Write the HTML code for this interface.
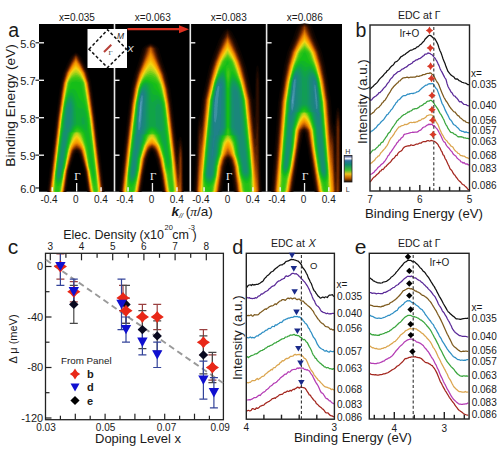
<!DOCTYPE html><html><head><meta charset="utf-8"><style>html,body{margin:0;padding:0;background:#fff;width:504px;height:461px;overflow:hidden}svg{display:block}</style></head><body><svg width="504" height="461" viewBox="0 0 504 461" font-family="Liberation Sans, sans-serif" fill="#1a1a1a">
<defs>
<filter id="cm" x="0" y="0" width="1" height="1" color-interpolation-filters="sRGB" filterUnits="objectBoundingBox">
<feGaussianBlur stdDeviation="0.6"/>
<feComponentTransfer><feFuncR type="table" tableValues="0.000 0.056 0.112 0.174 0.260 0.346 0.431 0.519 0.606 0.693 0.770 0.831 0.892 0.944 0.956 0.968 0.980 0.974 0.968 0.962 0.882 0.784 0.686 0.539 0.392 0.262 0.201 0.140 0.078 0.070 0.062 0.063 0.070 0.077 0.090 0.104 0.118 0.235 0.353 0.637 0.922"/><feFuncG type="table" tableValues="0.000 0.017 0.034 0.054 0.088 0.123 0.157 0.211 0.266 0.320 0.377 0.439 0.500 0.558 0.600 0.643 0.686 0.735 0.784 0.833 0.840 0.836 0.831 0.815 0.798 0.782 0.770 0.757 0.745 0.712 0.680 0.648 0.617 0.587 0.558 0.530 0.502 0.565 0.627 0.794 0.961"/><feFuncB type="table" tableValues="0.000 0.000 0.000 0.000 0.000 0.000 0.000 0.000 0.000 0.000 0.000 0.000 0.000 0.000 0.000 0.000 0.000 0.025 0.049 0.074 0.084 0.091 0.098 0.091 0.084 0.080 0.086 0.092 0.098 0.155 0.212 0.273 0.336 0.399 0.445 0.487 0.529 0.637 0.745 0.873 1.000"/></feComponentTransfer>
</filter>
<linearGradient id="cbar" x1="0" y1="1" x2="0" y2="0">
<stop offset="0" stop-color="#1a0800"/><stop offset="0.15" stop-color="#c06000"/><stop offset="0.3" stop-color="#f0c020"/>
<stop offset="0.45" stop-color="#40c030"/><stop offset="0.65" stop-color="#108c70"/><stop offset="0.8" stop-color="#3070a0"/>
<stop offset="0.88" stop-color="#f0f4ff"/><stop offset="1" stop-color="#203070"/>
</linearGradient>
</defs>
<rect width="504" height="461" fill="#fff"/>

<rect x="39" y="24" width="303" height="167.5" fill="#000"/>
<g filter="url(#cm)"><rect x="39" y="24" width="303" height="167.5" fill="#000"/>
<path fill="rgb(6,6,6)" fill-rule="evenodd" d="M104.5,191.6L101.5,191.9L92.0,192.0L88.5,191.8L86.9,191.5L83.9,171.0L82.5,166.0L78.5,154.0L77.0,152.9L76.5,152.9L75.1,154.0L71.0,166.2L70.0,169.7L69.5,172.1L66.7,191.5L64.0,191.9L57.0,192.0L49.5,191.9L46.9,191.5L55.6,118.0L59.1,92.0L60.6,82.0L62.9,73.0L66.8,64.0L69.8,58.0L70.7,56.5L72.5,54.5L75.0,52.6L76.0,52.2L78.1,53.5L79.8,55.0L81.5,57.0L82.8,59.5L85.3,64.5L88.9,73.0L91.2,82.0L92.7,92.0L96.2,118.0L104.8,191.0L104.9,191.5L104.5,191.6Z"/>
<path fill="rgb(13,13,13)" fill-rule="evenodd" d="M103.5,191.6L100.5,191.9L93.0,192.0L89.5,191.8L87.8,191.5L85.0,172.1L84.5,169.7L79.8,154.0L78.5,152.3L77.0,150.9L76.5,151.0L75.5,151.9L73.8,154.0L69.5,168.1L68.7,171.0L65.8,191.5L63.5,191.9L57.0,192.0L50.5,191.9L48.0,191.5L56.6,118.0L60.1,92.0L61.7,82.0L64.1,73.0L68.2,64.0L71.8,57.0L74.2,54.5L76.0,53.3L78.0,54.8L80.0,57.0L83.6,64.0L87.7,73.0L90.2,82.5L91.7,92.0L95.2,118.0L103.9,191.5L103.5,191.6Z"/>
<path fill="rgb(19,19,19)" fill-rule="evenodd" d="M103.0,191.6L100.5,191.9L94.0,191.9L90.5,191.9L88.4,191.5L85.4,171.0L84.5,167.6L80.6,154.0L78.3,150.5L77.0,150.0L75.2,150.5L73.0,154.0L69.5,166.1L68.2,171.0L65.2,191.5L63.0,191.9L57.0,191.9L51.0,191.9L48.6,191.5L57.2,118.0L60.8,92.0L62.3,82.5L64.9,73.0L68.8,64.5L72.8,57.0L74.7,55.0L76.0,54.1L77.5,55.4L79.0,57.0L82.8,64.0L86.9,73.0L89.4,82.0L91.2,93.0L94.6,118.5L103.2,191.5L103.0,191.6Z"/>
<path fill="rgb(26,26,26)" fill-rule="evenodd" d="M102.5,191.6L100.0,191.9L94.0,191.9L90.5,191.8L88.8,191.5L85.8,171.0L81.1,154.0L79.4,150.5L77.0,149.3L75.5,149.7L74.2,150.5L72.5,154.0L67.8,171.0L64.8,191.5L62.5,191.9L57.0,191.9L51.5,191.9L49.0,191.5L57.7,118.0L61.3,92.0L62.8,82.5L65.4,73.0L68.2,67.0L69.7,64.0L73.6,57.0L75.0,55.5L76.0,54.9L78.2,57.0L82.1,64.0L85.2,70.5L86.4,73.0L89.1,83.0L90.7,93.0L94.2,118.5L102.8,191.5L102.5,191.6Z"/>
<path fill="rgb(32,32,32)" fill-rule="evenodd" d="M102.0,191.6L99.5,191.9L94.0,191.9L91.0,191.8L89.2,191.5L86.2,171.0L81.6,154.0L80.1,150.5L78.5,149.3L77.0,148.7L75.5,149.1L73.5,150.5L72.0,154.0L67.4,171.0L64.4,191.5L62.0,191.8L57.0,191.9L52.0,191.8L49.4,191.5L58.1,118.0L61.6,92.0L63.3,82.0L65.9,73.0L67.8,69.0L70.3,64.0L74.2,57.0L75.5,55.8L76.0,55.5L77.6,57.0L79.9,61.0L81.8,64.5L85.9,73.0L88.7,83.0L90.2,92.0L93.8,118.0L102.3,191.0L102.4,191.5L102.0,191.6Z"/>
<path fill="rgb(38,38,38)" fill-rule="evenodd" d="M102.0,191.5L99.5,191.8L95.0,191.9L91.5,191.8L89.5,191.5L86.5,171.0L82.0,154.0L80.5,150.4L79.0,149.0L77.0,148.0L76.0,148.2L75.0,148.7L73.0,150.5L71.6,154.0L67.1,171.0L64.1,191.5L62.0,191.8L57.0,191.9L52.0,191.8L49.7,191.5L58.4,118.0L61.8,93.0L63.4,83.0L66.3,73.0L70.2,65.0L72.2,61.5L74.8,57.0L76.0,56.1L77.0,57.0L80.8,63.5L85.5,73.0L88.4,83.0L89.8,92.0L93.4,118.0L102.0,191.5Z"/>
<path fill="rgb(45,45,45)" fill-rule="evenodd" d="M101.5,191.6L99.0,191.8L94.5,191.9L91.5,191.8L89.7,191.5L86.7,171.0L82.3,154.0L81.1,150.5L80.5,149.8L79.0,148.3L77.0,147.4L76.0,147.6L75.0,148.1L73.5,149.3L72.6,150.5L71.3,154.0L66.9,171.0L63.9,191.5L61.5,191.8L57.0,191.9L52.5,191.8L50.0,191.5L58.6,118.0L62.3,92.0L63.7,83.0L66.7,73.0L71.2,64.0L75.4,57.0L76.0,56.6L77.0,57.9L80.6,64.0L85.1,73.0L88.1,83.0L89.7,93.0L93.2,118.0L101.8,191.5L101.5,191.6Z"/>
<path fill="rgb(51,51,51)" fill-rule="evenodd" d="M101.5,191.5L99.5,191.8L95.5,191.9L92.0,191.8L90.0,191.5L86.9,171.0L82.6,154.0L81.5,150.5L80.5,149.2L79.0,147.7L77.0,146.7L76.0,146.9L75.0,147.4L73.5,148.7L72.2,150.5L71.0,154.0L66.6,171.0L63.6,191.5L61.5,191.8L57.0,191.9L52.5,191.8L50.3,191.5L58.9,118.0L62.5,92.0L64.1,82.5L67.0,73.0L71.6,64.0L75.0,58.4L76.0,57.2L80.2,64.0L84.8,73.0L87.8,83.0L89.3,92.0L92.9,118.0L101.5,191.5Z"/>
<path fill="rgb(57,57,57)" fill-rule="evenodd" d="M101.0,191.6L99.0,191.8L94.5,191.8L90.2,191.5L87.2,171.0L82.9,154.0L81.8,150.5L80.5,148.5L79.0,147.0L77.0,146.0L76.5,146.1L75.0,146.8L74.0,147.5L73.0,148.7L71.8,150.5L70.7,154.0L66.4,171.0L63.4,191.5L61.5,191.8L57.0,191.8L52.5,191.8L50.5,191.5L59.1,118.0L62.8,92.0L64.2,83.0L67.3,73.0L72.0,64.0L75.5,58.5L76.0,58.0L79.8,64.0L84.5,73.0L87.5,83.0L89.1,92.5L92.7,118.0L101.3,191.5L101.0,191.6Z"/>
<path fill="rgb(64,64,64)" fill-rule="evenodd" d="M101.0,191.5L99.0,191.8L95.5,191.8L92.0,191.7L90.4,191.5L87.4,171.0L83.0,153.3L82.1,150.5L80.5,147.9L79.0,146.4L77.0,145.4L76.5,145.4L75.0,146.1L74.0,146.9L73.0,148.0L71.5,150.5L70.5,153.7L66.2,171.0L63.2,191.5L61.0,191.8L57.0,191.8L53.0,191.8L50.7,191.5L59.3,118.0L63.0,92.0L64.5,83.0L67.6,73.0L72.4,64.0L75.5,59.3L76.0,58.8L79.5,64.2L84.2,73.0L87.3,83.0L88.8,92.0L92.4,118.0L101.0,191.5Z"/>
<path fill="rgb(70,70,70)" fill-rule="evenodd" d="M100.5,191.6L94.5,191.8L90.6,191.5L87.5,171.0L83.0,152.4L82.4,150.5L80.5,147.2L79.0,145.7L77.0,144.7L76.5,144.8L75.0,145.5L73.5,146.8L72.0,149.0L71.0,151.2L66.0,171.0L63.0,191.5L61.0,191.7L57.0,191.8L53.0,191.7L50.9,191.5L59.6,118.0L63.2,92.0L64.7,83.0L67.9,73.0L72.8,64.0L75.5,60.1L76.0,59.6L79.0,64.1L83.9,73.0L87.1,83.0L88.6,92.0L92.2,118.0L100.9,191.5L100.5,191.6Z"/>
<path fill="rgb(76,76,76)" fill-rule="evenodd" d="M100.5,191.5L95.0,191.8L90.8,191.5L87.7,171.0L83.0,151.5L82.0,149.0L80.5,146.6L79.0,145.1L77.0,144.1L76.5,144.1L75.0,144.8L73.5,146.1L72.2,148.0L70.9,150.5L69.9,154.0L65.9,171.0L62.8,191.5L61.0,191.7L57.0,191.8L51.1,191.5L59.8,118.0L63.5,92.0L64.9,83.0L68.2,73.0L73.0,64.5L75.5,60.8L76.0,60.4L79.0,64.8L83.6,73.0L86.9,83.0L88.3,92.0L92.0,118.0L100.7,191.5L100.5,191.5Z"/>
<path fill="rgb(83,83,83)" fill-rule="evenodd" d="M100.0,191.6L94.5,191.8L91.0,191.5L87.9,171.0L83.0,150.5L81.6,147.5L80.5,145.9L79.0,144.4L77.0,143.4L76.5,143.4L75.0,144.1L73.5,145.5L72.0,147.6L70.7,150.5L65.7,171.0L62.6,191.5L57.0,191.8L51.3,191.5L60.0,118.0L63.7,92.0L65.1,83.0L68.5,73.0L73.5,64.4L75.5,61.6L76.0,61.3L79.0,65.5L83.3,73.0L86.7,83.0L88.1,92.0L91.8,118.0L100.5,191.5L100.0,191.6Z"/>
<path fill="rgb(89,89,89)" fill-rule="evenodd" d="M100.0,191.5L95.0,191.7L91.2,191.5L88.1,171.0L83.3,150.5L82.0,147.6L80.5,145.2L79.0,143.7L77.0,142.7L76.5,142.8L75.0,143.5L73.5,144.8L72.0,147.0L70.4,150.5L65.5,171.0L62.4,191.5L57.0,191.7L51.5,191.5L60.1,118.0L63.9,92.0L65.4,83.0L68.8,73.0L73.0,65.9L75.0,63.1L76.0,62.1L79.0,66.2L83.0,73.0L86.4,83.0L87.9,92.0L91.6,118.0L100.3,191.5L100.0,191.5Z"/>
<path fill="rgb(96,96,96)" fill-rule="evenodd" d="M100.0,191.5L95.5,191.7L91.3,191.5L88.2,171.0L87.2,167.0L83.5,150.5L82.0,146.9L80.5,144.5L79.0,143.1L77.0,142.1L76.0,142.3L75.0,142.8L73.0,144.7L71.5,147.3L70.2,150.5L66.4,167.0L65.4,171.0L62.3,191.5L57.0,191.7L51.7,191.5L60.3,118.0L64.1,92.0L65.6,83.0L66.5,79.9L69.1,73.0L73.0,66.6L75.0,63.9L76.0,63.0L79.0,66.9L82.7,73.0L85.0,79.1L86.2,83.0L87.7,92.0L91.5,118.0L100.0,191.5Z"/>
<path fill="rgb(102,102,102)" fill-rule="evenodd" d="M99.5,191.6L95.0,191.7L91.5,191.5L88.4,171.0L87.4,167.0L83.8,150.5L82.5,147.2L81.0,144.5L79.5,142.8L77.0,140.9L76.5,141.0L76.0,141.3L74.0,142.9L73.0,144.0L71.5,146.6L69.9,150.5L66.3,167.0L65.2,171.0L62.1,191.5L57.0,191.7L51.9,191.5L60.5,118.0L64.3,92.0L65.8,83.0L67.0,79.2L69.4,73.0L73.0,67.4L75.0,64.8L76.0,63.9L79.0,67.7L82.4,73.0L85.0,79.8L86.0,83.0L87.5,92.0L91.3,118.0L99.9,191.5L99.5,191.6Z"/>
<path fill="rgb(108,108,108)" fill-rule="evenodd" d="M99.5,191.5L95.5,191.7L91.7,191.5L88.6,171.0L87.5,167.0L84.0,150.5L82.5,146.5L81.2,144.0L78.5,140.9L77.0,139.7L76.5,139.8L75.5,140.5L72.5,144.1L71.0,147.0L69.7,150.5L66.1,167.0L65.0,171.0L61.9,191.5L57.0,191.7L52.1,191.5L60.7,118.0L64.5,92.0L66.0,83.0L67.5,78.5L69.8,73.0L73.5,67.5L75.5,65.2L76.0,64.9L79.0,68.4L82.0,73.0L84.5,79.1L85.8,83.0L87.3,92.0L91.1,118.0L99.7,191.5L99.5,191.5Z"/>
<path fill="rgb(115,115,115)" fill-rule="evenodd" d="M99.0,191.6L95.0,191.7L91.9,191.5L88.8,171.0L87.7,167.0L84.3,150.5L83.0,146.8L81.5,143.8L79.0,140.2L78.0,139.2L77.0,138.5L76.5,138.6L75.0,139.8L72.5,143.3L71.0,146.2L69.5,150.5L65.9,167.0L64.9,171.0L61.7,191.5L57.0,191.7L52.3,191.5L60.9,118.0L64.5,93.1L66.2,83.0L68.0,78.0L70.2,73.0L73.5,68.4L75.0,66.8L76.0,66.0L78.5,68.6L81.6,73.0L84.0,78.5L85.6,83.0L87.1,92.0L90.9,118.0L99.5,191.5L99.0,191.6Z"/>
<path fill="rgb(121,121,121)" fill-rule="evenodd" d="M99.0,191.5L95.5,191.6L92.1,191.5L88.9,171.0L87.9,167.0L84.6,150.5L83.2,146.5L82.0,143.8L79.0,139.0L78.0,138.0L77.0,137.3L76.5,137.3L75.5,138.1L74.0,140.0L71.2,145.0L69.2,150.5L65.8,167.0L64.7,171.0L61.5,191.5L57.0,191.7L52.5,191.5L54.4,174.5L61.0,118.0L63.9,98.5L66.4,83.0L68.0,78.7L70.6,73.0L73.5,69.3L75.0,67.9L76.0,67.2L78.5,69.5L81.2,73.0L83.5,77.9L85.4,83.0L87.0,92.8L90.7,118.0L97.5,176.0L99.3,191.5L99.0,191.5Z"/>
<path fill="rgb(128,128,128)" fill-rule="evenodd" d="M99.0,191.5L95.5,191.6L92.3,191.5L89.1,171.0L88.1,167.0L84.8,150.5L83.0,145.1L80.5,140.1L79.0,137.7L78.0,136.7L77.0,136.0L76.5,136.1L75.5,136.8L74.5,138.0L73.5,139.6L70.9,145.0L69.0,150.5L65.6,167.0L64.5,171.0L61.3,191.5L57.0,191.6L52.8,191.5L54.7,173.0L61.2,118.0L64.0,98.9L66.7,83.0L68.5,78.2L71.1,73.0L74.0,69.8L76.0,68.5L78.5,70.5L80.7,73.0L83.0,77.6L85.1,83.0L86.6,92.0L90.5,118.0L99.0,191.5Z"/>
<path fill="rgb(134,134,134)" fill-rule="evenodd" d="M98.5,191.5L92.5,191.5L89.3,171.0L88.2,167.0L85.1,150.5L83.3,145.0L80.5,138.7L79.0,136.4L78.0,135.4L77.0,134.8L76.5,134.9L75.5,135.6L74.5,136.7L73.5,138.3L70.5,145.0L68.8,150.5L65.4,167.0L64.4,171.0L61.1,191.5L53.0,191.5L54.8,173.5L61.4,118.0L64.0,100.0L66.9,83.0L69.0,77.9L71.5,73.5L74.0,71.0L76.0,69.9L78.5,71.5L80.5,73.8L83.0,78.3L84.9,83.0L86.5,92.7L90.3,118.0L97.0,175.0L98.8,191.5L98.5,191.5Z"/>
<path fill="rgb(140,140,140)" fill-rule="evenodd" d="M98.5,191.5L92.8,191.5L89.5,171.0L88.4,167.0L86.1,154.0L84.8,148.5L83.5,144.5L80.5,137.3L79.0,135.1L78.0,134.1L77.0,133.6L76.5,133.6L75.5,134.3L74.5,135.4L73.5,137.0L70.5,144.2L69.2,148.0L67.8,154.0L65.3,167.0L64.2,171.0L60.8,191.5L53.3,191.5L54.9,173.5L61.5,118.0L64.0,101.2L67.2,83.0L67.5,82.0L69.0,78.8L71.5,74.6L73.5,72.5L75.0,71.7L76.0,71.4L78.5,72.7L80.5,74.8L83.0,79.2L84.6,83.0L90.1,118.0L96.5,172.4L98.5,191.5Z"/>
<path fill="rgb(147,147,147)" fill-rule="evenodd" d="M98.0,191.5L93.1,191.5L89.7,171.0L88.7,167.0L86.3,153.5L84.9,147.5L82.0,139.2L80.6,136.0L79.0,133.8L78.0,132.9L77.0,132.5L76.4,132.5L75.0,133.5L73.5,135.6L72.0,139.0L69.1,147.5L67.7,153.5L65.1,167.0L64.0,171.0L60.6,191.5L53.5,191.5L54.1,186.5L55.0,174.4L61.5,119.6L63.5,105.4L65.5,93.7L67.5,83.0L68.0,81.6L70.0,77.9L71.5,75.7L73.5,73.9L75.5,73.0L76.5,73.1L78.0,73.7L80.0,75.4L82.5,79.1L84.0,82.0L84.3,83.0L90.0,119.3L96.5,174.3L98.2,191.5L98.0,191.5Z"/>
<path fill="rgb(153,153,153)" fill-rule="evenodd" d="M97.5,191.5L93.4,191.5L89.9,171.0L88.9,167.0L86.7,154.0L85.1,147.0L82.4,138.5L80.9,135.0L80.0,133.6L79.0,132.5L77.0,132.2L74.8,132.5L73.5,134.2L72.0,137.5L69.1,146.5L67.7,152.0L64.9,167.0L63.8,171.0L60.2,191.5L53.9,191.5L54.4,187.0L54.9,178.0L55.5,171.5L62.0,117.0L63.5,106.6L65.0,97.7L67.9,83.0L68.2,82.0L70.0,78.9L71.5,76.9L73.5,75.4L75.5,74.7L76.5,74.7L78.0,75.2L80.0,76.6L82.0,79.2L83.5,81.8L84.0,83.0L89.6,118.0L96.3,175.0L97.9,191.5L97.5,191.5Z"/>
<path fill="rgb(159,159,159)" fill-rule="evenodd" d="M97.0,191.5L93.8,191.5L92.9,185.5L91.0,176.3L90.2,171.0L89.1,167.0L86.4,150.5L85.3,146.0L82.6,137.5L81.5,134.6L80.2,132.5L77.0,131.8L73.7,132.5L73.1,133.5L71.5,137.5L68.9,146.0L67.3,153.0L64.7,167.0L63.6,171.0L62.5,177.9L60.6,186.5L59.9,191.5L54.3,191.5L54.8,187.0L55.0,178.6L55.5,172.9L62.0,118.5L64.5,101.8L68.5,82.4L70.0,79.9L71.5,78.2L73.0,77.2L75.0,76.5L76.0,76.4L77.5,76.6L79.0,77.3L80.0,78.0L82.0,80.2L83.5,83.0L88.5,112.5L89.5,119.5L96.0,174.4L96.9,186.0L97.5,191.5L97.0,191.5Z"/>
<path fill="rgb(166,166,166)" fill-rule="evenodd" d="M96.5,191.5L94.4,191.5L93.7,187.0L91.5,177.3L90.5,171.0L89.4,167.0L86.8,150.5L85.7,146.0L83.2,137.0L82.3,134.5L81.3,132.5L79.8,132.0L78.0,130.8L77.0,130.5L76.1,131.0L75.1,132.0L72.9,132.5L72.0,134.5L70.8,138.0L67.5,150.5L64.5,167.0L63.4,171.0L62.0,179.2L60.2,186.5L59.4,191.5L54.8,191.5L55.3,187.0L55.2,180.0L55.5,174.5L62.3,118.0L64.5,103.0L68.8,83.0L70.0,81.0L71.5,79.6L73.0,78.7L74.5,78.3L76.0,78.1L77.0,78.2L79.5,79.0L81.5,80.7L82.5,82.0L83.0,83.0L89.0,118.1L95.6,173.5L96.0,178.1L96.3,186.5L96.9,191.5L96.5,191.5Z"/>
<path fill="rgb(172,172,172)" fill-rule="evenodd" d="M58.5,191.5L55.5,191.5L56.0,187.0L55.5,181.5L55.6,176.5L62.5,118.0L64.5,104.4L66.0,97.0L68.7,87.0L69.5,83.0L70.5,81.7L72.5,80.5L75.0,79.9L77.5,80.0L79.0,80.3L80.5,81.1L81.5,81.9L82.3,83.0L84.7,97.5L88.0,114.1L95.3,174.0L95.6,180.0L95.3,185.0L95.0,186.3L94.5,185.8L93.5,183.3L92.0,177.8L90.8,171.0L89.8,167.0L87.3,150.5L86.3,146.0L83.4,135.5L82.2,132.5L81.1,132.0L79.0,130.0L78.0,129.5L77.0,129.2L76.5,129.4L75.5,130.3L74.2,132.0L72.2,132.5L70.9,136.0L67.2,150.5L64.2,167.0L63.2,171.0L62.0,177.9L61.0,181.9L59.4,187.0L58.7,191.5L58.5,191.5Z"/>
<path fill="rgb(178,178,178)" fill-rule="evenodd" d="M58.5,186.0L58.0,186.4L57.5,186.4L57.0,185.8L56.2,183.5L55.8,179.5L55.9,174.5L61.2,132.0L63.0,116.2L65.0,103.2L67.0,94.7L68.0,91.6L70.2,86.0L70.8,83.0L72.0,82.2L73.5,81.8L76.0,81.6L78.5,81.9L80.0,82.3L81.0,83.0L83.3,96.0L86.0,106.8L87.5,114.2L88.5,121.2L89.5,132.0L94.5,171.1L95.0,176.5L94.8,180.0L94.5,181.1L94.0,181.2L93.0,179.3L92.0,175.6L91.3,171.0L90.2,167.0L87.9,150.5L86.8,145.5L83.8,134.0L83.2,132.5L82.4,132.0L80.0,129.2L78.5,128.3L77.0,127.9L76.0,128.5L75.0,129.5L73.3,132.0L71.5,132.5L71.0,134.0L66.9,150.5L64.0,167.0L62.9,171.0L61.5,178.8L60.0,183.4L58.5,186.0Z"/>
<path fill="rgb(185,185,185)" fill-rule="evenodd" d="M58.5,183.8L58.0,184.0L57.5,183.8L57.0,183.3L56.5,182.0L56.0,178.5L56.2,174.5L61.3,132.5L61.5,132.0L63.1,118.0L64.5,107.6L66.5,98.2L67.5,95.0L68.5,92.6L69.5,90.9L71.0,89.3L72.0,88.9L73.5,88.8L74.9,89.5L76.0,90.7L76.9,92.5L79.0,98.0L80.0,99.3L82.0,101.2L83.5,103.4L85.0,107.1L86.5,112.7L87.5,118.2L88.1,124.0L88.6,132.0L89.0,132.5L90.8,149.0L93.5,167.9L94.1,173.5L94.0,176.5L93.5,177.0L93.0,176.2L92.5,174.6L91.9,171.0L90.8,167.0L88.8,150.5L85.8,137.0L84.8,133.5L84.4,132.5L83.8,132.0L82.0,129.5L80.5,127.9L79.0,126.9L78.0,126.6L77.0,126.6L76.0,127.1L75.0,128.0L73.9,129.5L72.6,132.0L70.9,132.5L70.7,133.0L67.2,147.5L63.7,167.0L62.7,171.0L61.5,177.5L60.0,181.9L59.5,182.8L58.5,183.8Z"/>
<path fill="rgb(191,191,191)" fill-rule="evenodd" d="M58.5,182.2L58.0,182.3L57.5,182.0L57.0,181.2L56.6,180.0L56.4,177.5L56.5,174.0L61.7,132.5L61.9,132.0L63.4,118.0L64.5,109.6L66.0,101.8L67.5,96.9L68.5,94.8L69.5,93.4L70.5,92.7L71.5,92.6L72.3,93.0L73.0,93.6L74.2,95.5L75.3,98.5L77.5,106.1L78.2,107.5L79.0,108.3L79.5,108.4L81.5,108.0L82.5,108.3L83.5,109.1L84.5,110.8L85.5,113.6L86.5,118.1L87.2,124.0L87.0,129.5L86.5,130.8L86.0,130.9L85.5,130.7L81.8,127.0L80.5,125.9L79.0,125.2L77.0,125.1L75.5,126.0L74.5,127.1L73.3,129.0L71.8,132.0L70.3,132.5L69.2,136.5L66.8,147.5L63.4,167.0L62.4,171.0L61.5,176.1L60.0,180.5L59.5,181.3L58.5,182.2Z"/>
<path fill="rgb(198,198,198)" fill-rule="evenodd" d="M58.5,180.7L58.0,180.7L57.5,180.3L57.0,179.1L56.7,176.5L56.8,173.5L62.0,132.5L62.4,132.0L63.8,118.0L65.0,108.8L66.0,103.7L67.5,98.8L69.0,96.2L70.0,95.4L71.0,95.4L72.0,96.0L73.2,98.0L74.1,100.5L74.9,104.0L75.6,110.0L76.1,118.0L76.1,124.0L75.0,124.8L73.7,126.5L72.5,128.8L71.1,132.0L69.6,132.5L66.3,148.0L63.0,167.0L62.0,171.0L61.4,175.0L60.8,177.0L60.0,179.1L59.5,179.9L58.5,180.7ZM84.5,124.5L83.5,124.7L81.6,124.0L81.5,119.0L81.9,117.5L82.5,116.8L83.0,116.6L83.5,117.0L84.0,117.8L84.4,119.0L84.9,124.0L84.5,124.5Z"/>
<path fill="rgb(204,204,204)" fill-rule="evenodd" d="M59.0,179.1L58.5,179.3L58.0,179.1L57.5,178.3L57.1,176.0L57.1,173.5L62.5,132.5L62.9,132.0L64.0,120.4L65.3,109.5L66.5,103.8L67.5,100.8L68.0,99.7L69.0,98.3L69.5,98.0L70.5,97.8L71.5,98.5L72.5,100.3L73.2,102.5L73.8,105.5L74.1,109.5L74.1,124.0L72.5,126.7L70.3,132.0L68.9,132.5L65.8,148.0L62.6,167.0L61.6,171.0L61.0,174.9L60.0,177.7L59.0,179.1Z"/>
<path fill="rgb(210,210,210)" fill-rule="evenodd" d="M59.0,177.5L58.5,177.6L57.9,177.0L57.6,175.5L57.6,173.5L61.2,147.5L63.1,132.5L63.6,132.0L64.5,121.2L65.9,109.0L66.5,106.2L67.5,103.0L68.5,101.1L69.0,100.6L70.0,100.3L71.0,100.9L71.6,102.0L72.3,104.0L72.8,107.0L73.0,110.0L72.7,124.0L69.4,132.0L68.2,132.5L65.3,147.5L62.1,167.0L61.1,171.0L60.5,174.8L60.0,176.2L59.0,177.5Z"/>
<path fill="rgb(217,217,217)" fill-rule="evenodd" d="M59.0,175.6L58.5,175.4L58.3,174.5L58.5,170.9L61.7,150.0L63.9,132.5L64.8,132.0L65.0,124.0L66.5,110.0L67.0,107.3L68.0,104.5L68.5,103.6L69.5,103.0L70.0,103.1L70.4,103.5L71.0,104.5L71.5,106.3L71.7,108.0L71.3,124.0L68.2,132.0L67.2,132.5L64.3,148.0L61.5,166.9L60.5,171.0L60.0,173.9L59.5,175.1L59.0,175.6Z"/>
<path fill="rgb(223,223,223)" fill-rule="evenodd" d="M67.5,128.3L67.0,128.5L66.5,127.5L66.3,124.0L67.7,109.5L68.1,108.0L68.5,107.1L69.0,106.7L69.5,106.7L70.0,107.5L70.3,109.5L69.7,124.0L68.5,126.8L67.5,128.3Z"/>
<path fill="rgb(6,6,6)" fill-rule="evenodd" d="M183.5,191.7L181.0,191.9L167.5,192.0L164.0,191.9L161.9,191.5L159.5,175.0L158.3,169.0L155.7,159.0L152.8,152.0L152.0,151.5L151.0,152.0L148.0,159.4L145.7,169.0L144.5,175.0L142.1,191.5L139.0,191.9L131.0,192.0L122.0,191.9L118.9,191.5L123.3,150.0L128.7,104.0L130.7,89.0L131.6,84.5L134.0,74.5L138.6,61.0L142.1,48.5L144.0,46.5L145.9,45.0L148.0,43.9L150.0,43.2L151.0,43.2L152.3,43.5L155.0,44.8L157.2,46.5L159.0,48.5L162.5,60.8L167.2,74.5L170.4,88.5L172.7,105.5L176.0,134.1L177.0,140.6L177.5,141.5L178.0,140.8L179.4,137.5L180.0,136.8L180.5,136.7L181.0,137.0L181.5,137.8L182.2,140.0L182.9,145.0L183.4,154.0L183.9,191.5L183.5,191.7Z"/>
<path fill="rgb(13,13,13)" fill-rule="evenodd" d="M183.0,191.6L181.0,191.9L169.5,192.0L165.5,191.9L163.0,191.5L160.5,174.4L157.0,159.0L154.3,152.0L152.0,149.9L151.0,150.6L149.5,152.0L146.8,159.0L143.5,174.7L141.0,191.5L138.0,191.9L131.0,192.0L123.0,191.9L120.1,191.5L124.7,148.0L129.8,104.5L132.1,88.5L135.3,75.0L140.4,60.5L144.0,48.5L145.0,47.3L147.0,45.7L148.5,44.7L150.5,43.9L152.0,44.4L154.0,45.5L155.8,47.0L157.2,48.5L160.9,61.0L165.7,74.5L166.2,76.5L169.2,89.0L171.3,104.0L176.0,143.8L177.0,149.9L177.5,150.3L179.0,143.0L179.5,141.2L180.0,140.3L180.5,140.1L181.0,140.5L181.8,143.0L182.4,147.5L182.9,155.5L183.2,191.5L183.0,191.6Z"/>
<path fill="rgb(19,19,19)" fill-rule="evenodd" d="M182.5,191.6L180.5,191.9L169.5,191.9L166.0,191.9L163.7,191.5L161.0,173.6L157.8,159.0L155.2,152.0L153.0,149.3L152.0,148.7L151.3,149.0L150.5,149.7L148.7,152.0L146.0,159.0L142.8,175.0L140.3,191.5L137.5,191.9L131.0,191.9L124.0,191.9L120.8,191.5L125.2,150.0L130.2,107.0L132.9,88.5L136.2,75.0L141.5,60.5L145.2,48.5L147.5,46.3L150.5,44.6L152.0,45.2L153.5,46.1L155.2,47.5L156.0,48.5L159.9,61.0L164.8,74.5L167.3,84.0L168.3,88.5L170.6,104.0L176.5,153.8L177.0,156.8L177.5,157.9L178.0,155.6L179.2,146.0L179.9,143.5L180.5,143.0L181.0,143.6L181.5,145.2L182.1,150.0L182.5,157.0L182.8,191.5L182.5,191.6Z"/>
<path fill="rgb(26,26,26)" fill-rule="evenodd" d="M182.0,191.6L180.5,191.8L169.5,191.9L166.0,191.8L164.2,191.5L161.7,175.0L158.4,159.0L155.8,152.0L153.8,149.0L152.0,148.1L150.1,149.0L148.0,152.0L145.4,159.0L142.3,175.0L139.8,191.5L137.0,191.9L131.0,191.9L124.0,191.9L121.3,191.5L125.7,150.0L131.1,104.0L133.5,88.5L137.1,74.5L142.1,61.0L146.1,48.5L148.0,46.7L150.5,45.2L151.5,45.6L153.0,46.5L155.1,48.5L159.0,60.6L164.1,74.5L167.7,88.5L170.1,104.0L176.5,158.8L177.5,164.4L178.0,163.9L178.8,153.5L179.3,149.0L180.0,146.2L180.5,145.7L181.0,146.5L181.4,148.0L181.9,152.5L182.2,158.5L182.5,191.5L182.0,191.6Z"/>
<path fill="rgb(32,32,32)" fill-rule="evenodd" d="M182.0,191.5L180.5,191.8L171.0,191.9L167.0,191.8L164.6,191.5L162.1,175.0L158.9,159.0L156.4,152.0L155.5,150.5L154.5,148.9L153.5,148.2L152.0,147.4L150.5,148.1L149.5,148.8L148.5,150.2L147.5,152.0L145.0,159.0L141.9,175.0L139.4,191.5L137.0,191.8L131.0,191.9L124.5,191.8L121.7,191.5L126.2,150.0L131.3,106.5L134.0,88.5L137.6,74.5L142.9,60.5L146.9,48.5L148.5,47.0L150.5,45.8L152.5,46.9L154.3,48.5L158.5,61.0L163.6,74.5L167.2,88.5L169.6,104.0L176.5,162.9L177.5,169.2L178.0,170.0L178.5,167.3L179.0,156.5L179.5,151.4L180.0,149.1L180.5,148.5L181.0,149.4L181.5,152.6L181.8,158.0L182.2,191.5L182.0,191.5Z"/>
<path fill="rgb(38,38,38)" fill-rule="evenodd" d="M181.5,191.6L170.5,191.9L167.0,191.8L164.9,191.5L162.5,175.0L159.3,159.0L156.8,152.0L155.2,149.0L153.5,147.5L152.0,146.8L150.0,147.8L148.5,149.3L147.0,152.0L144.6,159.0L141.6,175.0L139.1,191.5L136.5,191.8L131.0,191.9L125.0,191.8L122.1,191.5L126.6,149.0L131.8,105.0L134.4,88.5L138.1,74.5L143.5,60.5L147.6,48.5L148.5,47.6L150.5,46.3L152.0,47.1L153.6,48.5L157.9,61.0L163.1,74.5L166.8,88.5L169.3,104.0L176.5,166.4L177.5,173.2L178.0,174.7L178.5,173.9L178.9,170.5L179.5,155.5L180.0,152.3L180.5,151.5L181.0,152.9L181.5,159.5L181.9,191.5L181.5,191.6Z"/>
<path fill="rgb(45,45,45)" fill-rule="evenodd" d="M181.5,191.5L171.5,191.9L167.5,191.8L165.2,191.5L162.8,175.0L159.6,159.0L157.2,152.0L155.7,149.0L154.0,147.3L152.0,146.1L150.0,147.1L148.2,149.0L146.6,152.0L144.2,159.0L141.3,175.0L138.8,191.5L136.5,191.8L131.0,191.9L125.0,191.8L122.4,191.5L126.8,150.0L132.2,104.0L134.7,88.5L138.5,74.5L144.0,60.5L148.2,48.5L149.0,47.8L150.5,46.9L152.0,47.6L153.0,48.5L157.4,61.0L162.7,74.5L166.4,88.5L169.0,104.0L177.0,173.4L178.0,178.6L178.5,178.8L179.0,176.3L179.3,173.0L180.0,157.0L180.5,155.4L180.8,157.0L181.0,159.5L181.5,191.5Z"/>
<path fill="rgb(51,51,51)" fill-rule="evenodd" d="M181.0,191.6L171.0,191.8L167.5,191.8L165.5,191.5L163.1,175.0L159.9,159.0L157.6,152.0L156.1,149.0L154.0,146.6L153.1,146.0L152.0,145.6L150.8,146.0L150.0,146.5L149.0,147.4L147.7,149.0L146.3,152.0L143.9,159.0L141.0,175.0L138.5,191.5L136.0,191.8L131.0,191.9L125.5,191.8L122.7,191.5L127.1,150.0L132.3,105.5L135.1,88.5L136.2,84.0L138.9,74.5L144.3,61.0L148.9,48.5L150.5,47.3L151.5,47.8L152.3,48.5L156.9,61.0L162.3,74.5L166.1,88.5L168.7,104.0L177.0,176.2L178.0,182.0L178.5,182.8L179.1,181.0L180.0,173.1L180.5,171.7L181.3,191.5L181.0,191.6Z"/>
<path fill="rgb(57,57,57)" fill-rule="evenodd" d="M180.5,191.6L171.0,191.8L167.5,191.7L165.7,191.5L163.3,175.0L160.2,159.0L157.9,152.0L156.5,149.0L155.5,147.5L154.0,146.0L152.0,145.1L149.8,146.0L148.5,147.3L147.5,148.7L146.0,152.0L143.6,159.0L140.8,175.0L138.3,191.5L136.0,191.8L131.0,191.8L125.5,191.8L122.9,191.5L127.4,150.0L132.8,104.0L135.4,88.5L136.6,83.5L139.2,74.5L149.5,48.7L150.5,47.8L151.6,48.5L162.0,74.5L164.7,84.0L165.8,88.5L168.4,104.0L177.5,182.4L178.0,185.0L178.5,186.3L179.0,186.1L180.0,182.7L180.3,183.5L180.5,184.2L181.0,191.5L180.5,191.6Z"/>
<path fill="rgb(64,64,64)" fill-rule="evenodd" d="M180.5,191.5L172.0,191.8L168.0,191.7L166.0,191.5L163.6,175.0L160.5,159.0L158.2,152.0L156.5,148.4L154.7,146.0L153.5,145.2L152.0,144.7L150.5,145.2L149.1,146.0L147.5,148.1L145.7,152.0L143.3,159.0L140.6,175.0L138.0,191.5L135.5,191.8L131.0,191.8L126.0,191.8L123.2,191.5L127.6,150.0L133.0,104.0L135.7,88.5L136.8,84.0L139.5,74.5L149.0,51.4L150.5,48.4L151.0,48.7L152.0,51.0L161.7,74.5L164.4,84.0L165.5,88.5L168.2,104.0L177.5,185.1L178.0,187.9L178.5,189.5L179.0,189.8L179.5,189.2L180.0,189.0L180.5,191.5Z"/>
<path fill="rgb(70,70,70)" fill-rule="evenodd" d="M178.0,191.5L171.5,191.8L166.2,191.5L163.8,175.0L160.7,159.0L158.5,152.0L156.5,147.8L155.0,145.8L153.5,144.7L152.0,144.2L150.5,144.7L149.5,145.2L148.5,146.0L147.5,147.5L145.4,152.0L143.1,159.0L140.3,175.0L137.8,191.5L135.5,191.7L131.0,191.8L126.0,191.7L123.4,191.5L127.9,150.0L133.3,104.0L135.9,88.5L137.0,84.0L139.9,74.5L150.5,49.7L151.0,50.3L152.0,52.5L161.3,74.5L164.2,84.0L165.3,88.5L167.9,104.0L173.3,150.0L177.0,183.8L178.2,191.5L178.0,191.5Z"/>
<path fill="rgb(76,76,76)" fill-rule="evenodd" d="M177.5,191.5L171.5,191.8L166.4,191.5L164.0,175.0L161.0,159.0L158.7,152.0L157.5,149.0L156.5,147.1L155.8,146.0L154.5,144.9L152.0,143.7L150.5,144.2L149.5,144.7L148.1,146.0L147.5,146.8L146.4,149.0L145.1,152.0L142.8,159.0L137.6,191.5L135.5,191.7L131.0,191.8L126.0,191.7L123.7,191.5L128.1,150.0L133.5,104.0L136.2,88.5L137.3,84.0L140.2,74.5L144.0,65.6L150.5,51.3L151.0,51.9L153.0,56.1L161.0,74.5L163.9,84.0L165.0,88.5L167.7,104.0L173.1,150.0L176.5,181.7L177.7,191.5L177.5,191.5Z"/>
<path fill="rgb(83,83,83)" fill-rule="evenodd" d="M177.0,191.5L171.0,191.8L166.6,191.5L164.2,175.0L161.2,159.0L159.0,152.0L157.8,149.0L156.5,146.5L155.5,145.2L154.5,144.4L152.0,143.2L150.5,143.7L149.5,144.2L147.5,146.2L146.1,149.0L144.9,152.0L142.6,159.0L137.4,191.5L131.0,191.8L123.9,191.5L128.3,150.0L133.7,104.0L136.3,89.0L137.6,84.0L140.5,74.5L144.5,65.4L150.5,52.9L151.0,53.5L153.0,57.4L157.5,67.1L160.7,74.5L163.6,84.0L164.8,88.5L167.5,104.0L172.9,150.0L177.4,191.5L177.0,191.5Z"/>
<path fill="rgb(89,89,89)" fill-rule="evenodd" d="M177.0,191.5L171.5,191.7L166.8,191.5L164.4,175.0L163.2,169.0L161.5,159.0L159.3,152.0L158.0,148.8L156.6,146.0L154.5,143.9L152.0,142.7L150.5,143.2L149.5,143.7L148.5,144.5L147.2,146.0L146.0,148.5L144.6,152.0L142.4,159.0L137.2,191.5L131.0,191.7L124.1,191.5L128.6,150.0L134.0,104.0L136.7,88.5L137.8,84.0L140.8,74.5L145.5,64.2L150.5,54.6L151.0,55.1L152.0,56.8L155.5,63.8L160.4,74.5L163.4,84.0L164.5,88.5L167.2,104.0L172.6,150.0L177.0,191.5Z"/>
<path fill="rgb(96,96,96)" fill-rule="evenodd" d="M176.5,191.5L171.5,191.7L167.1,191.5L164.6,175.0L163.4,169.0L161.7,159.0L159.5,152.0L157.0,146.0L156.0,144.7L154.5,143.4L152.0,142.2L150.5,142.7L149.0,143.6L148.0,144.5L146.9,146.0L144.3,152.0L142.2,159.0L140.7,169.0L139.5,175.0L136.9,191.5L131.0,191.7L124.3,191.5L128.8,150.0L134.2,104.0L136.8,89.0L138.1,84.0L141.2,74.5L145.5,65.2L150.5,56.1L151.0,56.6L152.0,58.2L155.0,63.8L160.0,74.5L163.1,84.0L164.3,89.0L167.2,105.5L172.4,150.0L176.9,191.5L176.5,191.5Z"/>
<path fill="rgb(102,102,102)" fill-rule="evenodd" d="M176.5,191.5L171.5,191.7L167.3,191.5L164.8,175.0L163.6,169.0L161.9,159.0L159.8,152.0L157.3,146.0L156.0,144.2L155.0,143.2L152.0,141.4L149.0,143.0L147.5,144.5L146.5,146.0L144.1,152.0L141.9,159.0L140.5,169.0L139.4,175.0L136.7,191.5L131.0,191.7L124.6,191.5L129.0,150.0L134.4,104.0L137.1,89.0L138.3,84.0L141.5,74.5L146.0,65.2L150.5,57.7L151.5,58.9L154.5,63.9L159.5,74.1L162.8,84.0L164.1,89.0L166.8,104.0L172.2,150.0L176.6,191.5L176.5,191.5Z"/>
<path fill="rgb(108,108,108)" fill-rule="evenodd" d="M176.0,191.5L171.5,191.7L167.5,191.5L165.1,175.0L163.8,169.0L162.1,159.0L160.2,152.5L158.3,147.5L157.0,144.9L155.5,143.1L152.0,140.4L151.0,140.9L148.4,143.0L147.1,144.5L146.2,146.0L143.9,152.0L141.7,159.0L140.3,169.0L139.2,175.0L136.5,191.5L131.0,191.7L124.8,191.5L129.2,150.0L134.6,104.0L137.3,89.0L138.6,84.0L141.9,74.5L146.5,65.3L148.5,62.1L150.5,59.4L151.0,59.7L152.0,61.1L154.5,65.0L157.0,69.6L159.3,74.5L162.6,84.0L163.8,89.0L166.8,105.5L173.2,161.0L176.4,191.5L176.0,191.5Z"/>
<path fill="rgb(115,115,115)" fill-rule="evenodd" d="M176.0,191.5L171.5,191.7L167.7,191.5L165.3,175.0L164.0,169.0L162.3,159.0L160.3,152.0L158.5,147.2L157.4,145.0L156.3,143.5L153.5,140.5L152.0,139.3L151.0,139.9L150.0,140.7L147.5,143.4L146.0,145.7L143.6,152.0L141.5,159.0L140.1,169.0L136.3,191.5L131.0,191.7L125.0,191.5L129.4,150.0L134.8,104.0L137.5,89.0L138.8,84.0L142.2,74.5L146.5,66.5L148.5,63.4L150.5,61.0L151.0,61.4L152.0,62.5L154.5,66.1L159.0,74.5L162.3,84.0L163.6,89.0L166.4,104.0L171.8,150.0L176.2,191.5L176.0,191.5Z"/>
<path fill="rgb(121,121,121)" fill-rule="evenodd" d="M175.5,191.5L171.5,191.6L167.9,191.5L165.5,175.0L164.2,169.0L162.6,159.0L160.5,152.0L158.5,146.4L157.5,144.5L154.0,139.9L152.0,138.3L150.5,139.2L149.5,140.2L148.3,142.0L147.0,143.5L145.8,145.5L143.4,152.0L141.3,159.0L139.9,169.0L136.1,191.5L131.0,191.7L125.3,191.5L129.5,150.0L134.9,104.0L137.7,89.0L139.1,84.0L142.7,74.5L145.0,70.1L147.0,66.9L149.0,64.2L150.5,62.7L152.0,64.0L154.0,66.6L156.0,69.8L158.5,74.4L162.0,84.0L163.5,89.9L166.1,103.5L166.7,108.0L172.7,160.5L175.9,191.5L175.5,191.5Z"/>
<path fill="rgb(128,128,128)" fill-rule="evenodd" d="M175.5,191.5L168.2,191.5L165.8,175.0L164.4,169.0L162.8,159.0L160.8,152.0L158.7,146.0L157.9,144.5L154.5,139.5L153.5,138.4L152.0,137.2L150.5,138.1L149.5,139.2L146.3,144.0L145.2,146.0L143.1,152.0L141.0,159.0L139.7,169.0L135.8,191.5L131.0,191.6L125.5,191.5L127.1,174.0L129.7,150.0L135.1,104.0L137.8,89.5L139.3,84.0L143.0,74.7L145.0,71.2L147.0,68.2L149.0,65.8L150.5,64.5L151.0,64.7L152.5,66.1L154.5,68.6L157.0,72.6L158.5,75.5L161.9,84.5L162.9,88.5L164.5,96.4L166.0,104.0L171.4,150.0L175.7,191.5L175.5,191.5Z"/>
<path fill="rgb(134,134,134)" fill-rule="evenodd" d="M175.0,191.5L168.4,191.5L166.0,175.0L164.7,169.0L163.0,159.0L161.0,152.0L159.0,146.0L158.0,144.1L156.6,142.0L154.5,138.4L153.5,137.3L152.0,136.2L150.5,137.1L149.5,138.1L146.0,143.8L144.9,146.0L142.9,152.0L140.8,159.0L139.5,169.0L136.7,184.5L135.6,191.5L125.8,191.5L127.2,175.0L128.9,159.0L135.3,104.0L137.8,90.5L139.5,84.0L141.5,79.0L143.5,74.7L147.0,69.6L148.5,67.9L150.5,66.4L151.0,66.6L152.5,67.8L155.0,70.6L157.5,74.5L159.0,77.8L161.4,84.0L162.6,88.5L165.5,102.6L172.0,157.7L175.4,191.5L175.0,191.5Z"/>
<path fill="rgb(140,140,140)" fill-rule="evenodd" d="M175.0,191.5L168.7,191.5L166.3,175.0L164.9,169.0L163.3,159.0L161.3,152.0L159.3,146.0L158.4,144.0L157.1,142.0L156.0,139.7L154.0,136.7L152.0,135.1L151.0,135.6L150.0,136.4L149.0,137.6L148.0,139.2L144.6,146.0L142.6,152.0L140.6,159.0L139.3,169.0L136.2,185.5L135.3,191.5L126.1,191.5L127.4,174.5L130.1,150.0L135.5,104.0L137.5,93.2L138.5,88.5L139.6,84.5L141.5,79.8L143.0,76.7L144.5,74.2L147.0,71.1L148.5,69.7L150.5,68.4L152.5,69.5L155.0,72.0L157.0,74.8L159.0,78.9L161.1,84.0L162.3,88.5L165.0,101.3L166.0,107.8L171.0,150.5L175.0,191.5Z"/>
<path fill="rgb(147,147,147)" fill-rule="evenodd" d="M174.5,191.5L169.1,191.5L166.6,175.0L165.0,168.1L163.5,159.0L161.6,152.0L159.7,146.0L157.6,142.0L156.0,138.5L154.0,135.6L152.8,134.5L152.0,134.4L151.0,134.5L150.0,135.3L149.0,136.4L148.0,138.0L144.3,146.0L142.4,152.0L140.3,159.0L139.1,169.0L135.8,186.0L135.0,191.5L126.4,191.5L126.9,187.0L127.6,175.0L130.3,150.0L135.7,104.0L137.5,94.2L138.7,88.5L139.9,84.5L141.5,80.6L143.0,77.7L144.5,75.3L146.5,73.1L148.5,71.5L150.5,70.6L151.5,70.9L153.0,71.7L155.0,73.5L157.0,76.2L159.0,80.1L160.7,84.0L162.0,88.5L165.0,102.5L166.0,109.8L171.9,161.0L172.9,174.0L174.7,191.5L174.5,191.5Z"/>
<path fill="rgb(153,153,153)" fill-rule="evenodd" d="M174.0,191.5L169.4,191.5L166.9,174.5L165.5,169.0L163.8,159.0L161.9,152.0L159.8,145.5L158.1,142.0L156.0,137.2L154.1,134.5L152.0,134.2L149.6,134.5L148.0,136.8L144.1,145.5L142.1,152.0L140.1,159.0L138.9,169.0L135.4,186.5L134.6,191.5L126.8,191.5L127.3,187.0L127.8,175.0L130.5,150.0L135.9,104.0L138.0,92.7L138.9,88.5L140.1,84.5L141.5,81.4L143.0,78.6L144.5,76.5L146.5,74.5L148.5,73.4L150.5,72.8L153.0,73.6L155.0,75.1L157.0,77.7L159.5,82.4L160.4,84.5L161.6,88.5L164.9,103.5L171.6,160.0L172.5,174.5L174.3,191.5L174.0,191.5Z"/>
<path fill="rgb(159,159,159)" fill-rule="evenodd" d="M173.5,191.5L169.9,191.5L167.3,174.5L165.5,167.6L164.1,159.0L160.4,146.0L158.5,142.0L157.0,137.9L155.4,135.0L155.1,134.5L152.0,133.8L148.6,134.5L148.5,134.7L147.0,137.5L145.3,142.0L143.6,146.0L139.8,159.0L138.6,169.0L137.0,177.6L134.9,187.0L134.2,191.5L127.3,191.5L127.7,187.0L127.7,179.5L128.0,174.0L130.5,151.6L136.0,104.7L136.5,101.6L139.0,89.1L140.6,84.0L142.5,80.3L144.5,77.6L146.5,76.0L148.5,75.2L150.5,75.0L152.0,75.3L153.5,76.0L155.0,77.0L156.0,78.0L158.0,80.8L160.0,84.8L161.5,90.2L164.5,102.8L165.5,110.0L171.5,161.5L172.1,174.5L173.8,191.5L173.5,191.5Z"/>
<path fill="rgb(166,166,166)" fill-rule="evenodd" d="M173.0,191.5L170.6,191.5L167.9,174.5L166.2,169.0L165.0,163.4L164.4,159.0L160.8,146.0L159.1,142.0L157.5,137.6L155.9,134.5L154.1,134.0L153.0,133.1L152.0,132.7L150.1,134.0L147.8,134.5L146.5,137.2L144.9,142.0L143.3,146.0L139.6,159.0L138.4,169.0L136.5,178.6L134.4,187.0L133.7,191.5L127.8,191.5L128.3,187.0L128.0,179.5L128.3,173.5L136.5,103.0L139.0,90.1L140.7,84.5L142.5,81.2L144.0,79.1L145.5,77.8L147.0,77.2L148.5,77.0L150.5,77.1L153.5,78.1L155.0,79.0L156.0,79.8L158.0,82.3L159.3,84.5L160.5,88.5L164.0,102.0L165.0,108.3L171.0,160.0L171.4,166.0L171.4,174.5L173.0,190.1L173.0,191.5Z"/>
<path fill="rgb(172,172,172)" fill-rule="evenodd" d="M132.5,191.5L128.7,191.5L129.0,187.0L128.3,181.0L128.3,176.0L130.0,159.9L136.5,104.0L139.0,91.2L139.7,88.5L141.1,84.5L143.0,81.3L144.5,79.7L145.5,79.0L146.5,78.6L148.5,78.6L150.5,79.1L154.5,80.7L156.5,82.1L158.1,84.0L161.5,94.2L163.9,103.5L165.0,111.3L170.8,161.5L171.0,168.0L170.2,174.5L170.1,177.5L170.0,177.9L169.4,175.0L166.7,169.0L165.5,164.2L164.7,159.0L162.9,152.0L161.2,146.0L159.6,142.0L158.0,137.3L156.8,134.5L155.3,134.0L153.5,132.3L152.0,131.5L150.5,132.4L149.1,134.0L147.1,134.5L145.8,137.5L144.4,142.0L142.9,146.0L139.3,159.0L138.1,169.0L136.5,177.3L135.5,181.2L133.6,187.0L132.9,191.5L132.5,191.5Z"/>
<path fill="rgb(178,178,178)" fill-rule="evenodd" d="M131.5,187.3L131.0,187.2L130.0,185.7L129.0,182.8L128.6,179.0L128.6,175.0L136.9,103.5L139.5,90.2L140.0,88.4L141.5,84.5L143.0,82.2L144.5,80.7L146.0,80.0L147.5,80.0L149.2,80.5L155.0,83.1L156.4,84.0L156.8,84.5L160.5,93.5L163.0,101.5L163.6,104.0L164.4,109.5L167.1,134.0L170.3,160.5L170.5,164.5L170.3,168.0L170.0,169.6L169.5,170.5L169.0,170.8L168.5,170.5L167.5,169.2L166.5,166.4L165.5,162.0L165.1,159.0L161.7,146.0L157.6,134.5L156.3,134.0L155.0,132.3L153.5,131.0L152.0,130.3L151.5,130.5L150.0,131.6L148.2,134.0L146.3,134.5L145.6,136.5L144.0,142.0L142.5,146.0L139.0,159.0L137.8,169.0L136.0,178.0L135.0,181.3L134.0,183.8L132.5,186.3L131.5,187.3Z"/>
<path fill="rgb(185,185,185)" fill-rule="evenodd" d="M132.5,184.0L131.5,184.4L131.0,184.3L130.0,183.3L129.5,182.2L128.9,179.0L128.9,175.0L131.0,155.9L133.6,134.5L133.8,134.0L137.1,104.0L139.5,91.3L140.3,88.5L141.5,85.4L142.5,83.7L144.0,82.1L145.5,81.3L147.0,81.3L148.8,82.0L152.8,84.5L153.4,86.5L154.2,88.0L157.5,91.2L158.5,92.4L160.0,95.0L161.0,97.3L163.0,103.5L164.0,110.4L166.5,134.0L166.7,134.5L169.8,160.5L170.0,163.0L169.8,165.5L169.5,167.1L169.0,167.9L168.5,168.0L168.0,167.7L167.5,166.9L166.5,164.2L166.0,162.0L165.6,159.0L162.3,146.0L160.8,142.0L159.7,138.0L158.4,134.5L157.3,134.0L155.6,131.5L154.0,130.0L152.0,129.1L151.0,129.5L150.0,130.2L149.0,131.3L147.4,134.0L145.7,134.5L145.3,135.5L143.5,142.0L142.1,146.0L138.6,159.0L137.5,169.0L136.0,176.5L134.5,181.1L133.5,183.0L132.5,184.0Z"/>
<path fill="rgb(191,191,191)" fill-rule="evenodd" d="M132.0,182.6L131.0,182.5L130.5,182.1L129.7,180.5L129.2,178.0L129.2,174.5L133.9,134.5L134.2,134.0L137.4,103.5L139.2,94.0L140.0,90.6L141.0,87.6L142.5,84.5L143.5,83.4L145.0,82.5L146.5,82.5L148.0,83.1L149.8,84.5L151.7,91.5L152.5,93.3L153.0,94.0L154.0,94.7L157.0,94.9L158.5,95.9L159.5,97.1L160.5,98.9L162.2,103.5L163.3,109.5L165.8,134.0L166.1,134.5L169.1,160.0L169.1,163.5L169.0,164.2L168.5,165.0L168.0,165.0L167.5,164.3L167.0,163.2L166.5,161.1L166.3,159.0L163.2,146.5L161.6,142.0L159.4,134.5L158.4,134.0L156.5,131.0L154.5,128.9L152.5,127.9L152.0,127.8L151.0,128.2L150.0,128.8L148.9,130.0L147.9,131.5L146.7,134.0L145.0,134.5L141.7,146.0L138.3,159.0L137.1,169.0L135.5,176.9L134.0,180.7L133.0,182.1L132.0,182.6Z"/>
<path fill="rgb(198,198,198)" fill-rule="evenodd" d="M132.5,181.0L131.5,181.2L131.0,181.0L130.5,180.5L130.0,179.5L129.6,177.0L129.6,174.0L134.3,134.5L134.6,134.0L137.7,103.5L139.4,94.0L141.0,88.6L142.0,86.5L143.5,84.4L144.5,83.8L146.0,83.6L147.0,83.9L147.7,84.5L148.6,86.5L149.8,91.5L151.0,99.0L151.5,100.9L152.0,101.9L152.5,102.2L153.0,102.1L155.2,100.0L156.5,99.2L157.5,99.0L158.0,99.2L159.0,99.8L160.0,101.1L161.0,103.0L161.5,104.4L162.5,109.8L164.2,126.0L164.6,134.0L165.1,134.5L165.9,142.0L166.4,151.0L166.0,151.3L165.5,150.1L164.4,146.0L162.8,142.0L160.6,134.5L159.9,134.0L156.9,129.5L155.0,127.6L154.0,127.0L152.5,126.5L151.0,126.7L150.0,127.2L149.0,128.1L148.0,129.5L145.9,134.0L144.3,134.5L137.9,159.0L136.7,169.0L135.5,175.3L135.0,177.0L134.0,179.3L133.5,180.1L132.5,181.0Z"/>
<path fill="rgb(204,204,204)" fill-rule="evenodd" d="M132.5,179.7L131.5,179.8L131.0,179.4L130.5,178.7L130.0,176.5L130.0,173.5L133.4,146.5L134.7,134.5L135.1,134.0L138.0,103.5L139.5,95.0L141.0,89.7L142.0,87.6L143.0,86.3L144.0,85.4L145.0,85.0L145.5,85.1L146.1,85.5L146.9,86.5L147.4,87.5L148.2,90.5L148.9,94.5L149.4,108.0L149.3,126.0L148.5,126.8L147.4,128.5L145.1,134.0L143.6,134.5L137.4,159.0L136.3,169.0L135.4,174.0L134.0,177.9L133.5,178.7L132.5,179.7ZM161.5,131.5L160.5,131.0L157.5,127.5L155.7,126.0L155.3,108.5L155.7,106.5L156.4,105.0L157.0,104.1L158.0,103.6L159.0,103.9L160.0,105.2L160.7,107.0L161.2,109.5L162.7,126.0L162.5,130.1L162.0,131.3L161.5,131.5Z"/>
<path fill="rgb(210,210,210)" fill-rule="evenodd" d="M132.5,178.2L132.0,178.4L131.5,178.2L130.9,177.5L130.5,176.0L130.4,173.5L132.0,160.2L133.9,146.5L135.1,134.5L135.7,134.0L136.7,121.0L138.3,103.5L139.6,96.0L141.0,90.9L142.5,88.1L143.5,87.2L144.5,87.0L145.5,87.5L146.5,89.1L147.3,92.0L147.7,95.0L147.7,108.0L147.4,126.0L146.0,129.0L144.2,134.0L142.8,134.5L141.1,142.0L136.9,159.0L135.7,169.0L134.9,173.5L134.0,176.4L133.5,177.3L132.5,178.2Z"/>
<path fill="rgb(217,217,217)" fill-rule="evenodd" d="M132.5,176.6L132.0,176.7L131.4,176.0L131.1,175.0L131.0,173.4L132.5,161.3L134.7,146.0L135.6,134.5L136.3,134.0L137.0,122.0L138.6,103.5L139.9,96.0L141.0,92.2L141.5,91.0L142.5,89.4L143.0,89.1L144.0,88.9L145.0,89.7L145.7,91.0L146.3,93.0L146.6,95.5L145.8,126.0L143.2,134.0L141.8,134.5L138.6,149.0L136.2,159.0L135.1,169.0L134.3,173.5L133.5,175.6L132.5,176.6Z"/>
<path fill="rgb(223,223,223)" fill-rule="evenodd" d="M132.5,174.1L132.2,173.5L132.1,173.0L132.5,169.1L133.5,162.4L134.2,159.0L136.0,146.5L136.2,134.5L137.0,134.0L137.4,122.0L139.0,103.5L140.0,97.3L141.0,93.5L142.0,91.5L142.5,91.0L143.0,90.8L143.7,91.0L144.5,92.1L145.1,94.0L145.4,96.0L144.2,126.0L141.8,134.0L140.6,134.5L139.0,142.0L134.7,159.0L134.0,168.9L133.1,173.5L132.5,174.1Z"/>
<path fill="rgb(230,230,230)" fill-rule="evenodd" d="M138.0,136.0L137.5,136.0L137.1,134.5L137.9,134.0L137.6,130.0L137.7,124.0L139.3,104.0L140.0,99.2L141.0,95.0L141.5,93.8L142.0,93.1L142.5,92.8L143.0,93.0L143.5,93.7L143.9,95.0L144.0,96.5L142.1,126.0L140.9,131.0L140.0,133.9L138.8,134.5L138.0,136.0Z"/>
<path fill="rgb(236,236,236)" fill-rule="evenodd" d="M139.0,130.3L138.5,129.4L138.4,128.5L138.3,123.5L138.5,118.3L139.5,106.4L140.5,99.1L141.5,95.8L142.0,95.3L142.5,95.6L142.6,96.0L142.8,99.0L141.3,119.5L140.5,126.2L139.5,129.7L139.0,130.3Z"/>
<path fill="rgb(242,242,242)" fill-rule="evenodd" d="M139.5,123.0L139.2,121.0L139.3,117.5L140.5,103.4L141.0,100.9L141.3,101.0L141.5,101.5L140.5,116.8L140.0,121.3L139.5,123.0Z"/>
<path fill="rgb(6,6,6)" fill-rule="evenodd" d="M261.8,191.6L258.3,191.9L242.3,192.0L236.3,191.9L233.6,191.5L232.3,181.2L230.0,167.0L228.3,162.3L227.8,162.0L225.9,167.0L222.4,191.5L218.8,191.9L208.3,192.0L197.3,191.9L193.2,191.5L195.3,164.6L197.2,127.0L198.1,120.0L200.4,112.0L201.6,100.0L208.7,68.0L210.7,61.5L213.4,53.5L218.7,40.0L221.1,35.5L223.4,31.5L227.3,28.3L227.8,28.2L231.2,31.0L232.1,32.0L236.5,40.0L241.6,53.0L244.5,61.5L246.5,68.0L249.6,81.5L251.8,92.4L252.8,96.5L253.8,99.4L254.3,99.1L254.8,94.5L255.1,80.0L255.6,72.0L256.3,67.6L256.8,66.1L257.3,65.4L257.8,65.5L258.3,66.3L258.8,68.1L259.5,73.5L259.9,81.5L260.3,147.2L260.8,167.5L261.3,179.1L262.1,191.5L261.8,191.6Z"/>
<path fill="rgb(13,13,13)" fill-rule="evenodd" d="M260.8,191.5L257.8,191.9L245.3,192.0L238.3,191.9L235.0,191.5L233.8,181.9L231.5,167.0L229.3,160.0L228.3,159.2L227.8,159.2L226.7,160.0L224.4,167.0L221.0,191.5L217.3,191.9L208.3,192.0L198.3,191.9L194.6,191.5L196.3,167.1L197.5,136.5L197.9,129.5L198.8,123.5L199.3,121.8L200.8,118.3L201.3,116.2L201.8,112.8L203.1,100.0L207.2,81.5L210.4,68.0L212.6,61.0L215.4,53.0L220.7,40.0L225.2,32.0L225.6,31.5L227.3,30.1L227.8,30.0L229.6,31.5L234.5,40.0L240.0,53.5L243.0,62.0L245.1,69.0L248.0,81.5L252.1,100.0L253.8,115.2L254.3,117.8L254.8,117.8L255.4,109.5L256.0,79.5L256.5,74.0L256.8,72.4L257.3,71.2L257.8,71.3L258.3,72.8L258.8,77.0L259.1,82.5L259.5,144.0L259.9,164.5L260.8,191.5Z"/>
<path fill="rgb(19,19,19)" fill-rule="evenodd" d="M259.8,191.6L256.8,191.9L243.3,191.9L238.3,191.8L235.8,191.5L234.8,182.9L232.4,167.0L230.3,160.0L228.8,158.3L228.3,157.9L227.8,157.9L226.8,158.7L225.7,160.0L223.6,167.0L220.2,191.5L216.8,191.9L208.3,191.9L198.8,191.9L195.5,191.5L196.8,170.1L198.0,138.0L198.4,132.5L198.8,128.9L199.3,126.6L201.1,123.0L201.8,120.0L204.0,100.0L208.1,81.5L211.0,69.5L213.4,61.5L216.5,53.0L222.0,40.0L226.6,32.0L227.3,31.2L227.8,31.1L228.6,32.0L233.2,40.0L239.0,54.0L241.8,61.5L243.7,67.5L247.1,81.5L251.2,100.0L253.8,124.7L254.3,128.1L254.8,130.0L255.3,129.6L255.4,128.5L256.0,120.5L256.7,81.5L257.3,77.4L257.8,77.6L258.3,81.0L258.4,84.0L258.8,142.5L259.4,167.0L260.2,191.5L259.8,191.6Z"/>
<path fill="rgb(26,26,26)" fill-rule="evenodd" d="M259.3,191.6L254.3,191.9L243.8,191.9L239.3,191.8L236.5,191.5L235.3,182.1L233.0,167.0L231.0,160.0L229.2,157.5L228.3,157.0L227.8,157.0L226.8,157.5L224.9,160.0L222.9,167.0L219.5,191.5L216.3,191.9L208.3,191.9L198.8,191.8L196.0,191.5L197.3,169.6L198.8,134.9L199.6,130.5L199.8,129.8L201.3,127.3L201.8,125.4L202.8,118.2L204.6,100.0L209.0,80.5L212.1,68.0L214.2,61.5L217.2,53.5L222.9,40.0L227.3,32.6L227.8,32.4L232.3,40.0L234.5,45.0L239.0,56.0L241.0,61.5L243.1,68.0L246.4,81.5L250.6,100.0L253.8,131.5L254.8,138.1L255.3,139.3L255.8,138.3L256.2,135.5L257.3,120.8L257.8,127.5L259.8,191.5L259.3,191.6Z"/>
<path fill="rgb(32,32,32)" fill-rule="evenodd" d="M259.3,191.5L256.8,191.8L246.3,191.9L239.8,191.8L237.0,191.5L235.8,182.1L233.6,167.0L231.6,160.0L230.1,157.5L228.8,156.5L227.8,156.2L225.9,157.5L224.4,160.0L222.4,167.0L219.0,191.5L215.8,191.8L208.3,191.9L199.3,191.8L196.5,191.5L199.3,137.5L199.8,134.6L201.3,131.9L202.3,127.1L205.2,100.0L209.5,80.5L212.7,68.0L214.6,62.0L218.0,53.0L223.7,40.0L227.3,34.0L227.8,33.8L232.0,41.0L237.6,54.0L240.6,62.0L242.5,68.0L245.9,81.5L250.0,100.0L253.3,132.5L254.8,144.2L255.3,146.3L255.8,146.9L256.8,144.7L257.3,145.3L257.8,151.0L259.3,191.5Z"/>
<path fill="rgb(38,38,38)" fill-rule="evenodd" d="M258.8,191.6L253.8,191.8L245.3,191.9L240.3,191.8L237.4,191.5L236.3,182.6L233.8,166.2L232.1,160.0L231.3,158.5L230.7,157.5L229.8,156.5L228.3,155.5L227.8,155.4L226.3,156.4L225.3,157.4L224.3,159.2L223.9,160.0L222.0,167.0L218.6,191.5L215.3,191.8L208.3,191.9L199.3,191.8L196.9,191.5L199.3,145.9L200.0,140.0L201.3,136.5L202.3,131.4L205.6,100.0L210.0,80.5L213.2,68.0L215.2,62.0L218.4,53.5L224.2,40.5L227.3,35.2L227.8,35.1L230.8,40.0L232.4,43.5L237.0,54.0L240.0,62.0L242.0,68.0L245.4,81.5L249.6,100.0L254.3,145.8L255.3,152.2L255.8,154.0L256.8,155.3L257.3,157.9L258.3,174.3L259.1,191.5L258.8,191.6Z"/>
<path fill="rgb(45,45,45)" fill-rule="evenodd" d="M258.3,191.6L253.3,191.8L244.8,191.9L240.3,191.8L237.8,191.5L236.8,183.4L234.4,167.0L233.8,164.8L232.5,160.0L231.3,157.5L229.3,155.4L228.3,154.8L227.8,154.7L225.8,156.2L224.8,157.4L224.3,158.3L223.5,160.0L221.6,167.0L218.2,191.5L215.3,191.8L208.3,191.9L200.8,191.8L197.2,191.5L199.6,150.0L200.2,145.5L201.3,141.1L202.3,135.4L206.0,100.0L210.2,81.5L213.7,68.0L215.6,62.0L218.9,53.5L224.1,42.0L225.0,40.0L227.3,36.3L227.8,36.2L230.2,40.0L232.5,45.0L236.5,54.0L239.6,62.0L241.5,68.0L245.0,81.5L249.2,100.0L254.8,154.4L255.3,157.9L256.8,163.8L257.3,167.2L257.8,173.5L258.7,191.5L258.3,191.6Z"/>
<path fill="rgb(51,51,51)" fill-rule="evenodd" d="M258.3,191.5L253.8,191.8L246.8,191.9L240.8,191.8L238.1,191.5L237.2,184.0L235.5,173.0L234.7,167.0L232.9,160.0L231.7,157.5L230.8,156.2L229.3,154.7L228.3,154.0L227.8,153.9L225.8,155.5L224.2,157.5L223.1,160.0L221.3,166.7L217.9,191.5L214.8,191.8L208.3,191.9L201.3,191.8L197.5,191.5L198.8,167.5L199.8,154.3L200.4,150.0L201.8,142.6L202.8,135.1L206.4,100.0L210.6,81.5L214.1,68.0L216.0,62.0L219.2,54.0L223.7,44.0L225.8,39.7L227.3,37.3L227.8,37.2L229.6,40.0L233.1,47.5L236.0,54.0L239.2,62.0L241.1,68.0L244.6,81.5L248.8,100.0L254.8,159.1L255.8,165.8L256.8,170.5L257.3,174.4L258.1,185.5L258.3,191.5Z"/>
<path fill="rgb(57,57,57)" fill-rule="evenodd" d="M257.8,191.5L253.3,191.8L246.3,191.8L241.3,191.8L238.4,191.5L237.4,183.0L235.6,172.0L235.0,167.0L233.3,160.4L232.1,157.5L231.3,156.2L228.3,152.9L227.8,152.8L225.3,155.4L223.8,157.5L222.8,160.0L221.3,165.5L220.9,167.0L220.0,174.5L217.6,191.5L214.3,191.8L208.3,191.8L201.8,191.8L197.8,191.5L198.8,173.4L199.8,160.0L202.8,138.4L206.7,100.0L210.9,81.5L214.4,68.0L216.4,62.0L219.6,54.0L223.5,45.5L226.2,40.0L227.3,38.3L227.8,38.1L229.0,40.0L230.5,43.0L235.4,53.5L238.6,61.5L240.6,67.5L244.3,81.5L248.5,100.0L254.8,163.4L257.3,180.5L258.1,191.5L257.8,191.5Z"/>
<path fill="rgb(64,64,64)" fill-rule="evenodd" d="M257.3,191.5L246.3,191.8L241.3,191.7L238.7,191.5L237.8,183.7L236.0,172.5L235.3,167.0L233.5,160.0L232.5,157.5L231.3,155.5L228.8,152.2L228.3,151.7L227.8,151.6L226.8,152.7L223.8,156.9L222.3,160.6L220.6,167.0L219.7,175.0L217.3,191.5L214.3,191.8L208.3,191.8L201.8,191.8L198.0,191.5L199.8,165.2L202.8,141.7L207.0,100.0L211.2,81.5L214.8,68.0L216.6,62.5L220.0,54.0L223.0,47.5L226.8,40.0L227.3,39.2L227.8,39.1L230.8,44.7L235.0,53.5L238.2,61.5L240.1,67.0L244.0,81.5L248.2,100.0L254.8,167.5L257.3,186.0L257.7,191.5L257.3,191.5Z"/>
<path fill="rgb(70,70,70)" fill-rule="evenodd" d="M257.3,191.5L247.3,191.8L241.8,191.7L239.0,191.5L238.0,183.5L236.2,172.0L235.6,167.0L233.8,160.0L232.8,157.4L229.8,152.4L228.3,150.5L227.8,150.4L226.8,151.5L223.8,156.3L222.2,160.0L220.3,167.0L219.5,174.5L217.0,191.5L213.8,191.8L208.3,191.8L202.3,191.8L198.3,191.5L199.8,170.2L202.8,144.8L207.3,100.0L211.5,81.5L215.1,68.0L217.1,62.0L220.4,54.0L223.0,48.5L227.3,40.1L227.8,40.0L231.3,46.7L234.8,54.0L237.9,61.5L239.9,67.5L243.7,81.5L247.9,100.0L252.9,150.0L254.8,171.5L257.3,191.5Z"/>
<path fill="rgb(76,76,76)" fill-rule="evenodd" d="M256.3,191.5L246.8,191.8L239.3,191.5L238.3,183.5L236.5,172.5L235.9,167.0L234.1,160.0L233.2,157.5L231.2,154.0L229.8,151.2L228.3,149.2L227.8,149.1L226.8,150.2L225.8,151.9L224.8,154.0L222.8,157.5L221.8,160.3L220.1,167.0L219.1,175.0L217.4,186.0L216.7,191.5L213.8,191.7L208.3,191.8L198.6,191.5L199.8,175.3L201.8,157.9L207.6,100.0L211.8,81.5L215.5,68.0L217.5,62.0L220.8,54.0L223.3,48.8L227.3,41.2L227.8,41.0L230.8,46.6L234.4,54.0L237.5,61.5L239.6,67.5L243.4,81.5L247.6,100.0L252.6,150.0L254.8,175.3L256.8,191.5L256.3,191.5Z"/>
<path fill="rgb(83,83,83)" fill-rule="evenodd" d="M255.8,191.5L246.8,191.8L239.6,191.5L238.6,183.5L236.9,173.0L236.1,167.0L234.4,160.0L233.5,157.5L231.6,154.0L229.8,149.9L228.3,148.0L227.8,147.9L226.8,149.0L225.8,150.6L224.4,154.0L222.5,157.5L221.6,160.0L219.8,167.0L219.0,174.5L217.2,185.5L216.4,191.5L208.3,191.8L199.0,191.5L199.9,180.0L207.9,100.0L212.1,81.5L215.8,68.0L217.6,62.5L220.3,56.1L222.8,50.7L227.3,42.2L227.8,42.1L230.8,47.5L234.0,54.0L237.2,61.5L239.3,67.5L243.1,81.5L247.3,100.0L252.3,150.0L254.8,179.1L256.1,191.5L255.8,191.5Z"/>
<path fill="rgb(89,89,89)" fill-rule="evenodd" d="M255.3,191.5L246.8,191.7L239.8,191.5L238.9,183.5L237.0,172.5L236.4,167.0L234.6,160.0L233.8,157.5L232.0,154.0L230.3,149.6L228.8,147.2L228.3,146.7L227.8,146.6L226.8,147.7L225.8,149.3L224.0,154.0L222.2,157.5L221.3,160.0L219.6,167.0L218.7,175.0L216.9,186.0L216.2,191.5L208.3,191.7L199.4,191.5L203.1,150.0L208.2,100.0L212.4,81.5L216.1,68.0L218.1,62.0L220.8,55.8L223.3,50.6L227.3,43.3L227.8,43.1L230.8,48.5L233.8,54.4L236.9,61.5L239.0,67.5L242.8,81.5L247.0,100.0L252.0,150.0L255.6,191.5L255.3,191.5Z"/>
<path fill="rgb(96,96,96)" fill-rule="evenodd" d="M254.8,191.5L246.3,191.7L240.1,191.5L239.1,183.5L237.3,172.5L236.6,167.0L234.9,160.0L234.0,157.5L232.4,154.0L231.3,150.6L230.3,148.3L228.8,146.0L228.3,145.5L227.8,145.4L226.3,147.2L225.3,149.1L223.6,154.0L221.9,157.5L221.1,160.0L219.3,167.0L218.5,174.5L216.6,186.0L215.9,191.5L208.3,191.7L199.8,191.5L203.4,150.0L208.4,100.0L212.7,81.5L216.6,67.5L218.6,61.5L222.0,54.0L226.3,46.0L227.3,44.3L227.8,44.2L230.8,49.4L233.8,55.3L236.6,61.5L238.6,67.5L242.5,81.5L246.8,100.0L251.8,150.0L255.3,191.5L254.8,191.5Z"/>
<path fill="rgb(102,102,102)" fill-rule="evenodd" d="M254.8,191.5L247.3,191.7L240.4,191.5L239.5,184.0L237.5,172.5L236.9,167.0L235.1,160.0L234.3,157.5L232.7,154.0L230.8,148.0L229.3,145.3L228.3,144.2L227.8,144.1L226.3,145.9L225.3,147.7L224.3,150.4L223.3,154.0L221.7,157.5L220.8,160.0L219.1,167.0L218.2,175.0L216.4,185.5L215.6,191.5L208.3,191.7L200.2,191.5L203.7,150.0L208.7,100.0L212.9,81.5L216.9,67.5L219.0,61.5L222.3,54.2L226.3,47.0L227.3,45.4L227.8,45.2L230.8,50.2L233.8,56.1L236.2,61.5L238.3,67.5L242.3,81.5L246.5,100.0L251.5,150.0L254.9,191.5L254.8,191.5Z"/>
<path fill="rgb(108,108,108)" fill-rule="evenodd" d="M254.3,191.5L246.8,191.7L240.6,191.5L239.7,183.5L237.7,172.5L237.1,167.0L235.4,160.0L234.6,157.5L233.1,154.0L231.8,149.4L230.8,146.7L229.3,144.0L228.4,143.0L227.8,142.9L226.3,144.5L225.0,147.0L224.0,150.0L222.9,154.0L221.4,157.5L220.6,160.0L218.9,167.0L218.0,175.0L216.1,186.0L215.4,191.5L208.3,191.7L200.5,191.5L203.9,150.0L208.9,100.0L213.2,81.5L217.2,67.5L219.3,61.5L222.8,54.1L226.8,47.2L227.3,46.4L227.8,46.3L230.8,51.1L233.8,56.9L235.9,61.5L238.0,67.5L242.0,81.5L246.3,100.0L251.3,150.0L254.6,191.5L254.3,191.5Z"/>
<path fill="rgb(115,115,115)" fill-rule="evenodd" d="M254.3,191.5L247.3,191.7L240.9,191.5L240.0,184.0L238.0,173.0L237.3,167.0L235.6,160.0L234.9,157.5L233.4,154.0L232.1,149.0L230.8,145.3L229.5,143.0L228.3,142.0L227.8,141.9L226.3,143.2L224.8,146.2L223.8,149.2L222.6,154.0L221.1,157.5L220.3,160.0L218.6,167.0L217.7,175.0L215.9,185.5L215.1,191.5L208.3,191.7L200.8,191.5L204.1,150.0L209.1,100.0L213.4,81.5L217.5,67.5L219.6,61.5L222.8,54.9L226.3,49.0L227.3,47.5L227.8,47.4L230.8,52.1L233.3,56.7L235.6,61.5L237.7,67.5L241.9,82.0L246.1,100.0L251.1,150.0L254.3,191.5Z"/>
<path fill="rgb(121,121,121)" fill-rule="evenodd" d="M253.8,191.5L247.3,191.7L241.2,191.5L240.1,183.0L238.1,172.0L237.6,167.0L235.9,160.0L235.1,157.5L233.7,154.0L232.3,148.1L231.0,144.5L230.3,143.0L229.8,142.3L228.3,141.0L227.8,140.9L226.8,141.7L225.8,142.8L224.8,144.8L223.6,148.5L222.3,154.0L220.9,157.5L220.1,160.0L218.4,167.0L217.5,175.0L215.5,186.0L214.8,191.5L208.3,191.7L201.2,191.5L202.3,175.0L204.3,150.0L209.3,100.0L213.6,81.5L217.8,67.5L220.0,61.5L222.8,55.8L226.3,50.0L227.3,48.6L227.8,48.5L230.8,53.0L233.3,57.6L235.2,61.5L237.3,67.4L241.6,82.0L245.8,100.0L250.8,150.0L252.7,172.5L254.0,191.5L253.8,191.5Z"/>
<path fill="rgb(128,128,128)" fill-rule="evenodd" d="M253.3,191.5L246.8,191.6L241.5,191.5L240.6,184.0L238.5,173.0L237.8,167.0L236.1,160.0L234.0,154.0L232.8,148.4L231.3,143.7L230.8,142.7L229.8,141.3L228.3,140.0L227.8,139.9L226.3,141.2L224.8,143.4L223.3,148.0L222.0,154.0L219.8,160.0L218.2,167.0L217.3,174.9L215.2,186.0L214.5,191.5L208.3,191.6L201.5,191.5L202.5,174.5L204.5,150.0L209.5,100.0L213.7,82.0L218.1,67.5L220.4,61.5L222.8,56.7L225.8,51.8L227.3,49.8L227.8,49.6L230.8,53.9L233.3,58.4L234.8,61.5L236.8,67.0L241.4,82.0L245.6,100.0L250.6,150.0L252.4,171.5L253.1,183.5L253.7,191.5L253.3,191.5Z"/>
<path fill="rgb(134,134,134)" fill-rule="evenodd" d="M253.3,191.5L241.8,191.5L240.9,184.0L238.8,173.4L238.0,167.0L236.4,160.0L234.3,154.0L233.0,147.5L231.6,143.0L229.8,140.3L228.3,139.0L227.8,138.9L226.8,139.7L225.8,140.7L224.4,143.0L223.0,147.5L221.7,154.0L219.6,160.0L217.9,167.0L217.1,175.0L214.9,186.0L214.2,191.5L201.8,191.5L202.2,186.5L202.7,174.5L204.8,150.0L209.8,100.0L214.1,81.5L218.5,67.5L220.8,61.5L222.8,57.6L225.8,52.9L227.3,51.0L227.8,50.8L230.3,54.2L232.8,58.4L234.4,61.5L236.3,66.7L241.3,82.7L245.4,100.0L250.4,150.0L252.2,172.0L252.7,183.5L253.3,191.5Z"/>
<path fill="rgb(140,140,140)" fill-rule="evenodd" d="M252.8,191.5L242.2,191.5L241.2,183.5L239.0,173.0L238.3,167.0L236.7,160.0L234.7,154.0L232.8,145.2L232.1,143.0L230.8,140.6L229.3,138.7L228.3,138.0L227.8,137.9L226.3,139.1L224.8,141.2L223.8,143.0L223.1,145.5L221.3,154.0L219.3,160.0L217.7,167.0L216.8,175.1L214.5,186.0L213.8,191.5L202.2,191.5L202.6,186.5L202.9,175.0L205.0,150.0L210.0,100.0L214.3,81.5L218.8,67.5L221.2,61.5L222.8,58.6L225.8,54.0L227.3,52.2L227.8,52.1L229.3,53.9L231.3,56.8L234.3,62.3L236.2,67.5L240.8,81.8L242.1,86.5L245.2,100.0L250.2,150.0L251.8,169.5L252.2,175.5L252.4,184.0L253.0,191.5L252.8,191.5Z"/>
<path fill="rgb(147,147,147)" fill-rule="evenodd" d="M252.3,191.5L242.6,191.5L241.7,184.0L239.3,173.4L238.5,167.0L236.9,160.0L235.0,154.0L234.0,148.5L232.9,144.0L232.3,142.2L230.8,139.5L228.3,136.7L227.8,136.6L225.8,138.6L224.8,140.1L223.3,143.0L222.9,144.5L221.0,154.0L219.1,160.0L217.5,167.0L216.5,175.5L214.1,186.5L213.4,191.5L202.6,191.5L203.0,187.0L202.9,178.5L203.3,172.1L205.2,150.0L210.2,100.0L214.3,82.0L216.3,75.7L219.0,68.0L221.7,61.5L222.8,59.6L225.8,55.2L227.3,53.5L227.8,53.4L230.8,57.1L232.8,60.2L233.8,62.2L240.8,82.7L241.8,86.5L244.9,100.0L249.9,150.0L251.7,170.5L251.9,175.5L252.0,184.0L252.6,191.5L252.3,191.5Z"/>
<path fill="rgb(153,153,153)" fill-rule="evenodd" d="M251.8,191.5L243.0,191.5L242.1,184.0L239.7,174.0L239.1,170.5L238.8,167.0L237.2,160.0L235.3,154.0L234.2,147.5L233.1,143.0L231.5,139.5L228.9,135.5L227.8,135.4L227.1,135.5L224.8,139.0L222.9,143.0L221.7,148.0L220.7,154.0L218.8,160.0L217.2,167.0L216.3,175.1L213.6,186.5L213.0,191.5L203.1,191.5L203.4,187.0L203.2,179.0L203.4,173.5L205.4,150.0L210.4,100.0L214.6,82.0L218.3,70.9L222.2,61.5L224.8,57.7L227.3,54.9L227.8,54.8L229.8,56.9L231.8,59.6L233.2,62.0L240.3,82.0L241.8,87.3L244.7,100.0L249.7,150.0L251.5,170.5L251.7,176.0L251.5,184.0L252.1,191.5L251.8,191.5Z"/>
<path fill="rgb(159,159,159)" fill-rule="evenodd" d="M251.3,191.5L243.6,191.5L242.6,184.0L240.1,174.5L239.4,170.5L239.1,167.0L237.5,160.0L235.6,154.0L233.6,143.0L232.1,139.5L229.8,135.5L227.8,135.2L226.2,135.5L223.8,139.6L222.4,143.0L220.4,154.0L218.5,160.0L216.9,167.0L215.9,176.0L214.8,180.6L213.1,186.5L212.4,191.5L203.6,191.5L204.0,187.0L203.5,179.5L203.6,173.5L205.6,150.0L210.6,100.0L214.3,83.8L215.8,78.7L217.8,73.2L219.8,68.2L222.9,61.5L225.3,58.3L227.3,56.4L227.8,56.3L229.8,58.2L231.8,60.7L232.5,62.0L240.3,83.0L241.8,88.4L244.5,100.0L249.3,148.3L251.2,170.5L251.4,176.0L251.0,184.0L251.5,191.5L251.3,191.5Z"/>
<path fill="rgb(166,166,166)" fill-rule="evenodd" d="M250.8,191.5L244.3,191.5L243.4,184.5L240.3,174.1L239.6,170.5L239.4,167.0L237.7,159.5L236.0,154.0L234.1,143.0L232.5,139.0L230.6,135.5L227.8,135.1L225.4,135.5L223.3,139.4L221.9,143.0L220.1,154.0L218.2,160.0L216.7,167.0L216.1,173.0L215.5,176.5L214.3,181.1L212.5,186.5L211.8,191.5L204.3,191.5L204.7,187.0L203.8,179.9L203.8,174.0L205.9,150.0L210.9,100.0L214.3,84.6L215.3,81.0L217.3,75.3L219.8,69.4L223.7,61.5L225.3,59.6L227.3,58.0L227.8,57.9L229.3,59.1L230.8,60.6L231.7,62.0L234.7,70.0L237.8,77.2L239.8,82.4L241.3,87.4L244.2,100.0L249.2,150.0L251.0,170.5L251.0,176.5L250.3,184.0L250.8,191.5ZM228.4,78.5L229.0,76.5L229.3,74.0L229.0,71.5L228.8,71.0L228.3,70.5L227.8,70.8L227.4,72.0L227.2,74.5L227.3,76.5L227.8,78.4L228.3,78.7L228.4,78.5Z"/>
<path fill="rgb(172,172,172)" fill-rule="evenodd" d="M249.3,191.5L245.3,191.5L244.4,184.5L241.8,178.0L240.4,173.0L239.9,170.0L239.7,167.0L238.1,160.0L236.4,154.0L234.6,143.0L233.1,139.0L231.4,135.5L229.1,135.0L228.6,130.0L228.3,129.1L227.8,129.0L227.3,130.9L226.9,135.0L224.6,135.5L222.9,139.0L221.4,143.0L219.7,154.0L217.9,160.0L216.4,167.0L215.8,172.9L215.3,176.0L213.8,181.3L211.4,187.0L210.8,191.5L205.4,191.5L205.7,187.5L204.2,180.5L204.0,177.5L204.1,174.0L206.3,148.2L211.1,100.0L214.3,85.5L215.4,81.5L217.3,76.2L220.3,69.6L223.7,64.0L224.8,61.5L227.3,59.6L227.8,59.5L228.3,59.8L230.4,61.5L233.4,69.5L236.8,76.2L238.8,80.8L240.8,86.7L243.9,100.0L248.8,149.0L250.7,171.0L250.8,174.0L250.6,177.0L249.2,184.5L249.7,191.5L249.3,191.5ZM228.4,82.0L228.8,81.1L229.7,76.5L230.0,72.0L230.0,70.5L229.6,69.0L228.9,68.0L228.3,67.8L227.4,68.5L227.0,69.5L226.7,71.0L226.6,73.5L226.7,76.5L227.3,80.1L227.8,82.1L228.3,82.4L228.4,82.0Z"/>
<path fill="rgb(178,178,178)" fill-rule="evenodd" d="M208.8,187.3L208.3,187.3L207.8,187.0L206.8,185.8L205.3,182.9L204.5,179.0L204.3,174.8L206.4,150.0L211.4,100.0L214.8,84.5L215.8,81.1L217.8,75.8L219.8,71.7L221.3,69.2L222.8,67.2L225.7,64.5L226.9,61.5L227.8,61.2L228.3,61.5L228.6,62.0L228.8,63.5L228.3,64.5L227.8,65.0L226.8,65.4L226.4,66.0L226.1,68.0L226.0,70.5L226.2,76.0L227.8,88.2L228.3,88.2L231.2,72.0L231.8,70.9L232.3,71.0L233.8,72.7L235.8,75.8L238.8,81.9L240.8,88.0L243.6,100.0L248.3,147.2L250.3,169.6L250.4,173.0L250.2,176.5L249.3,180.2L248.3,182.2L247.3,183.3L246.8,183.5L245.8,183.1L244.8,182.2L243.3,180.0L241.8,176.7L241.0,174.0L240.3,170.7L240.0,167.0L238.5,160.0L236.8,154.0L235.6,146.0L234.8,142.0L233.5,138.5L232.2,135.5L230.1,135.0L228.9,128.5L228.3,127.4L227.8,127.4L227.3,128.0L227.0,129.0L226.1,135.0L223.9,135.5L222.3,139.0L221.0,143.0L219.3,154.0L217.6,160.0L216.1,167.0L215.3,174.0L214.3,178.5L213.3,181.3L211.8,184.1L210.3,186.1L208.8,187.3Z"/>
<path fill="rgb(185,185,185)" fill-rule="evenodd" d="M209.3,184.5L208.3,184.6L207.3,184.1L206.3,183.0L205.8,182.1L205.3,180.8L204.8,178.5L204.6,174.5L206.8,149.3L208.5,134.0L211.7,100.0L214.8,85.5L216.8,79.1L218.8,74.7L220.8,71.3L222.3,69.6L223.3,68.8L223.8,68.7L224.3,68.8L224.8,69.5L225.3,71.5L226.9,86.5L227.1,92.5L227.1,127.0L226.6,128.5L225.9,133.0L225.3,135.0L223.2,135.5L221.8,138.8L220.5,143.0L218.9,154.0L217.2,160.0L215.7,167.0L215.1,173.5L214.3,177.2L213.3,180.0L212.3,181.9L210.8,183.7L209.3,184.5ZM247.3,180.8L246.8,181.0L245.8,180.9L244.3,179.9L242.8,177.7L241.8,175.3L240.8,171.6L240.3,167.0L239.0,160.5L237.2,154.0L235.6,143.0L234.3,138.9L232.9,135.5L230.9,135.0L230.8,134.8L230.3,133.0L229.5,128.5L229.0,127.0L229.1,89.0L229.6,84.0L230.4,79.0L231.3,75.5L231.8,74.5L232.3,74.1L233.3,74.4L234.8,75.9L236.8,78.9L238.3,81.9L240.3,87.5L243.2,100.0L246.6,135.0L248.2,150.0L250.0,171.0L250.0,174.5L249.4,177.5L248.3,179.9L247.3,180.8Z"/>
<path fill="rgb(191,191,191)" fill-rule="evenodd" d="M209.3,183.0L208.3,183.0L207.3,182.5L206.4,181.5L205.9,180.5L205.1,177.5L205.0,174.0L207.3,147.9L208.6,135.5L208.8,135.0L212.0,100.0L214.8,86.5L216.8,80.0L218.3,76.6L220.3,73.3L221.8,71.7L222.8,71.0L223.3,71.0L223.8,71.1L224.3,71.7L224.8,73.2L225.8,79.4L226.4,85.5L226.5,92.5L226.5,127.0L225.4,132.5L224.8,134.3L224.5,135.0L222.4,135.5L221.1,139.0L219.9,143.0L218.5,154.0L217.0,159.5L215.4,167.0L214.7,173.5L213.8,177.4L212.8,179.8L211.8,181.3L210.8,182.3L209.3,183.0ZM247.3,179.0L246.8,179.2L245.8,179.3L244.3,178.4L242.8,176.3L241.8,173.9L241.1,171.0L240.5,166.0L239.2,159.5L237.7,154.0L236.2,143.0L235.0,139.0L233.7,135.5L231.8,135.0L231.3,134.0L230.8,132.5L229.6,127.0L229.5,92.5L229.7,88.5L230.1,84.0L230.8,80.1L231.8,77.3L232.3,76.7L232.8,76.6L233.8,76.9L235.3,78.3L236.8,80.4L238.3,83.3L240.3,89.0L242.8,100.0L246.1,135.0L246.3,135.5L247.8,150.0L249.6,170.5L249.6,173.5L249.2,176.0L248.3,178.0L247.3,179.0Z"/>
<path fill="rgb(198,198,198)" fill-rule="evenodd" d="M209.8,181.6L208.8,181.7L207.8,181.4L206.5,180.0L205.6,177.5L205.3,174.0L207.8,147.0L209.0,135.5L209.2,135.0L212.4,100.0L215.1,86.5L216.8,80.9L218.3,77.6L219.8,75.2L221.3,73.6L222.3,73.0L222.8,72.9L223.3,73.0L223.8,73.5L224.3,74.5L224.7,76.0L225.4,79.5L225.9,85.0L226.1,92.0L226.0,127.0L224.9,132.0L224.3,133.6L223.7,135.0L221.7,135.5L219.4,143.0L218.0,154.0L216.4,160.0L214.9,167.0L214.3,173.5L213.8,175.9L213.2,177.5L212.2,179.5L211.3,180.6L209.8,181.6ZM246.8,177.7L245.8,177.8L244.3,177.0L243.3,175.8L242.2,173.5L241.6,171.0L241.2,167.0L240.0,161.0L238.2,154.0L236.7,142.5L234.5,135.5L232.7,135.0L231.8,133.3L231.2,131.5L230.1,127.0L230.1,89.0L230.6,84.5L231.3,81.2L231.8,79.9L232.3,79.2L232.8,78.9L233.8,78.9L235.3,80.0L236.8,81.9L238.3,84.8L239.3,87.3L240.3,90.8L242.3,100.0L245.5,135.0L245.8,135.5L246.8,145.1L249.2,170.5L249.1,173.0L248.7,175.0L247.8,176.9L246.8,177.7Z"/>
<path fill="rgb(204,204,204)" fill-rule="evenodd" d="M210.3,180.1L209.3,180.4L208.3,180.3L207.3,179.6L206.9,179.0L206.3,177.8L206.0,176.5L205.8,173.5L208.8,141.8L209.5,135.5L209.8,135.0L212.7,100.0L215.4,86.5L216.8,81.8L217.8,79.5L219.3,77.0L220.8,75.5L222.3,74.8L223.3,75.2L223.8,75.9L224.3,77.2L225.0,80.5L225.4,85.0L225.6,92.0L225.5,127.0L224.3,131.6L222.8,135.0L220.9,135.5L220.0,138.5L218.8,143.0L217.5,154.0L215.9,160.0L214.5,167.0L213.7,174.5L213.1,176.5L212.3,178.1L211.3,179.4L210.3,180.1ZM246.8,176.1L245.8,176.3L244.8,176.0L244.3,175.6L243.3,174.3L242.5,172.5L242.0,170.5L241.6,166.0L240.1,159.0L238.8,154.0L237.6,143.5L237.0,141.0L235.4,135.5L233.6,135.0L231.8,131.1L230.6,127.0L230.6,89.5L231.0,86.0L231.7,83.0L232.3,81.7L233.3,81.1L234.3,81.2L235.8,82.3L237.3,84.4L238.3,86.4L239.8,91.0L241.7,100.0L244.9,135.0L245.2,135.5L245.3,136.4L248.6,170.0L248.6,172.0L248.3,173.8L247.8,175.0L246.8,176.1Z"/>
<path fill="rgb(210,210,210)" fill-rule="evenodd" d="M209.8,179.1L208.8,179.1L208.3,178.9L207.3,178.0L206.5,176.0L206.3,173.5L209.3,142.4L210.0,135.5L210.4,135.0L213.1,100.0L215.7,86.5L217.3,81.6L218.3,79.6L219.8,77.7L221.3,76.7L222.3,76.7L223.3,77.5L224.0,79.0L224.6,82.0L225.0,85.5L224.9,127.0L223.8,130.7L221.9,135.0L220.1,135.5L219.6,137.0L218.1,143.0L216.9,154.0L215.5,159.5L213.9,167.0L213.2,174.0L212.8,175.5L211.8,177.5L210.8,178.6L209.8,179.1ZM246.3,174.6L245.3,174.7L244.3,174.0L243.3,172.5L242.8,171.0L242.4,167.0L241.1,160.0L239.6,154.0L238.4,143.0L236.5,136.0L236.4,135.5L234.7,135.0L232.3,130.0L231.2,127.0L231.2,90.5L231.4,88.0L232.0,85.5L232.8,83.9L233.8,83.4L234.8,83.6L235.8,84.3L236.8,85.5L237.8,87.3L239.3,91.7L241.0,100.0L244.0,135.0L244.4,135.5L247.9,170.0L247.9,171.5L247.6,173.0L247.0,174.0L246.3,174.6Z"/>
<path fill="rgb(217,217,217)" fill-rule="evenodd" d="M210.3,177.5L209.3,177.8L208.8,177.7L207.8,176.9L207.2,175.5L206.9,173.5L210.7,135.5L211.2,135.0L212.3,115.5L213.5,100.0L215.8,87.7L216.8,84.0L217.8,81.6L218.8,80.0L219.8,79.1L221.3,78.5L222.3,78.9L223.3,80.2L224.0,82.5L224.3,85.5L224.2,127.0L220.9,135.0L219.1,135.5L219.0,136.0L217.3,143.0L216.1,154.0L214.7,160.0L213.3,167.0L212.7,173.5L211.8,175.9L211.3,176.7L210.3,177.5ZM245.8,172.7L244.8,172.5L244.3,171.9L243.7,170.5L243.5,167.0L242.1,160.0L240.7,154.0L239.5,143.0L237.6,135.5L236.1,135.0L232.2,127.0L231.9,91.5L232.3,88.7L232.8,87.2L233.3,86.5L234.3,86.0L235.3,86.3L236.3,87.1L237.8,89.9L238.6,92.5L240.0,100.0L242.3,126.9L242.8,135.0L243.4,135.5L246.9,170.0L246.8,171.5L246.3,172.4L245.8,172.7Z"/>
<path fill="rgb(223,223,223)" fill-rule="evenodd" d="M209.8,176.1L208.8,176.0L208.3,175.4L207.8,174.0L207.8,173.0L211.7,135.5L212.3,135.0L212.7,117.0L213.9,100.0L215.8,89.6L216.8,85.3L217.8,82.9L218.8,81.4L219.8,80.7L220.8,80.6L221.8,81.0L222.8,82.5L223.3,84.3L223.5,86.5L222.9,127.0L219.7,135.0L218.0,135.5L216.2,143.0L215.1,154.0L214.0,159.0L212.4,167.0L211.8,173.5L211.3,174.8L210.8,175.5L209.8,176.1ZM239.8,135.2L238.8,135.0L238.3,134.3L234.5,127.0L233.5,92.5L233.8,90.7L234.3,89.9L234.8,89.7L235.8,90.0L236.8,91.5L237.3,93.3L238.5,100.0L240.6,127.0L240.5,133.5L240.2,135.0L239.8,135.2ZM240.8,135.6L240.4,135.5L240.8,135.5L240.8,135.6Z"/>
<path fill="rgb(230,230,230)" fill-rule="evenodd" d="M211.3,160.1L211.6,154.0L213.3,135.5L214.0,135.0L213.3,126.5L213.2,120.0L213.5,111.5L214.3,100.0L215.8,91.7L217.0,86.5L217.8,84.4L218.3,83.6L218.8,83.1L219.8,82.9L220.8,83.4L221.3,84.0L221.9,85.5L222.0,87.0L221.4,100.0L220.6,127.0L217.8,135.0L216.2,135.5L216.0,136.0L214.3,143.0L213.4,154.0L211.8,159.5L211.3,160.1Z"/>
<path fill="rgb(236,236,236)" fill-rule="evenodd" d="M215.3,122.7L214.8,122.6L214.3,121.0L214.0,116.5L214.2,109.5L214.8,100.5L216.3,92.0L217.3,87.9L217.8,86.5L218.3,85.9L218.8,85.9L219.3,87.0L219.2,90.0L218.1,100.0L217.2,114.0L216.4,119.5L215.8,121.8L215.3,122.7Z"/>
<path fill="rgb(6,6,6)" fill-rule="evenodd" d="M340.6,191.7L338.1,191.9L320.1,192.0L316.6,191.9L314.3,191.5L307.3,147.0L304.6,133.8L304.4,133.0L304.1,132.8L303.6,133.2L300.8,147.0L293.7,191.5L290.6,191.9L282.6,192.0L274.1,191.9L270.8,191.5L274.1,152.7L278.0,102.0L281.5,79.5L283.8,66.0L287.2,52.0L292.9,38.0L296.7,27.0L298.1,25.5L299.9,24.0L304.6,23.6L309.3,24.0L312.1,26.5L312.8,28.0L316.3,38.0L322.0,52.0L325.3,65.5L327.7,79.5L331.2,102.0L332.7,121.0L333.1,123.1L334.1,125.8L334.6,125.1L335.4,116.0L336.0,111.5L336.7,109.0L337.1,108.0L337.6,107.5L338.1,107.4L338.6,107.7L339.1,108.6L339.6,110.3L340.4,116.5L340.9,127.5L341.1,191.5L340.6,191.7Z"/>
<path fill="rgb(13,13,13)" fill-rule="evenodd" d="M340.1,191.6L338.1,191.9L322.1,192.0L318.1,191.9L315.5,191.5L308.6,147.5L306.1,133.6L306.0,133.0L305.6,132.5L304.1,131.0L303.1,131.8L302.1,133.2L299.6,147.0L292.5,191.5L289.6,191.9L282.6,192.0L275.6,191.9L272.2,191.5L275.6,151.3L279.4,102.0L282.9,79.5L285.5,65.5L289.0,52.0L294.9,38.0L298.9,27.0L300.3,25.5L302.3,24.0L304.6,23.8L306.9,24.0L308.9,25.5L310.3,27.0L314.3,38.0L320.4,52.5L323.8,66.0L326.3,79.5L329.8,102.0L331.6,123.5L333.7,132.0L334.6,136.2L335.1,136.2L335.8,122.0L336.3,116.5L336.9,113.0L337.6,111.2L338.1,111.1L338.6,111.6L339.1,113.1L339.9,119.0L340.3,128.0L340.5,191.5L340.1,191.6Z"/>
<path fill="rgb(19,19,19)" fill-rule="evenodd" d="M339.6,191.6L338.1,191.8L322.6,191.9L318.6,191.8L316.3,191.5L309.1,146.1L306.9,133.0L305.1,130.2L304.1,129.7L303.1,130.1L301.3,133.0L291.7,191.5L289.1,191.9L282.6,191.9L276.1,191.9L273.1,191.5L276.6,149.4L280.2,102.0L283.7,79.5L286.4,65.5L290.1,52.0L296.1,38.0L300.3,27.0L301.7,25.5L303.9,24.0L305.3,24.0L305.6,24.2L307.6,25.6L308.9,27.0L313.1,38.0L319.1,52.0L322.8,65.5L325.5,79.5L329.0,102.0L330.6,123.0L331.3,127.5L333.1,134.0L333.8,138.0L334.4,144.0L335.1,155.6L335.6,152.1L336.0,128.5L336.3,122.0L337.1,116.0L337.6,114.5L338.1,114.3L338.6,115.1L339.0,116.5L339.6,121.5L339.9,129.0L340.0,191.5L339.6,191.6Z"/>
<path fill="rgb(26,26,26)" fill-rule="evenodd" d="M339.6,191.5L338.1,191.7L325.1,191.9L319.6,191.8L316.8,191.5L307.5,133.0L306.1,130.0L304.1,129.1L302.0,130.0L300.6,133.0L291.2,191.5L288.6,191.8L282.6,191.9L276.6,191.8L273.7,191.5L277.1,150.9L280.9,102.0L284.4,79.5L287.2,65.5L290.8,52.0L297.0,38.0L301.3,27.0L302.6,25.7L304.6,24.4L307.5,26.5L308.3,28.0L312.2,38.0L318.4,52.0L322.1,66.0L324.8,79.5L328.3,102.0L330.0,123.0L330.6,128.8L331.1,131.5L332.6,136.0L333.4,140.5L333.9,146.5L334.6,163.6L335.1,170.9L335.6,172.2L336.1,162.7L336.6,125.0L337.1,120.0L337.6,117.8L338.1,117.4L338.6,118.5L339.2,122.5L339.5,128.5L339.6,191.5Z"/>
<path fill="rgb(32,32,32)" fill-rule="evenodd" d="M339.1,191.5L324.6,191.9L319.6,191.8L317.3,191.5L308.1,133.0L306.9,130.0L305.6,129.0L304.1,128.4L302.6,129.0L301.3,130.0L300.1,133.0L290.7,191.5L288.1,191.8L282.6,191.9L277.1,191.8L274.2,191.5L277.6,150.9L281.4,102.0L284.9,79.5L287.7,65.5L291.5,52.0L297.8,38.0L302.2,27.0L303.1,26.1L304.6,25.1L306.1,26.1L307.0,27.0L311.4,38.0L317.7,52.0L321.5,65.5L324.3,79.5L327.8,102.0L329.6,124.8L330.3,131.0L331.1,135.5L332.6,139.7L333.1,143.0L333.5,148.5L334.6,173.7L335.1,180.6L335.6,183.4L336.1,180.4L336.5,169.0L336.9,127.5L337.5,122.0L337.6,121.4L338.1,120.8L338.6,122.4L339.1,129.5L339.3,191.5L339.1,191.5Z"/>
<path fill="rgb(38,38,38)" fill-rule="evenodd" d="M338.6,191.6L335.6,191.5L332.6,191.8L324.6,191.9L320.1,191.8L317.7,191.5L308.5,133.0L307.5,130.0L306.1,128.7L304.1,127.7L302.1,128.7L300.7,130.0L299.6,133.0L294.8,164.5L290.4,191.5L287.6,191.8L282.6,191.9L277.6,191.8L274.6,191.5L278.1,150.0L281.8,102.0L285.3,79.5L288.2,65.5L292.0,52.0L298.4,38.0L303.0,27.0L304.6,25.7L306.2,27.0L310.8,38.0L317.2,52.0L321.0,65.5L323.9,79.5L327.4,102.0L329.1,124.0L330.1,134.4L330.9,138.5L332.3,142.5L332.9,146.0L334.6,181.2L335.1,187.9L335.6,191.4L336.1,190.9L336.7,181.5L337.2,159.0L337.4,129.0L337.6,126.3L338.1,125.2L338.6,130.0L338.9,191.5L338.6,191.6Z"/>
<path fill="rgb(45,45,45)" fill-rule="evenodd" d="M334.6,191.6L330.6,191.8L324.6,191.9L320.6,191.8L318.0,191.5L311.4,150.0L308.9,133.0L308.0,130.0L307.6,129.5L306.1,128.1L304.1,127.1L302.1,128.0L300.6,129.5L300.2,130.0L299.2,133.0L294.3,165.5L292.1,178.1L290.0,191.5L287.6,191.8L282.6,191.9L277.6,191.8L275.0,191.5L278.6,148.5L282.2,102.0L285.7,79.5L288.7,65.5L292.5,52.0L299.0,38.0L302.9,29.0L303.8,27.0L304.6,26.3L305.4,27.0L306.3,29.0L310.2,38.0L316.7,52.0L320.5,65.5L323.5,79.5L327.0,102.0L329.1,128.7L330.1,138.6L330.6,141.5L332.1,146.1L332.6,149.5L334.9,191.5L334.6,191.6ZM338.1,191.5L336.9,191.5L337.6,178.4L338.1,177.9L338.4,191.5L338.1,191.5Z"/>
<path fill="rgb(51,51,51)" fill-rule="evenodd" d="M334.1,191.6L324.1,191.8L320.6,191.8L318.3,191.5L311.8,151.0L309.3,133.0L308.4,130.0L307.6,128.9L306.1,127.4L304.1,126.3L302.1,127.4L300.1,129.5L299.7,130.0L298.9,133.0L294.3,163.5L291.6,179.2L289.7,191.5L287.1,191.8L282.6,191.8L278.1,191.8L275.4,191.5L278.8,150.0L282.5,102.0L285.9,80.5L288.9,66.0L292.9,52.0L304.6,27.0L316.3,52.0L320.3,66.0L323.3,80.5L326.7,102.0L329.1,133.0L330.1,142.6L330.6,145.6L331.8,150.5L332.4,155.0L334.5,191.5L334.1,191.6Z"/>
<path fill="rgb(57,57,57)" fill-rule="evenodd" d="M334.1,191.5L325.1,191.8L321.1,191.8L318.6,191.5L312.0,150.0L309.6,133.0L308.8,130.0L308.1,128.9L306.1,126.7L304.1,125.5L303.1,125.9L302.1,126.7L300.1,128.9L299.4,130.0L298.6,133.0L293.8,165.0L291.6,177.5L289.4,191.5L287.1,191.8L282.6,191.8L278.1,191.7L275.7,191.5L279.1,150.5L282.8,102.0L285.9,82.0L289.4,65.5L293.2,52.5L304.6,28.4L315.9,52.0L319.8,65.5L322.9,80.0L326.4,102.0L329.6,142.3L330.6,150.1L331.6,155.1L332.2,159.5L333.1,171.1L334.2,191.5L334.1,191.5Z"/>
<path fill="rgb(64,64,64)" fill-rule="evenodd" d="M333.6,191.6L324.6,191.8L318.8,191.5L312.3,150.5L309.9,133.0L309.2,130.0L308.1,128.3L306.1,126.0L304.1,124.7L303.1,125.1L302.1,125.9L300.1,128.2L299.0,130.0L298.3,133.0L296.4,147.0L293.8,163.5L291.1,178.9L289.1,191.5L286.6,191.8L282.6,191.8L276.0,191.5L279.4,150.0L283.1,102.0L286.3,81.5L289.8,65.5L293.5,52.5L296.8,45.5L304.6,29.7L312.4,45.5L315.7,52.5L319.4,65.5L322.9,81.5L326.1,102.0L329.6,146.2L330.6,154.5L332.2,164.5L333.1,176.4L334.0,191.5L333.6,191.6Z"/>
<path fill="rgb(70,70,70)" fill-rule="evenodd" d="M333.6,191.5L325.6,191.8L319.1,191.5L312.5,150.0L310.1,132.7L309.5,130.0L308.1,127.6L306.1,125.2L304.1,123.9L303.1,124.3L302.1,125.1L300.1,127.6L298.7,130.0L298.1,132.5L296.1,147.0L293.4,165.0L290.9,178.5L288.9,191.5L282.6,191.8L276.3,191.5L279.7,150.0L283.4,102.0L286.5,82.0L290.0,66.0L293.9,52.5L297.4,45.0L304.6,31.0L311.8,45.0L315.3,52.5L319.2,66.0L322.7,82.0L325.8,102.0L329.6,150.1L330.6,158.7L332.1,168.7L332.6,174.1L333.6,191.5Z"/>
<path fill="rgb(76,76,76)" fill-rule="evenodd" d="M333.1,191.5L325.1,191.8L319.4,191.5L312.8,150.5L310.1,131.4L309.6,129.6L307.6,126.2L306.1,124.4L304.1,123.1L302.6,123.9L301.1,125.5L298.9,129.0L298.4,130.0L298.1,131.3L293.3,164.0L290.6,178.9L288.6,191.5L282.6,191.8L276.5,191.5L280.0,150.0L283.7,102.0L286.8,82.0L290.4,65.5L294.2,52.5L298.1,44.5L304.6,32.3L311.1,44.5L315.0,52.5L318.8,65.5L322.3,81.5L325.5,102.0L329.6,153.6L330.6,163.0L332.1,173.7L332.6,179.1L333.4,191.5L333.1,191.5Z"/>
<path fill="rgb(83,83,83)" fill-rule="evenodd" d="M332.6,191.5L325.1,191.8L319.6,191.5L312.9,150.0L310.7,133.0L310.1,130.0L309.1,127.9L307.1,124.7L305.6,123.1L304.1,122.3L302.6,123.1L301.1,124.7L299.1,127.9L298.1,130.0L297.5,133.0L295.7,147.0L292.8,165.5L290.4,178.5L288.4,191.5L282.6,191.8L276.8,191.5L280.3,150.0L284.0,102.0L287.1,82.0L290.7,65.5L294.6,52.5L298.6,44.4L304.6,33.5L310.6,44.4L314.6,52.5L318.5,65.5L322.1,82.0L325.2,102.0L329.1,151.5L330.6,167.1L332.1,179.1L332.6,184.5L333.1,191.5L332.6,191.5Z"/>
<path fill="rgb(89,89,89)" fill-rule="evenodd" d="M332.6,191.5L325.6,191.7L319.8,191.5L316.4,171.0L313.3,151.0L311.0,133.0L310.4,130.0L308.6,126.3L307.1,123.9L305.6,122.3L304.1,121.5L302.6,122.3L301.1,123.9L299.6,126.3L297.8,130.0L297.2,133.0L295.5,147.0L292.7,165.0L290.1,179.0L288.2,191.5L282.6,191.7L277.1,191.5L284.2,102.0L287.3,82.0L290.9,66.0L294.9,52.5L299.1,44.2L304.6,34.7L310.1,44.2L314.3,52.5L318.2,65.5L321.9,82.0L325.0,102.0L329.1,154.7L332.6,191.5Z"/>
<path fill="rgb(96,96,96)" fill-rule="evenodd" d="M332.1,191.5L325.6,191.7L320.1,191.5L316.5,170.5L313.3,150.0L311.2,133.0L310.6,130.0L308.8,126.0L307.6,123.8L306.1,122.0L304.1,120.7L302.6,121.5L300.6,123.9L299.4,126.0L297.6,130.0L297.0,133.0L295.3,147.0L292.4,165.5L290.0,178.5L287.9,191.5L282.6,191.7L277.3,191.5L284.5,102.0L287.6,82.0L291.3,65.5L295.3,52.5L299.6,44.1L304.6,35.9L309.6,44.1L313.9,52.5L317.9,65.5L321.6,82.0L324.7,102.0L328.6,151.9L332.1,191.5Z"/>
<path fill="rgb(102,102,102)" fill-rule="evenodd" d="M331.6,191.5L325.6,191.7L320.3,191.5L316.8,171.0L313.5,150.0L311.5,133.0L310.9,130.0L309.1,125.7L307.6,123.0L306.1,121.2L304.1,119.8L303.1,120.3L302.1,121.2L300.6,123.1L299.1,125.8L297.3,130.0L296.7,133.0L295.1,147.0L292.3,165.0L289.7,178.5L287.7,191.5L282.6,191.7L277.6,191.5L284.7,102.0L287.8,82.0L291.5,66.0L295.6,52.5L300.1,44.1L304.6,37.1L309.1,44.1L313.6,52.5L317.7,66.0L321.4,82.0L324.5,102.0L328.2,150.0L331.7,191.5L331.6,191.5Z"/>
<path fill="rgb(108,108,108)" fill-rule="evenodd" d="M331.1,191.5L325.6,191.7L320.6,191.5L319.3,183.5L317.0,171.0L313.8,150.0L311.7,133.0L311.2,130.0L309.1,124.9L307.6,122.2L306.1,120.3L304.1,118.8L303.6,119.0L302.1,120.4L300.6,122.3L299.1,125.0L297.0,130.0L296.5,133.0L294.9,147.0L292.1,165.0L289.4,179.0L287.4,191.5L282.6,191.7L277.9,191.5L284.9,102.0L288.0,82.0L291.7,66.0L295.9,52.5L300.6,44.0L304.6,38.3L308.6,44.0L313.3,52.5L317.4,66.0L321.2,82.0L324.3,102.0L331.4,191.5L331.1,191.5Z"/>
<path fill="rgb(115,115,115)" fill-rule="evenodd" d="M330.6,191.5L325.1,191.7L320.8,191.5L319.5,183.0L317.2,171.0L314.0,150.0L311.9,133.0L311.4,130.0L309.6,125.2L308.1,122.1L306.1,119.4L305.1,118.4L304.1,117.8L302.6,118.9L300.1,122.2L298.6,125.3L296.8,130.0L296.3,133.0L294.7,147.0L291.9,165.0L289.2,178.5L287.2,191.5L282.6,191.7L278.2,191.5L285.2,102.0L288.3,82.0L292.0,66.0L296.1,53.0L297.1,50.9L300.1,45.7L302.6,41.9L304.6,39.3L306.6,41.9L309.1,45.7L312.1,50.9L313.1,53.0L317.1,66.0L320.9,82.0L324.0,102.0L331.1,191.5L330.6,191.5Z"/>
<path fill="rgb(121,121,121)" fill-rule="evenodd" d="M330.6,191.5L325.6,191.6L321.1,191.5L319.8,183.5L317.5,171.5L314.1,149.6L311.7,130.0L309.6,124.3L308.1,121.3L306.1,118.3L305.1,117.4L304.1,116.8L303.1,117.4L302.1,118.4L300.1,121.4L298.6,124.5L296.5,130.0L296.0,133.0L294.5,147.0L291.7,165.0L288.9,179.0L286.9,191.5L282.6,191.6L278.5,191.5L285.4,102.0L288.5,82.0L292.3,66.0L296.6,52.6L300.6,45.7L302.6,42.9L304.6,40.4L306.6,42.9L308.6,45.7L312.6,52.6L316.8,66.0L320.7,82.0L323.8,102.0L329.4,172.0L330.8,191.5L330.6,191.5Z"/>
<path fill="rgb(128,128,128)" fill-rule="evenodd" d="M330.1,191.5L321.3,191.5L320.0,183.0L317.6,171.0L314.4,150.0L312.0,130.0L310.1,124.7L308.4,121.0L306.1,117.3L305.1,116.3L304.1,115.7L303.1,116.3L302.1,117.4L299.9,121.0L298.1,124.9L296.3,130.0L295.8,133.0L294.3,147.0L291.5,165.0L288.7,178.5L286.6,191.5L278.8,191.5L279.8,179.0L280.5,166.5L285.6,102.0L288.7,82.0L292.6,66.0L296.8,53.0L297.6,51.4L300.6,46.6L302.6,43.8L304.6,41.5L306.6,43.8L308.6,46.6L311.6,51.4L312.4,53.0L316.5,66.0L320.5,82.0L323.6,102.0L329.2,172.5L330.4,191.5L330.1,191.5Z"/>
<path fill="rgb(134,134,134)" fill-rule="evenodd" d="M330.1,191.5L321.6,191.5L320.4,183.5L317.9,171.5L314.6,150.0L312.2,130.0L310.0,123.5L307.6,118.4L306.1,116.2L305.1,115.3L304.1,114.7L302.6,115.8L300.6,118.6L298.3,123.5L296.0,130.0L294.1,147.0L291.2,165.5L288.3,179.0L286.3,191.5L279.1,191.5L280.1,179.0L280.8,166.0L285.8,102.0L288.9,82.0L292.9,66.0L297.2,53.0L298.1,51.3L300.6,47.5L302.6,44.8L304.6,42.7L306.6,44.8L308.6,47.5L311.1,51.3L312.0,53.0L316.2,66.0L320.3,82.0L323.4,102.0L328.9,171.0L329.5,183.5L330.1,191.5Z"/>
<path fill="rgb(140,140,140)" fill-rule="evenodd" d="M329.6,191.5L322.0,191.5L320.8,184.0L318.1,171.2L315.1,151.8L314.4,147.0L312.5,130.0L310.4,123.5L308.1,118.2L306.1,115.1L305.1,114.2L304.1,113.6L303.1,114.2L302.1,115.3L300.1,118.5L297.9,123.5L295.8,130.0L293.8,147.0L291.1,165.1L290.1,170.2L288.0,179.0L286.0,191.5L279.5,191.5L280.5,179.0L281.0,166.0L286.0,102.0L289.1,82.0L290.6,75.6L293.1,66.2L297.7,53.0L298.6,51.3L301.1,47.7L303.1,45.3L304.6,43.9L306.1,45.3L308.1,47.7L310.6,51.3L311.5,53.0L316.1,66.7L318.6,75.8L320.1,82.1L323.2,102.0L328.7,171.5L329.2,184.0L329.8,191.5L329.6,191.5Z"/>
<path fill="rgb(147,147,147)" fill-rule="evenodd" d="M329.1,191.5L322.3,191.5L321.0,183.5L319.1,175.2L318.1,169.8L314.6,147.0L312.8,130.0L310.6,123.1L308.1,117.1L306.1,114.0L305.1,113.1L304.1,112.6L303.1,113.2L302.1,114.2L300.1,117.4L297.8,123.0L295.5,130.0L293.6,147.0L290.8,165.5L289.6,171.4L287.6,179.0L285.6,191.5L279.9,191.5L280.9,179.0L281.1,166.5L286.3,102.0L289.3,82.0L291.1,74.5L293.5,66.0L298.2,53.0L299.1,51.3L301.1,48.7L303.1,46.5L304.6,45.2L306.1,46.5L308.1,48.7L310.1,51.3L311.0,53.0L316.1,67.8L319.1,78.6L320.1,83.4L322.9,102.0L328.5,171.5L328.8,184.0L329.4,191.5L329.1,191.5Z"/>
<path fill="rgb(153,153,153)" fill-rule="evenodd" d="M328.6,191.5L322.7,191.5L321.4,183.5L319.6,176.3L318.4,170.5L314.8,147.0L313.0,130.0L310.8,122.5L308.1,115.8L307.0,114.0L305.7,112.5L304.1,112.3L302.6,112.6L301.4,114.0L300.1,116.2L297.6,122.5L295.2,130.0L293.4,147.0L290.6,165.5L289.6,170.4L287.2,179.0L285.2,191.5L280.4,191.5L281.3,179.5L281.2,171.5L281.4,166.0L286.5,102.0L289.6,82.0L291.1,75.4L293.6,66.6L297.4,57.0L298.7,53.0L299.6,51.5L301.6,49.1L304.6,46.5L307.6,49.1L309.6,51.5L310.5,53.0L312.5,59.0L315.6,67.3L318.1,75.7L319.6,82.0L322.7,102.0L328.3,171.5L328.5,176.5L328.3,184.0L328.9,191.5L328.6,191.5Z"/>
<path fill="rgb(159,159,159)" fill-rule="evenodd" d="M328.1,191.5L323.3,191.5L322.0,184.0L319.6,175.1L318.6,170.0L315.1,147.0L313.3,130.0L311.0,122.0L309.4,117.5L308.1,114.6L306.8,112.5L304.1,112.2L301.7,112.5L300.6,114.1L298.8,118.0L296.3,125.5L295.0,130.0L293.2,147.0L290.2,166.5L289.1,171.3L286.7,179.0L284.6,191.5L281.0,191.5L281.9,179.5L281.5,171.5L281.6,165.5L286.8,102.0L289.6,83.2L291.1,76.3L293.6,67.6L294.6,64.8L298.0,57.0L299.4,53.0L300.1,51.9L301.6,50.2L304.6,47.9L307.6,50.2L309.1,51.9L309.8,53.0L311.8,59.0L314.6,65.6L316.1,70.0L318.6,78.5L319.6,83.2L322.4,102.0L328.0,170.5L328.2,176.5L327.8,184.0L328.3,191.5L328.1,191.5Z"/>
<path fill="rgb(166,166,166)" fill-rule="evenodd" d="M327.1,191.5L324.0,191.5L322.8,184.5L320.6,177.7L319.6,173.9L318.9,170.5L315.4,147.0L313.6,130.0L312.0,124.0L309.6,116.6L307.6,112.5L304.1,111.9L300.8,112.5L300.5,113.0L298.3,118.0L295.2,128.0L294.7,130.0L294.3,133.0L292.9,147.0L289.8,167.5L288.1,173.5L285.8,179.5L283.6,191.5L282.1,191.5L282.7,179.5L281.8,172.5L281.8,166.0L287.0,102.0L289.1,87.8L290.1,81.6L291.1,77.3L292.6,71.8L294.6,65.8L298.7,57.0L300.2,53.0L302.1,50.9L304.6,49.3L307.1,50.9L309.0,53.0L311.3,59.5L314.1,65.6L316.6,72.6L318.6,79.5L320.1,87.8L322.2,102.0L327.8,171.0L327.9,177.0L327.1,184.5L327.5,191.5L327.1,191.5Z"/>
<path fill="rgb(172,172,172)" fill-rule="evenodd" d="M325.6,188.1L325.1,188.2L324.3,185.0L321.6,179.4L320.6,176.5L319.6,172.6L315.6,147.0L314.0,130.0L312.4,124.0L310.1,116.5L308.4,112.5L306.0,112.0L305.1,111.3L304.1,110.8L303.6,111.0L302.4,112.0L300.1,112.5L298.4,116.5L296.0,124.0L294.4,130.0L292.7,147.0L289.6,167.0L288.6,170.9L287.1,174.8L285.6,177.4L284.6,178.3L284.1,178.3L283.6,177.7L282.9,176.0L282.3,173.5L282.0,170.0L282.1,165.6L287.3,102.0L290.3,82.0L291.1,78.3L292.6,72.8L295.1,65.7L299.8,57.0L301.3,53.0L302.6,51.8L304.6,50.8L306.6,51.8L307.9,53.0L310.0,59.0L313.6,65.8L314.6,68.1L316.6,73.6L318.1,78.6L318.9,82.0L319.8,88.0L321.9,102.0L327.6,171.5L327.5,177.5L326.9,180.5L325.7,184.5L325.6,188.1Z"/>
<path fill="rgb(178,178,178)" fill-rule="evenodd" d="M325.1,181.8L324.6,181.9L323.6,181.4L322.1,179.2L320.6,175.3L319.8,172.0L315.9,147.0L314.3,130.0L312.3,122.0L310.5,116.0L309.1,112.5L307.0,112.0L305.6,110.4L304.1,109.6L302.6,110.6L301.4,112.0L299.4,112.5L297.7,117.0L295.3,125.0L294.1,130.0L292.4,147.0L289.6,165.5L289.1,168.0L288.1,171.3L286.6,174.5L285.6,175.8L285.1,176.1L284.6,176.2L284.1,175.9L283.6,175.4L283.1,174.3L282.6,172.3L282.3,169.0L282.4,165.5L287.6,102.0L290.6,81.8L291.6,77.4L293.1,72.2L295.6,65.8L297.6,62.3L301.9,56.5L303.4,53.0L304.6,52.3L305.8,53.0L308.1,59.0L312.6,65.4L314.6,69.4L316.1,73.2L317.6,77.9L318.5,81.5L319.1,85.1L321.6,102.0L327.3,171.0L327.3,175.0L326.9,178.0L326.1,180.6L325.1,181.8Z"/>
<path fill="rgb(185,185,185)" fill-rule="evenodd" d="M324.6,180.1L323.6,179.8L322.1,177.9L321.1,175.5L320.1,172.0L316.3,147.0L314.7,130.0L311.3,117.0L309.8,112.5L307.9,112.0L306.1,109.6L305.1,108.8L304.1,108.4L302.4,109.5L300.6,112.0L298.8,112.5L297.3,116.5L294.9,125.0L293.7,130.0L292.1,147.0L289.6,163.7L289.1,166.7L288.1,170.2L286.6,173.3L285.6,174.4L285.1,174.6L284.6,174.5L283.9,174.0L283.4,173.0L283.0,171.5L282.6,168.5L282.7,165.5L287.1,112.5L287.3,112.0L288.0,102.0L290.9,82.0L291.6,78.5L293.1,73.2L294.1,70.4L295.6,67.0L297.1,64.5L298.6,62.7L300.1,61.5L301.6,60.8L303.1,60.7L304.6,61.0L306.1,62.2L309.6,63.9L311.1,65.1L312.1,66.3L314.1,69.6L315.6,73.0L317.1,77.3L318.3,82.0L321.2,102.0L321.9,112.0L322.1,112.5L327.0,171.0L327.0,174.0L326.6,177.2L326.1,178.7L325.6,179.5L324.6,180.1Z"/>
<path fill="rgb(191,191,191)" fill-rule="evenodd" d="M324.6,178.6L324.1,178.7L323.1,178.0L322.1,176.6L321.1,174.3L320.4,171.5L316.6,147.0L315.1,130.0L311.5,115.5L310.5,112.5L308.7,112.0L307.6,109.9L306.6,108.6L305.6,107.8L304.1,107.2L303.1,107.6L302.1,108.5L301.1,109.7L299.8,112.0L298.1,112.5L296.8,116.5L294.9,123.5L293.3,130.0L291.8,147.0L289.1,165.0L288.1,169.1L287.1,171.4L286.6,172.1L285.6,173.1L285.1,173.2L284.6,173.1L284.1,172.6L283.3,170.5L283.0,168.5L283.0,165.5L287.4,112.5L287.7,112.0L288.4,102.0L291.2,82.0L291.9,78.5L293.1,74.2L295.1,69.2L296.1,67.4L297.6,65.4L299.1,64.2L300.1,63.8L301.6,64.1L304.1,66.2L305.1,66.7L306.1,66.9L309.1,66.3L310.6,66.7L311.6,67.5L313.6,70.1L315.1,72.9L316.6,76.8L317.9,81.5L320.8,102.0L321.5,112.0L321.8,112.5L326.7,170.5L326.7,173.5L326.3,176.0L325.6,177.8L324.6,178.6Z"/>
<path fill="rgb(198,198,198)" fill-rule="evenodd" d="M324.6,177.2L323.6,177.1L322.6,176.2L321.6,174.3L320.6,170.8L317.1,147.0L315.5,130.0L311.8,114.5L311.2,112.5L309.6,112.0L308.3,109.5L307.1,107.6L306.1,106.6L304.6,105.9L303.6,106.0L302.1,107.0L300.6,108.9L299.0,112.0L297.4,112.5L297.3,113.0L294.8,122.0L292.9,130.0L291.4,147.0L288.4,166.5L287.6,169.1L287.1,170.2L286.1,171.5L285.1,171.8L284.6,171.6L284.1,170.9L283.6,169.4L283.4,167.5L283.4,165.0L286.5,130.0L287.8,112.5L288.2,112.0L288.8,102.0L291.5,82.0L292.7,76.5L294.6,71.3L296.6,68.0L298.1,66.6L299.1,66.2L300.1,66.3L301.1,66.9L304.1,70.8L305.1,71.4L306.1,71.1L308.1,69.5L309.6,68.8L310.6,68.8L312.1,69.7L313.6,71.4L315.1,74.1L316.6,78.0L317.5,81.5L320.4,102.0L321.0,112.0L321.4,112.5L322.9,132.0L326.3,170.0L326.3,172.5L326.1,174.5L325.6,176.1L325.1,176.9L324.6,177.2Z"/>
<path fill="rgb(204,204,204)" fill-rule="evenodd" d="M324.6,175.7L324.1,175.9L323.6,175.8L322.6,174.8L321.6,172.8L321.1,171.0L317.5,147.0L316.0,130.0L312.3,113.5L312.0,112.5L310.4,112.0L308.9,108.5L307.6,106.4L306.6,105.3L305.1,104.6L304.1,104.5L303.1,104.8L301.6,105.9L300.1,108.0L298.1,112.0L296.7,112.5L295.3,117.5L292.4,130.0L291.0,147.0L288.1,166.0L287.1,168.9L286.1,170.2L285.6,170.4L285.1,170.4L284.6,169.9L284.1,168.8L283.8,167.0L283.9,165.0L287.0,130.0L288.1,112.5L288.7,112.0L289.2,102.0L291.4,84.5L292.4,79.0L294.1,73.5L295.1,71.4L296.1,69.9L297.1,68.9L298.1,68.4L299.1,68.3L299.6,68.5L300.7,69.5L301.9,71.5L303.6,75.5L304.6,76.9L305.1,77.0L305.6,76.6L307.9,73.0L309.3,71.5L310.6,70.9L312.1,71.4L313.6,72.8L314.6,74.3L316.1,77.7L317.1,81.0L318.2,88.0L320.0,102.0L320.5,112.0L321.0,112.5L322.4,131.5L325.8,170.0L325.9,172.0L325.6,174.0L325.1,175.2L324.6,175.7Z"/>
<path fill="rgb(210,210,210)" fill-rule="evenodd" d="M286.1,168.7L285.6,168.9L285.1,168.6L284.7,168.0L284.4,166.5L284.4,165.0L287.7,129.0L288.5,112.5L289.2,112.0L289.6,102.0L291.3,88.0L292.6,79.5L294.1,74.6L295.1,72.5L296.1,71.2L297.1,70.5L298.1,70.3L298.8,70.5L299.5,71.0L300.5,72.5L301.4,75.0L302.1,78.5L302.1,82.5L301.7,104.0L300.6,105.2L299.6,106.8L297.2,112.0L295.9,112.5L294.8,116.5L291.8,130.0L290.4,147.0L287.7,165.5L287.1,167.3L286.1,168.7ZM324.6,174.0L324.1,174.4L323.6,174.3L323.1,174.0L322.1,172.4L321.6,170.5L318.1,147.0L316.7,130.0L313.3,114.5L312.8,112.5L311.3,112.0L309.1,106.5L307.5,104.0L307.1,83.0L307.2,80.5L307.7,78.0L308.6,75.5L309.6,74.0L310.2,73.5L311.1,73.1L312.1,73.2L313.1,73.7L314.1,74.8L315.1,76.5L316.1,79.0L316.8,81.5L317.8,88.0L319.5,102.0L320.0,112.0L320.6,112.5L321.9,132.0L325.3,170.0L325.2,172.5L324.6,174.0Z"/>
<path fill="rgb(217,217,217)" fill-rule="evenodd" d="M286.1,166.6L285.6,166.5L285.3,165.0L286.8,147.0L288.6,129.5L289.0,112.5L289.7,112.0L290.0,102.0L291.6,88.0L292.5,81.5L293.6,77.1L295.1,73.7L296.1,72.6L297.1,72.3L298.1,72.6L299.3,74.0L300.1,76.0L300.5,78.5L299.7,104.0L298.2,107.0L296.2,112.0L294.9,112.5L290.8,130.0L289.6,147.6L287.1,163.7L286.6,165.9L286.1,166.6ZM324.1,172.3L323.6,172.5L323.0,172.0L322.5,171.0L322.1,169.0L318.9,147.0L317.5,130.0L314.8,117.0L313.8,112.5L312.4,112.0L309.5,104.0L308.8,81.0L309.3,78.5L310.1,76.6L311.1,75.5L312.1,75.2L313.1,75.3L314.1,76.2L315.6,78.9L316.6,82.4L317.4,88.0L319.1,102.0L319.5,112.0L320.2,112.5L321.0,131.0L324.6,170.0L324.6,171.0L324.1,172.3Z"/>
<path fill="rgb(223,223,223)" fill-rule="evenodd" d="M290.6,122.6L290.1,122.3L289.6,120.0L289.4,112.5L290.2,112.0L290.4,102.0L292.1,86.8L293.1,80.3L294.1,77.0L295.1,75.0L295.6,74.5L296.1,74.2L296.6,74.2L297.6,74.9L298.2,76.0L298.7,77.5L298.9,79.0L297.8,104.0L294.8,112.0L293.7,112.5L291.6,120.6L290.6,122.6ZM319.1,127.3L318.6,127.0L317.6,123.7L315.1,112.5L313.8,112.0L311.4,104.0L310.4,82.0L310.6,80.5L311.1,79.0L312.1,77.7L313.1,77.3L314.1,77.8L314.6,78.4L315.6,80.4L316.2,82.5L317.1,88.6L318.6,102.0L318.9,112.0L319.7,112.5L319.8,121.5L319.6,125.0L319.1,127.3ZM321.1,149.9L320.9,149.0L320.6,148.5L320.4,147.0L320.4,144.5L320.6,143.6L321.1,147.0L321.1,149.9Z"/>
<path fill="rgb(230,230,230)" fill-rule="evenodd" d="M291.1,115.6L290.6,115.7L290.5,115.5L290.1,112.5L290.9,112.0L290.7,107.5L290.8,102.0L292.1,90.1L293.1,82.5L293.6,80.0L294.6,77.3L295.1,76.6L295.6,76.2L296.1,76.3L296.6,77.0L297.0,78.5L297.1,80.0L295.4,104.0L293.5,112.0L292.3,112.5L291.6,114.7L291.1,115.6ZM318.6,116.8L318.1,116.7L317.6,115.6L316.7,112.5L315.5,112.0L313.9,104.0L312.5,83.0L312.8,81.0L313.1,80.3L313.6,79.8L314.1,79.8L314.6,80.2L315.2,81.5L316.1,85.0L316.5,88.0L318.1,102.0L318.3,112.0L319.0,112.5L318.9,115.0L318.6,116.8Z"/>
<path fill="rgb(236,236,236)" fill-rule="evenodd" d="M292.1,110.9L291.6,110.0L291.4,108.0L291.3,104.0L291.4,101.0L293.6,82.3L294.1,80.4L294.6,79.3L295.1,78.8L295.6,79.5L295.7,83.0L293.9,104.0L293.1,108.6L292.6,110.2L292.1,110.9ZM317.1,109.8L316.5,109.0L315.7,104.0L314.4,87.5L314.6,84.4L315.1,84.9L315.6,86.8L317.1,99.2L317.5,105.5L317.4,108.0L317.1,109.8Z"/>
<path fill="rgb(242,242,242)" fill-rule="evenodd" d="M293.6,93.4L293.4,93.0L293.6,90.1L293.6,93.4ZM292.6,103.9L292.1,103.0L292.1,101.8L293.1,93.2L293.5,93.5L293.1,100.3L292.6,103.9Z"/>
</g>
<rect x="113.7" y="24" width="1.6" height="167.5" fill="#e8e8e8"/>
<rect x="189.5" y="24" width="1.6" height="167.5" fill="#e8e8e8"/>
<rect x="265.8" y="24" width="1.6" height="167.5" fill="#e8e8e8"/>
<rect x="39.0" y="42.1" width="5" height="1.4" fill="#eee"/>
<rect x="39.0" y="79.6" width="5" height="1.4" fill="#eee"/>
<rect x="39.0" y="117.0" width="5" height="1.4" fill="#eee"/>
<rect x="39.0" y="154.5" width="5" height="1.4" fill="#eee"/>
<rect x="114.5" y="42.1" width="5" height="1.4" fill="#eee"/>
<rect x="114.5" y="79.6" width="5" height="1.4" fill="#eee"/>
<rect x="114.5" y="117.0" width="5" height="1.4" fill="#eee"/>
<rect x="114.5" y="154.5" width="5" height="1.4" fill="#eee"/>
<rect x="190.3" y="42.1" width="5" height="1.4" fill="#eee"/>
<rect x="190.3" y="79.6" width="5" height="1.4" fill="#eee"/>
<rect x="190.3" y="117.0" width="5" height="1.4" fill="#eee"/>
<rect x="190.3" y="154.5" width="5" height="1.4" fill="#eee"/>
<rect x="266.6" y="42.1" width="5" height="1.4" fill="#eee"/>
<rect x="266.6" y="79.6" width="5" height="1.4" fill="#eee"/>
<rect x="266.6" y="117.0" width="5" height="1.4" fill="#eee"/>
<rect x="266.6" y="154.5" width="5" height="1.4" fill="#eee"/>
<rect x="35.5" y="42.1" width="3.5" height="1.3" fill="#333"/>
<text x="35.5" y="47.8" font-size="11.0" text-anchor="end" >5.6</text>
<rect x="35.5" y="79.6" width="3.5" height="1.3" fill="#333"/>
<text x="35.5" y="85.3" font-size="11.0" text-anchor="end" >5.7</text>
<rect x="35.5" y="117.1" width="3.5" height="1.3" fill="#333"/>
<text x="35.5" y="122.7" font-size="11.0" text-anchor="end" >5.8</text>
<rect x="35.5" y="154.5" width="3.5" height="1.3" fill="#333"/>
<text x="35.5" y="160.2" font-size="11.0" text-anchor="end" >5.9</text>
<rect x="35.5" y="187.3" width="3.5" height="1.3" fill="#333"/>
<text x="35.5" y="193.0" font-size="11.0" text-anchor="end" >6.0</text>
<text x="8.2" y="36.8" font-size="19.5" text-anchor="start" >a</text>
<text transform="translate(15,105.5) rotate(-90)" font-size="13.7" text-anchor="middle">Binding Energy (eV)</text>
<text x="77.0" y="20.6" font-size="10.0" text-anchor="middle" >x=0.035</text>
<rect x="76.0" y="183" width="1.3" height="8.5" fill="#eee"/>
<rect x="51.6" y="187.2" width="1.5" height="4.3" fill="#f4f4f4"/>
<rect x="100.3" y="187.2" width="1.5" height="4.3" fill="#f4f4f4"/>
<text x="77.5" y="180.0" font-size="11.0" text-anchor="middle" fill="#f4f4f4" font-family="Liberation Serif, serif">&#915;</text>
<text x="57.7" y="202.8" font-size="10.0" text-anchor="end" >-0.4</text>
<text x="75.7" y="202.8" font-size="10.0" text-anchor="middle" >0</text>
<text x="94.0" y="202.8" font-size="10.0" text-anchor="start" >0.4</text>
<text x="152.8" y="20.6" font-size="10.0" text-anchor="middle" >x=0.063</text>
<rect x="151.8" y="183" width="1.3" height="8.5" fill="#eee"/>
<rect x="127.3" y="187.2" width="1.5" height="4.3" fill="#f4f4f4"/>
<rect x="176.2" y="187.2" width="1.5" height="4.3" fill="#f4f4f4"/>
<text x="153.3" y="180.0" font-size="11.0" text-anchor="middle" fill="#f4f4f4" font-family="Liberation Serif, serif">&#915;</text>
<text x="133.5" y="202.8" font-size="10.0" text-anchor="end" >-0.4</text>
<text x="151.5" y="202.8" font-size="10.0" text-anchor="middle" >0</text>
<text x="169.8" y="202.8" font-size="10.0" text-anchor="start" >0.4</text>
<text x="228.8" y="20.6" font-size="10.0" text-anchor="middle" >x=0.083</text>
<rect x="227.8" y="183" width="1.3" height="8.5" fill="#eee"/>
<rect x="203.3" y="187.2" width="1.5" height="4.3" fill="#f4f4f4"/>
<rect x="252.2" y="187.2" width="1.5" height="4.3" fill="#f4f4f4"/>
<text x="229.3" y="180.0" font-size="11.0" text-anchor="middle" fill="#f4f4f4" font-family="Liberation Serif, serif">&#915;</text>
<text x="209.5" y="202.8" font-size="10.0" text-anchor="end" >-0.4</text>
<text x="227.5" y="202.8" font-size="10.0" text-anchor="middle" >0</text>
<text x="245.8" y="202.8" font-size="10.0" text-anchor="start" >0.4</text>
<text x="304.8" y="20.6" font-size="10.0" text-anchor="middle" >x=0.086</text>
<rect x="303.9" y="183" width="1.3" height="8.5" fill="#eee"/>
<rect x="279.4" y="187.2" width="1.5" height="4.3" fill="#f4f4f4"/>
<rect x="328.1" y="187.2" width="1.5" height="4.3" fill="#f4f4f4"/>
<text x="305.3" y="180.0" font-size="11.0" text-anchor="middle" fill="#f4f4f4" font-family="Liberation Serif, serif">&#915;</text>
<text x="285.5" y="202.8" font-size="10.0" text-anchor="end" >-0.4</text>
<text x="303.5" y="202.8" font-size="10.0" text-anchor="middle" >0</text>
<text x="321.8" y="202.8" font-size="10.0" text-anchor="start" >0.4</text>
<text x="171.5" y="215.8" font-size="13.5"><tspan font-weight="bold" font-style="italic">k</tspan><tspan font-size="7.5" font-style="italic" dy="2.5">//</tspan><tspan dy="-2.5" dx="2.5">(</tspan><tspan font-family="Liberation Serif, serif" font-style="italic">&#960;</tspan><tspan>/a)</tspan></text>
<rect x="87.5" y="29" width="39.5" height="39" fill="#fff"/>
<path d="M89,49.2 L107.6,29.8 L126.4,49 L107.6,67.6 Z" fill="none" stroke="#111" stroke-width="1.5" stroke-dasharray="3 2.2"/>
<path d="M104,52 L111.3,44.7" stroke="#b84038" stroke-width="2"/>
<text x="108.5" y="55.0" font-size="7.0" text-anchor="start" fill="#444" font-family="Liberation Serif, serif">&#915;</text>
<text x="117.0" y="38.5" font-size="8.5" text-anchor="start" font-style="italic" fill="#222">M</text>
<text x="127.3" y="52.0" font-size="9.5" text-anchor="start" font-style="italic" fill="#e8e8e8">X</text>
<path d="M127.5,29.2 L181,29.2" stroke="#dc3020" stroke-width="2.3"/>
<path d="M179,25.2 L189,29.2 L179,33.2 Z" fill="#dc3020"/>
<rect x="344.2" y="155.4" width="7.8" height="26.6" fill="url(#cbar)" stroke="#222" stroke-width="0.8"/>
<text x="347.8" y="153.8" font-size="7.0" text-anchor="middle" fill="#333">H</text>
<text x="347.8" y="191.5" font-size="7.0" text-anchor="middle" fill="#333">L</text>
<path d="M370.0,89.2 371.0,88.2 372.0,87.2 373.0,86.5 374.0,85.3 375.0,84.4 376.0,83.6 377.0,82.6 378.0,81.3 379.0,79.9 380.0,78.7 381.0,77.6 382.0,76.7 383.0,75.8 384.0,74.4 385.0,73.3 386.0,72.6 387.0,70.9 388.0,70.3 389.0,69.4 390.0,67.9 391.0,66.7 392.0,65.8 393.0,65.2 394.0,63.8 395.0,62.2 396.0,61.7 397.0,61.3 398.0,60.4 399.0,59.3 400.0,58.0 401.0,56.7 402.0,56.4 403.0,55.5 404.0,54.9 405.0,54.5 406.0,53.4 407.0,52.7 408.0,52.1 409.0,51.2 410.0,50.5 411.0,50.0 412.0,50.0 413.0,49.5 414.0,48.8 415.0,48.7 416.0,47.9 417.0,46.9 418.0,46.8 419.0,45.9 420.0,44.8 421.0,44.3 422.0,43.1 423.0,42.0 424.0,41.1 425.0,39.2 426.0,38.2 427.0,37.2 428.0,36.3 429.0,35.4 430.0,35.4 431.0,35.8 432.0,36.8 433.0,37.8 434.0,38.1 435.0,38.9 436.0,40.7 437.0,42.6 438.0,44.8 439.0,48.0 440.0,50.7 441.0,52.8 442.0,55.6 443.0,58.8 444.0,61.2 445.0,63.5 446.0,66.6 447.0,69.0 448.0,71.4 449.0,72.6 450.0,73.9 451.0,75.1 452.0,75.8 453.0,76.4 454.0,77.1 455.0,78.7 456.0,79.1 457.0,78.8 458.0,79.5 459.0,80.6 460.0,80.9 461.0,81.6 462.0,82.3 463.0,82.5 464.0,82.8 465.0,83.0 466.0,83.4 467.0,84.0 468.0,84.7 469.0,84.7" fill="none" stroke="#111111" stroke-width="1.25" stroke-linejoin="round"/>
<path d="M370.0,100.4 371.0,100.2 372.0,99.4 373.0,98.1 374.0,97.3 375.0,96.5 376.0,96.0 377.0,95.0 378.0,94.2 379.0,92.7 380.0,92.7 381.0,91.4 382.0,90.5 383.0,89.2 384.0,87.9 385.0,87.0 386.0,85.8 387.0,84.2 388.0,82.9 389.0,81.8 390.0,79.9 391.0,78.5 392.0,77.8 393.0,76.4 394.0,74.9 395.0,74.3 396.0,73.6 397.0,72.5 398.0,71.7 399.0,71.5 400.0,71.1 401.0,70.1 402.0,69.2 403.0,68.9 404.0,68.4 405.0,67.5 406.0,67.1 407.0,66.6 408.0,65.5 409.0,64.7 410.0,64.4 411.0,63.8 412.0,63.3 413.0,61.9 414.0,61.4 415.0,60.7 416.0,59.9 417.0,59.9 418.0,59.4 419.0,58.5 420.0,58.5 421.0,57.7 422.0,56.9 423.0,56.1 424.0,55.5 425.0,54.2 426.0,54.2 427.0,53.8 428.0,52.9 429.0,53.3 430.0,53.4 431.0,54.2 432.0,54.7 433.0,55.9 434.0,57.1 435.0,58.1 436.0,59.8 437.0,61.4 438.0,63.6 439.0,65.6 440.0,68.4 441.0,70.5 442.0,72.1 443.0,74.1 444.0,76.1 445.0,78.0 446.0,79.4 447.0,83.4 448.0,86.5 449.0,88.3 450.0,89.9 451.0,92.0 452.0,92.8 453.0,94.6 454.0,96.0 455.0,96.2 456.0,97.5 457.0,98.3 458.0,99.7 459.0,101.2 460.0,102.0 461.0,101.5 462.0,102.5 463.0,103.6 464.0,104.4 465.0,104.5 466.0,104.6 467.0,105.3 468.0,105.6 469.0,105.8" fill="none" stroke="#5a2a98" stroke-width="1.25" stroke-linejoin="round"/>
<path d="M370.0,114.5 371.0,114.1 372.0,113.4 373.0,112.6 374.0,112.0 375.0,110.3 376.0,109.4 377.0,108.3 378.0,107.8 379.0,107.2 380.0,105.9 381.0,104.9 382.0,103.1 383.0,102.4 384.0,100.9 385.0,100.3 386.0,98.6 387.0,97.0 388.0,95.1 389.0,93.7 390.0,92.1 391.0,90.3 392.0,88.7 393.0,87.5 394.0,86.2 395.0,85.2 396.0,84.3 397.0,83.2 398.0,82.6 399.0,81.0 400.0,80.8 401.0,79.6 402.0,78.7 403.0,77.9 404.0,77.8 405.0,77.5 406.0,77.5 407.0,77.2 408.0,77.4 409.0,77.8 410.0,77.3 411.0,77.0 412.0,77.3 413.0,77.0 414.0,77.2 415.0,77.1 416.0,76.6 417.0,76.0 418.0,76.3 419.0,76.4 420.0,75.8 421.0,75.7 422.0,75.4 423.0,74.6 424.0,74.7 425.0,74.4 426.0,73.9 427.0,73.5 428.0,73.3 429.0,73.5 430.0,72.8 431.0,73.1 432.0,74.2 433.0,74.9 434.0,76.2 435.0,78.2 436.0,80.3 437.0,82.0 438.0,83.2 439.0,85.3 440.0,88.1 441.0,90.6 442.0,93.0 443.0,95.3 444.0,97.5 445.0,99.1 446.0,101.0 447.0,102.2 448.0,103.8 449.0,105.7 450.0,107.2 451.0,108.5 452.0,109.7 453.0,110.9 454.0,111.8 455.0,112.0 456.0,113.3 457.0,114.7 458.0,115.7 459.0,116.1 460.0,117.7 461.0,118.2 462.0,119.1 463.0,120.1 464.0,120.9 465.0,120.9 466.0,122.2 467.0,122.5 468.0,122.6 469.0,123.2" fill="none" stroke="#7d5a1e" stroke-width="1.25" stroke-linejoin="round"/>
<path d="M370.0,133.3 371.0,131.0 372.0,131.1 373.0,130.2 374.0,129.5 375.0,128.4 376.0,127.8 377.0,126.3 378.0,125.0 379.0,124.4 380.0,123.3 381.0,122.0 382.0,121.1 383.0,120.3 384.0,119.2 385.0,117.6 386.0,116.2 387.0,114.6 388.0,114.3 389.0,112.6 390.0,111.6 391.0,110.0 392.0,109.1 393.0,107.6 394.0,105.8 395.0,104.7 396.0,102.8 397.0,102.1 398.0,100.2 399.0,99.7 400.0,99.0 401.0,97.8 402.0,96.8 403.0,95.9 404.0,95.6 405.0,95.7 406.0,95.3 407.0,94.6 408.0,94.0 409.0,94.3 410.0,93.5 411.0,93.5 412.0,93.3 413.0,93.6 414.0,93.2 415.0,93.0 416.0,92.5 417.0,91.8 418.0,91.6 419.0,91.2 420.0,89.9 421.0,89.1 422.0,88.0 423.0,87.4 424.0,86.5 425.0,85.8 426.0,85.1 427.0,85.1 428.0,84.2 429.0,83.9 430.0,83.7 431.0,83.9 432.0,83.5 433.0,83.6 434.0,85.0 435.0,86.8 436.0,88.4 437.0,89.2 438.0,91.9 439.0,94.5 440.0,97.2 441.0,100.2 442.0,103.3 443.0,104.9 444.0,107.0 445.0,109.6 446.0,111.6 447.0,113.6 448.0,115.4 449.0,117.6 450.0,119.5 451.0,120.3 452.0,121.7 453.0,123.8 454.0,124.8 455.0,125.3 456.0,126.1 457.0,127.2 458.0,127.9 459.0,129.1 460.0,130.5 461.0,130.7 462.0,131.4 463.0,131.4 464.0,131.9 465.0,132.5 466.0,131.9 467.0,132.3 468.0,132.6 469.0,132.9" fill="none" stroke="#2f8fc4" stroke-width="1.25" stroke-linejoin="round"/>
<path d="M370.0,153.8 371.0,152.4 372.0,151.2 373.0,150.0 374.0,149.9 375.0,149.6 376.0,148.4 377.0,147.5 378.0,146.6 379.0,145.2 380.0,145.1 381.0,143.0 382.0,142.3 383.0,141.9 384.0,140.0 385.0,138.6 386.0,137.1 387.0,135.9 388.0,133.7 389.0,132.7 390.0,132.0 391.0,130.0 392.0,128.3 393.0,126.9 394.0,125.5 395.0,124.0 396.0,122.6 397.0,120.7 398.0,120.1 399.0,118.8 400.0,118.2 401.0,117.1 402.0,116.0 403.0,115.4 404.0,114.5 405.0,114.4 406.0,113.5 407.0,113.0 408.0,111.9 409.0,112.1 410.0,111.1 411.0,111.0 412.0,110.3 413.0,109.2 414.0,109.1 415.0,108.6 416.0,108.5 417.0,108.5 418.0,107.9 419.0,107.3 420.0,106.1 421.0,105.8 422.0,105.4 423.0,104.9 424.0,103.7 425.0,103.4 426.0,102.7 427.0,101.5 428.0,101.1 429.0,101.2 430.0,100.4 431.0,100.3 432.0,101.1 433.0,101.9 434.0,103.3 435.0,105.1 436.0,106.4 437.0,107.8 438.0,109.4 439.0,111.4 440.0,113.3 441.0,114.5 442.0,116.4 443.0,118.3 444.0,120.1 445.0,122.7 446.0,124.8 447.0,126.2 448.0,128.4 449.0,129.8 450.0,131.5 451.0,132.5 452.0,132.7 453.0,132.9 454.0,134.0 455.0,134.4 456.0,134.9 457.0,135.9 458.0,136.8 459.0,136.7 460.0,136.8 461.0,136.6 462.0,137.1 463.0,137.2 464.0,138.0 465.0,137.9 466.0,138.2 467.0,138.3 468.0,138.4 469.0,138.8" fill="none" stroke="#3aa63e" stroke-width="1.25" stroke-linejoin="round"/>
<path d="M370.0,164.0 371.0,163.1 372.0,162.6 373.0,161.4 374.0,160.7 375.0,159.7 376.0,158.0 377.0,157.5 378.0,156.1 379.0,155.8 380.0,154.3 381.0,152.6 382.0,151.7 383.0,150.5 384.0,149.4 385.0,148.4 386.0,146.8 387.0,145.6 388.0,143.7 389.0,141.6 390.0,139.5 391.0,137.9 392.0,136.8 393.0,135.5 394.0,134.2 395.0,132.1 396.0,130.8 397.0,129.3 398.0,128.2 399.0,126.8 400.0,126.9 401.0,126.0 402.0,125.7 403.0,125.5 404.0,125.0 405.0,124.2 406.0,124.7 407.0,124.3 408.0,123.9 409.0,123.1 410.0,122.5 411.0,122.3 412.0,122.6 413.0,122.5 414.0,122.1 415.0,122.6 416.0,121.9 417.0,121.8 418.0,121.4 419.0,120.4 420.0,120.6 421.0,119.9 422.0,118.9 423.0,118.9 424.0,118.4 425.0,117.8 426.0,117.0 427.0,115.7 428.0,115.4 429.0,115.0 430.0,114.9 431.0,114.8 432.0,115.3 433.0,116.0 434.0,117.0 435.0,119.4 436.0,121.7 437.0,123.1 438.0,124.6 439.0,127.3 440.0,129.9 441.0,131.9 442.0,134.2 443.0,135.6 444.0,137.7 445.0,139.1 446.0,140.1 447.0,141.0 448.0,142.6 449.0,143.5 450.0,144.6 451.0,146.1 452.0,146.5 453.0,147.3 454.0,149.1 455.0,150.5 456.0,151.4 457.0,152.1 458.0,153.3 459.0,153.5 460.0,155.0 461.0,155.7 462.0,155.6 463.0,156.2 464.0,156.1 465.0,156.6 466.0,157.5 467.0,157.5 468.0,158.2 469.0,158.6" fill="none" stroke="#dba54e" stroke-width="1.25" stroke-linejoin="round"/>
<path d="M370.0,174.5 371.0,174.2 372.0,173.7 373.0,172.9 374.0,172.3 375.0,170.8 376.0,170.0 377.0,168.8 378.0,167.5 379.0,166.7 380.0,166.0 381.0,164.7 382.0,163.9 383.0,163.3 384.0,162.0 385.0,160.8 386.0,159.4 387.0,157.7 388.0,155.8 389.0,155.1 390.0,153.0 391.0,151.9 392.0,150.3 393.0,148.9 394.0,147.4 395.0,145.8 396.0,144.6 397.0,142.7 398.0,141.9 399.0,140.2 400.0,139.8 401.0,138.3 402.0,137.5 403.0,136.7 404.0,134.6 405.0,134.2 406.0,134.0 407.0,133.7 408.0,133.5 409.0,133.1 410.0,132.8 411.0,132.5 412.0,132.4 413.0,132.2 414.0,132.3 415.0,132.0 416.0,132.0 417.0,132.1 418.0,131.7 419.0,130.8 420.0,130.3 421.0,129.9 422.0,128.7 423.0,127.5 424.0,127.0 425.0,126.8 426.0,125.9 427.0,125.2 428.0,124.9 429.0,124.1 430.0,124.8 431.0,124.1 432.0,124.3 433.0,125.5 434.0,125.5 435.0,126.6 436.0,127.9 437.0,128.9 438.0,130.4 439.0,132.3 440.0,134.1 441.0,136.0 442.0,138.3 443.0,140.5 444.0,141.9 445.0,142.3 446.0,144.7 447.0,146.1 448.0,147.3 449.0,148.2 450.0,149.6 451.0,150.9 452.0,151.8 453.0,153.8 454.0,154.8 455.0,155.5 456.0,156.3 457.0,158.0 458.0,158.9 459.0,159.8 460.0,160.3 461.0,161.9 462.0,162.0 463.0,163.1 464.0,162.5 465.0,163.7 466.0,164.1 467.0,163.8 468.0,164.7 469.0,165.1" fill="none" stroke="#b43cb4" stroke-width="1.25" stroke-linejoin="round"/>
<path d="M370.0,182.1 371.0,180.9 372.0,179.5 373.0,178.2 374.0,177.1 375.0,176.7 376.0,175.5 377.0,174.5 378.0,173.8 379.0,172.8 380.0,171.2 381.0,171.0 382.0,169.4 383.0,169.5 384.0,168.3 385.0,167.0 386.0,166.5 387.0,165.2 388.0,164.3 389.0,163.2 390.0,162.5 391.0,161.4 392.0,159.8 393.0,158.8 394.0,158.2 395.0,156.9 396.0,155.4 397.0,155.5 398.0,153.3 399.0,152.2 400.0,151.5 401.0,151.1 402.0,150.3 403.0,148.5 404.0,147.4 405.0,146.8 406.0,146.3 407.0,146.2 408.0,145.7 409.0,146.0 410.0,145.7 411.0,144.8 412.0,145.3 413.0,145.4 414.0,145.3 415.0,144.7 416.0,144.2 417.0,144.0 418.0,144.1 419.0,143.4 420.0,143.0 421.0,143.2 422.0,142.2 423.0,141.7 424.0,141.7 425.0,141.6 426.0,141.6 427.0,140.8 428.0,140.5 429.0,140.9 430.0,141.1 431.0,140.4 432.0,140.7 433.0,141.0 434.0,141.2 435.0,141.8 436.0,142.6 437.0,143.4 438.0,144.6 439.0,146.7 440.0,147.9 441.0,150.3 442.0,151.8 443.0,154.8 444.0,155.5 445.0,158.3 446.0,159.8 447.0,162.0 448.0,164.2 449.0,166.1 450.0,168.8 451.0,169.7 452.0,170.8 453.0,172.9 454.0,174.4 455.0,175.2 456.0,177.0 457.0,178.2 458.0,179.6 459.0,180.7 460.0,181.5 461.0,182.5 462.0,183.9 463.0,184.6 464.0,185.0 465.0,186.1 466.0,187.0 467.0,188.0 468.0,189.5 469.0,189.5" fill="none" stroke="#a3261e" stroke-width="1.25" stroke-linejoin="round"/>
<rect x="370.0" y="25.0" width="99.5" height="166.0" fill="none" stroke="#222" stroke-width="1.4"/>
<path d="M433.8,27 V191" stroke="#333" stroke-width="1.1" stroke-dasharray="3 2.2"/>
<path d="M429.5,26.5 Q430.5,29.3 433.2,30.4 Q430.5,31.5 429.5,34.3 Q428.5,31.5 425.8,30.4 Q428.5,29.3 429.5,26.5 Z" fill="#d83a28"/>
<path d="M430.3,44.1 Q431.3,46.9 434.0,48.0 Q431.3,49.1 430.3,51.9 Q429.3,49.1 426.6,48.0 Q429.3,46.9 430.3,44.1 Z" fill="#d83a28"/>
<path d="M430.6,62.3 Q431.6,65.1 434.3,66.2 Q431.6,67.3 430.6,70.1 Q429.6,67.3 426.9,66.2 Q429.6,65.1 430.6,62.3 Z" fill="#d83a28"/>
<path d="M431.5,74.5 Q432.5,77.3 435.2,78.4 Q432.5,79.5 431.5,82.3 Q430.5,79.5 427.8,78.4 Q430.5,77.3 431.5,74.5 Z" fill="#d83a28"/>
<path d="M432.0,91.5 Q433.0,94.3 435.7,95.4 Q433.0,96.5 432.0,99.3 Q431.0,96.5 428.3,95.4 Q431.0,94.3 432.0,91.5 Z" fill="#d83a28"/>
<path d="M432.0,105.8 Q433.0,108.6 435.7,109.7 Q433.0,110.8 432.0,113.6 Q431.0,110.8 428.3,109.7 Q431.0,108.6 432.0,105.8 Z" fill="#d83a28"/>
<path d="M432.6,116.3 Q433.6,119.1 436.3,120.2 Q433.6,121.3 432.6,124.1 Q431.6,121.3 428.9,120.2 Q431.6,119.1 432.6,116.3 Z" fill="#d83a28"/>
<path d="M433.0,130.7 Q434.0,133.5 436.7,134.6 Q434.0,135.7 433.0,138.5 Q432.0,135.7 429.3,134.6 Q432.0,133.5 433.0,130.7 Z" fill="#d83a28"/>
<rect x="379.2" y="186.8" width="1.4" height="4.2" fill="#222"/>
<rect x="389.2" y="186.8" width="1.4" height="4.2" fill="#222"/>
<rect x="399.2" y="186.8" width="1.4" height="4.2" fill="#222"/>
<rect x="409.1" y="186.8" width="1.4" height="4.2" fill="#222"/>
<rect x="419.1" y="185.0" width="1.4" height="6.0" fill="#222"/>
<rect x="429.0" y="186.8" width="1.4" height="4.2" fill="#222"/>
<rect x="438.9" y="186.8" width="1.4" height="4.2" fill="#222"/>
<rect x="448.9" y="186.8" width="1.4" height="4.2" fill="#222"/>
<rect x="458.9" y="186.8" width="1.4" height="4.2" fill="#222"/>
<text x="398.0" y="19.0" font-size="10.5" text-anchor="start" >EDC at &#915;</text>
<text x="399.5" y="36.6" font-size="10.0" text-anchor="start" >Ir+O</text>
<text x="355.6" y="36.9" font-size="19.5" text-anchor="start" >b</text>
<text transform="translate(367,101.6) rotate(-90)" font-size="13.4" text-anchor="middle">Intensity (a.u.)</text>
<text x="370.0" y="202.5" font-size="10.0" text-anchor="middle" >7</text>
<text x="419.8" y="202.5" font-size="10.0" text-anchor="middle" >6</text>
<text x="469.6" y="202.5" font-size="10.0" text-anchor="middle" >5</text>
<text x="424.0" y="217.5" font-size="13.2" text-anchor="middle" >Binding Energy (eV)</text>
<text x="471.0" y="76.5" font-size="10.0" text-anchor="start" >x=</text>
<text x="471.5" y="88.2" font-size="10.0" text-anchor="start" >0.035</text>
<text x="471.5" y="108.8" font-size="10.0" text-anchor="start" >0.040</text>
<text x="471.5" y="124.0" font-size="10.0" text-anchor="start" >0.056</text>
<text x="471.5" y="134.2" font-size="10.0" text-anchor="start" >0.057</text>
<text x="471.5" y="145.0" font-size="10.0" text-anchor="start" >0.063</text>
<text x="471.5" y="159.1" font-size="10.0" text-anchor="start" >0.068</text>
<text x="471.5" y="171.6" font-size="10.0" text-anchor="start" >0.083</text>
<text x="471.5" y="189.0" font-size="10.0" text-anchor="start" >0.086</text>
<path d="M246.3,287.7 247.3,286.7 248.3,285.3 249.3,285.0 250.3,284.8 251.3,285.5 252.3,284.4 253.3,285.0 254.3,284.6 255.3,284.8 256.3,284.3 257.3,284.3 258.3,284.1 259.3,283.5 260.3,283.0 261.3,282.1 262.3,281.6 263.3,280.7 264.3,278.9 265.3,277.8 266.3,277.0 267.3,275.5 268.3,275.2 269.3,274.1 270.3,273.0 271.3,271.9 272.3,271.5 273.3,271.0 274.3,269.7 275.3,268.7 276.3,268.0 277.3,267.4 278.3,266.3 279.3,265.8 280.3,265.0 281.3,264.8 282.3,264.9 283.3,263.9 284.3,263.7 285.3,262.2 286.3,261.3 287.3,261.2 288.3,260.8 289.3,260.4 290.3,259.9 291.3,259.4 292.3,259.6 293.3,259.5 294.3,259.9 295.3,260.2 296.3,260.5 297.3,260.9 298.3,261.2 299.3,262.3 300.3,263.3 301.3,264.5 302.3,267.3 303.3,268.3 304.3,269.5 305.3,271.1 306.3,273.2 307.3,274.9 308.3,277.9 309.3,279.6 310.3,282.0 311.3,283.5 312.3,286.4 313.3,289.1 314.3,290.9 315.3,291.8 316.3,293.7 317.3,294.8 318.3,296.3 319.3,297.0 320.3,298.1 321.3,297.8 322.3,297.2 323.3,297.2 324.3,297.8 325.3,296.9 326.3,297.0 327.3,297.5 328.3,296.2 329.3,295.1 330.3,295.2 331.3,295.0 332.3,294.7 333.3,295.9 334.3,296.6" fill="none" stroke="#111111" stroke-width="1.25" stroke-linejoin="round"/>
<path d="M246.3,297.0 247.3,297.6 248.3,298.0 249.3,297.6 250.3,298.4 251.3,298.4 252.3,298.6 253.3,298.4 254.3,298.5 255.3,297.6 256.3,298.1 257.3,297.4 258.3,296.1 259.3,296.0 260.3,295.2 261.3,293.9 262.3,294.1 263.3,293.2 264.3,292.6 265.3,291.8 266.3,291.2 267.3,290.7 268.3,289.9 269.3,288.6 270.3,288.2 271.3,287.0 272.3,286.3 273.3,285.9 274.3,285.6 275.3,284.5 276.3,283.1 277.3,282.0 278.3,281.2 279.3,280.8 280.3,280.5 281.3,279.6 282.3,279.2 283.3,278.7 284.3,278.4 285.3,276.5 286.3,275.9 287.3,276.3 288.3,276.3 289.3,275.5 290.3,275.2 291.3,274.0 292.3,273.4 293.3,273.3 294.3,273.8 295.3,273.8 296.3,273.6 297.3,274.6 298.3,275.3 299.3,276.5 300.3,277.3 301.3,278.7 302.3,279.5 303.3,280.7 304.3,281.6 305.3,282.8 306.3,284.5 307.3,285.8 308.3,287.7 309.3,289.6 310.3,292.2 311.3,294.1 312.3,296.9 313.3,299.3 314.3,300.6 315.3,303.1 316.3,305.0 317.3,305.9 318.3,306.6 319.3,307.8 320.3,309.6 321.3,311.3 322.3,311.7 323.3,312.5 324.3,312.7 325.3,313.0 326.3,313.7 327.3,313.2 328.3,313.6 329.3,313.9 330.3,313.7 331.3,313.8 332.3,313.3 333.3,313.5 334.3,313.2" fill="none" stroke="#5a2a98" stroke-width="1.25" stroke-linejoin="round"/>
<path d="M246.3,315.4 247.3,315.6 248.3,315.4 249.3,315.7 250.3,315.2 251.3,314.9 252.3,316.2 253.3,315.8 254.3,314.7 255.3,314.9 256.3,314.9 257.3,314.9 258.3,314.7 259.3,313.6 260.3,312.5 261.3,312.0 262.3,311.1 263.3,310.5 264.3,309.6 265.3,308.9 266.3,309.3 267.3,308.2 268.3,307.7 269.3,306.8 270.3,306.3 271.3,305.9 272.3,305.8 273.3,305.5 274.3,304.6 275.3,303.8 276.3,304.5 277.3,303.3 278.3,302.6 279.3,301.4 280.3,301.0 281.3,300.7 282.3,299.5 283.3,299.5 284.3,299.9 285.3,300.4 286.3,299.4 287.3,298.4 288.3,298.1 289.3,298.8 290.3,298.0 291.3,298.2 292.3,299.0 293.3,298.4 294.3,298.1 295.3,298.2 296.3,299.3 297.3,299.6 298.3,299.0 299.3,299.0 300.3,300.0 301.3,301.0 302.3,301.1 303.3,301.1 304.3,302.5 305.3,303.5 306.3,304.1 307.3,305.1 308.3,306.0 309.3,306.8 310.3,307.8 311.3,308.8 312.3,310.1 313.3,311.3 314.3,313.5 315.3,315.0 316.3,316.4 317.3,318.0 318.3,319.3 319.3,320.4 320.3,321.9 321.3,322.8 322.3,323.6 323.3,323.8 324.3,325.2 325.3,326.4 326.3,326.7 327.3,326.9 328.3,327.1 329.3,328.1 330.3,329.3 331.3,329.0 332.3,329.8 333.3,329.6 334.3,330.3" fill="none" stroke="#7d5a1e" stroke-width="1.25" stroke-linejoin="round"/>
<path d="M246.3,337.8 247.3,337.5 248.3,337.9 249.3,337.6 250.3,336.9 251.3,337.8 252.3,337.4 253.3,337.6 254.3,337.9 255.3,337.1 256.3,336.1 257.3,335.8 258.3,335.8 259.3,334.4 260.3,334.3 261.3,333.6 262.3,332.4 263.3,332.2 264.3,331.7 265.3,330.6 266.3,330.1 267.3,329.9 268.3,328.7 269.3,328.3 270.3,328.5 271.3,327.6 272.3,326.4 273.3,326.5 274.3,326.6 275.3,324.9 276.3,325.1 277.3,324.6 278.3,323.7 279.3,323.2 280.3,322.3 281.3,322.5 282.3,321.9 283.3,320.3 284.3,319.9 285.3,319.6 286.3,318.9 287.3,318.8 288.3,318.0 289.3,318.2 290.3,317.6 291.3,317.4 292.3,317.3 293.3,317.2 294.3,316.3 295.3,316.7 296.3,316.7 297.3,316.4 298.3,317.1 299.3,316.8 300.3,317.5 301.3,318.5 302.3,319.1 303.3,320.9 304.3,321.8 305.3,323.5 306.3,323.9 307.3,325.3 308.3,327.7 309.3,328.7 310.3,331.1 311.3,332.5 312.3,334.8 313.3,337.0 314.3,338.2 315.3,339.5 316.3,341.7 317.3,344.2 318.3,345.6 319.3,347.2 320.3,348.0 321.3,348.8 322.3,349.3 323.3,349.7 324.3,350.8 325.3,351.1 326.3,350.5 327.3,351.3 328.3,351.9 329.3,352.2 330.3,351.0 331.3,351.4 332.3,351.6 333.3,351.6 334.3,351.0" fill="none" stroke="#2f8fc4" stroke-width="1.25" stroke-linejoin="round"/>
<path d="M246.3,357.1 247.3,356.6 248.3,357.7 249.3,356.7 250.3,356.3 251.3,355.6 252.3,355.3 253.3,355.0 254.3,354.5 255.3,353.8 256.3,353.9 257.3,353.4 258.3,352.6 259.3,351.8 260.3,351.1 261.3,350.5 262.3,350.4 263.3,349.6 264.3,349.3 265.3,348.1 266.3,348.0 267.3,347.1 268.3,346.3 269.3,346.3 270.3,345.5 271.3,345.2 272.3,344.8 273.3,344.0 274.3,343.1 275.3,342.8 276.3,342.6 277.3,341.5 278.3,341.4 279.3,340.6 280.3,340.0 281.3,339.4 282.3,338.8 283.3,338.7 284.3,338.4 285.3,337.0 286.3,337.0 287.3,336.8 288.3,336.1 289.3,336.0 290.3,335.0 291.3,335.2 292.3,335.1 293.3,334.7 294.3,334.3 295.3,335.4 296.3,335.1 297.3,335.6 298.3,335.6 299.3,336.3 300.3,337.3 301.3,337.3 302.3,338.7 303.3,339.8 304.3,339.3 305.3,340.4 306.3,341.9 307.3,342.6 308.3,344.6 309.3,346.6 310.3,348.3 311.3,350.2 312.3,352.9 313.3,355.1 314.3,356.1 315.3,358.1 316.3,358.6 317.3,360.5 318.3,361.4 319.3,362.4 320.3,363.2 321.3,364.0 322.3,365.1 323.3,365.6 324.3,367.0 325.3,366.9 326.3,367.9 327.3,367.5 328.3,367.6 329.3,368.6 330.3,368.7 331.3,368.8 332.3,369.4 333.3,368.6 334.3,369.1" fill="none" stroke="#3aa63e" stroke-width="1.25" stroke-linejoin="round"/>
<path d="M246.3,382.1 247.3,382.7 248.3,382.8 249.3,382.4 250.3,382.4 251.3,381.4 252.3,380.5 253.3,380.7 254.3,380.7 255.3,380.3 256.3,379.3 257.3,378.5 258.3,379.6 259.3,378.6 260.3,378.1 261.3,377.1 262.3,376.4 263.3,376.3 264.3,375.7 265.3,374.2 266.3,373.5 267.3,372.7 268.3,371.7 269.3,371.1 270.3,370.5 271.3,369.3 272.3,369.9 273.3,368.0 274.3,367.5 275.3,367.5 276.3,366.0 277.3,365.2 278.3,364.6 279.3,364.1 280.3,362.4 281.3,362.2 282.3,360.7 283.3,361.0 284.3,360.2 285.3,359.2 286.3,358.4 287.3,358.7 288.3,358.1 289.3,357.7 290.3,356.3 291.3,356.3 292.3,356.2 293.3,355.9 294.3,354.6 295.3,354.4 296.3,355.0 297.3,354.7 298.3,354.7 299.3,354.3 300.3,355.0 301.3,355.2 302.3,355.8 303.3,356.9 304.3,358.4 305.3,358.7 306.3,359.9 307.3,362.1 308.3,364.6 309.3,366.8 310.3,368.8 311.3,370.5 312.3,371.5 313.3,373.1 314.3,375.4 315.3,376.3 316.3,377.7 317.3,378.7 318.3,380.3 319.3,380.8 320.3,382.0 321.3,383.1 322.3,384.1 323.3,385.3 324.3,386.2 325.3,386.9 326.3,387.1 327.3,387.3 328.3,387.9 329.3,388.2 330.3,388.5 331.3,389.7 332.3,389.1 333.3,389.8 334.3,389.6" fill="none" stroke="#dba54e" stroke-width="1.25" stroke-linejoin="round"/>
<path d="M246.3,399.9 247.3,400.0 248.3,399.8 249.3,399.7 250.3,399.9 251.3,399.3 252.3,398.9 253.3,398.3 254.3,397.6 255.3,397.6 256.3,397.4 257.3,396.6 258.3,395.8 259.3,395.1 260.3,395.5 261.3,394.0 262.3,393.1 263.3,392.2 264.3,392.0 265.3,391.1 266.3,389.9 267.3,389.3 268.3,388.5 269.3,387.4 270.3,386.2 271.3,385.7 272.3,385.0 273.3,383.8 274.3,383.1 275.3,382.8 276.3,382.2 277.3,381.2 278.3,380.1 279.3,379.4 280.3,378.0 281.3,377.2 282.3,376.4 283.3,375.9 284.3,374.6 285.3,374.1 286.3,374.2 287.3,372.8 288.3,371.7 289.3,372.2 290.3,371.7 291.3,370.4 292.3,369.8 293.3,369.5 294.3,369.4 295.3,369.5 296.3,369.0 297.3,367.9 298.3,368.6 299.3,367.8 300.3,368.1 301.3,368.1 302.3,368.0 303.3,368.1 304.3,369.5 305.3,369.3 306.3,370.0 307.3,369.7 308.3,370.5 309.3,370.9 310.3,372.5 311.3,374.2 312.3,375.3 313.3,377.4 314.3,379.4 315.3,381.4 316.3,383.2 317.3,384.5 318.3,386.3 319.3,388.6 320.3,390.9 321.3,392.6 322.3,393.1 323.3,394.0 324.3,395.7 325.3,397.3 326.3,398.6 327.3,398.7 328.3,399.7 329.3,400.8 330.3,400.9 331.3,402.1 332.3,403.0 333.3,403.4 334.3,403.9" fill="none" stroke="#b43cb4" stroke-width="1.25" stroke-linejoin="round"/>
<path d="M246.3,411.5 247.3,410.8 248.3,410.3 249.3,410.8 250.3,410.8 251.3,410.2 252.3,408.6 253.3,408.7 254.3,409.3 255.3,409.3 256.3,407.9 257.3,408.4 258.3,408.1 259.3,407.2 260.3,406.1 261.3,405.8 262.3,405.4 263.3,405.3 264.3,404.7 265.3,403.3 266.3,402.9 267.3,402.3 268.3,401.7 269.3,401.4 270.3,400.4 271.3,399.7 272.3,398.6 273.3,398.6 274.3,397.9 275.3,398.3 276.3,397.2 277.3,396.6 278.3,395.9 279.3,394.9 280.3,394.6 281.3,394.4 282.3,394.3 283.3,393.4 284.3,392.4 285.3,392.3 286.3,391.9 287.3,391.0 288.3,391.5 289.3,391.2 290.3,390.3 291.3,391.0 292.3,389.9 293.3,389.2 294.3,389.7 295.3,388.5 296.3,388.2 297.3,387.2 298.3,387.3 299.3,388.2 300.3,387.2 301.3,387.1 302.3,387.4 303.3,387.6 304.3,387.8 305.3,388.5 306.3,389.8 307.3,391.7 308.3,393.0 309.3,394.9 310.3,395.2 311.3,396.8 312.3,398.2 313.3,399.5 314.3,400.7 315.3,401.2 316.3,403.5 317.3,404.2 318.3,405.1 319.3,406.3 320.3,407.0 321.3,407.7 322.3,408.9 323.3,409.3 324.3,410.6 325.3,412.2 326.3,412.9 327.3,412.8 328.3,413.1 329.3,414.6 330.3,415.4 331.3,415.8 332.3,415.9 333.3,416.7 334.3,417.0" fill="none" stroke="#a3261e" stroke-width="1.25" stroke-linejoin="round"/>
<rect x="246.3" y="253.3" width="88.1" height="165.9" fill="none" stroke="#222" stroke-width="1.4"/>
<path d="M301.4,255 V419" stroke="#333" stroke-width="1.1" stroke-dasharray="3 2.2"/>
<path d="M288.8,252.8 L295.2,252.8 L292.0,258.4 Z" fill="#1a2a8a"/>
<path d="M290.6,266.1 L297.1,266.1 L293.8,271.7 Z" fill="#1a2a8a"/>
<path d="M291.4,289.2 L297.9,289.2 L294.6,294.8 Z" fill="#1a2a8a"/>
<path d="M293.2,309.6 L299.8,309.6 L296.5,315.2 Z" fill="#1a2a8a"/>
<path d="M294.1,328.5 L300.6,328.5 L297.4,334.1 Z" fill="#1a2a8a"/>
<path d="M295.1,346.0 L301.6,346.0 L298.4,351.6 Z" fill="#1a2a8a"/>
<path d="M297.2,360.5 L303.8,360.5 L300.5,366.1 Z" fill="#1a2a8a"/>
<path d="M298.1,380.0 L304.6,380.0 L301.3,385.6 Z" fill="#1a2a8a"/>
<rect x="263.2" y="414.7" width="1.4" height="4.5" fill="#222"/>
<rect x="280.8" y="414.7" width="1.4" height="4.5" fill="#222"/>
<rect x="298.5" y="414.7" width="1.4" height="4.5" fill="#222"/>
<rect x="316.1" y="414.7" width="1.4" height="4.5" fill="#222"/>
<text x="271.0" y="246.6" font-size="10.5" text-anchor="start" >EDC at </text>
<text x="308.5" y="246.6" font-size="11.0" text-anchor="start" font-style="italic">X</text>
<text x="310.0" y="269.3" font-size="9.5" text-anchor="start" >O</text>
<text x="232.2" y="253.8" font-size="20.0" text-anchor="start" >d</text>
<text transform="translate(241.5,337.7) rotate(-90)" font-size="13.4" text-anchor="middle">Intensity (a.u.)</text>
<text x="246.3" y="430.5" font-size="10.0" text-anchor="middle" >4</text>
<text x="334.4" y="430.5" font-size="10.0" text-anchor="middle" >3</text>
<text x="336.5" y="288.3" font-size="10.0" text-anchor="start" >x=</text>
<text x="337.0" y="299.7" font-size="10.0" text-anchor="start" >0.035</text>
<text x="337.0" y="316.5" font-size="10.0" text-anchor="start" >0.040</text>
<text x="337.0" y="332.2" font-size="10.0" text-anchor="start" >0.056</text>
<text x="337.0" y="355.0" font-size="10.0" text-anchor="start" >0.057</text>
<text x="337.0" y="372.4" font-size="10.0" text-anchor="start" >0.063</text>
<text x="337.0" y="393.4" font-size="10.0" text-anchor="start" >0.068</text>
<text x="337.0" y="407.5" font-size="10.0" text-anchor="start" >0.083</text>
<text x="337.0" y="420.8" font-size="10.0" text-anchor="start" >0.086</text>
<path d="M369.3,277.5 370.3,278.2 371.3,279.1 372.3,279.6 373.3,280.8 374.3,281.1 375.3,281.7 376.3,282.2 377.3,282.6 378.3,282.9 379.3,282.9 380.3,283.1 381.3,283.0 382.3,282.8 383.3,282.0 384.3,281.8 385.3,281.7 386.3,281.4 387.3,280.8 388.3,280.0 389.3,279.3 390.3,278.4 391.3,277.0 392.3,276.5 393.3,275.6 394.3,274.6 395.3,273.6 396.3,272.1 397.3,271.1 398.3,269.9 399.3,268.7 400.3,267.4 401.3,266.3 402.3,265.3 403.3,263.8 404.3,262.7 405.3,262.0 406.3,261.6 407.3,260.7 408.3,260.4 409.3,260.4 410.3,260.4 411.3,260.7 412.3,261.6 413.3,261.3 414.3,261.6 415.3,262.5 416.3,263.6 417.3,264.2 418.3,265.3 419.3,266.6 420.3,267.9 421.3,268.6 422.3,269.9 423.3,271.3 424.3,271.9 425.3,273.0 426.3,274.6 427.3,276.0 428.3,277.2 429.3,278.7 430.3,280.4 431.3,282.1 432.3,283.6 433.3,285.4 434.3,286.6 435.3,288.6 436.3,290.3 437.3,292.4 438.3,294.2 439.3,296.3 440.3,297.9 441.3,299.6 442.3,301.5 443.3,303.5 444.3,305.2 445.3,306.9 446.3,308.6 447.3,310.5 448.3,311.9 449.3,312.6 450.3,313.9 451.3,314.5 452.3,315.6 453.3,316.2 454.3,317.0 455.3,318.1 456.3,318.9 457.3,318.9 458.3,319.0 459.3,319.2 460.3,319.4 461.3,319.1 462.3,318.8 463.3,318.5 464.3,318.5 465.3,318.3 466.3,318.5 467.3,318.2 468.3,318.5" fill="none" stroke="#111111" stroke-width="1.25" stroke-linejoin="round"/>
<path d="M369.3,292.2 370.3,292.5 371.3,292.9 372.3,293.4 373.3,293.2 374.3,293.1 375.3,293.3 376.3,293.9 377.3,293.5 378.3,293.3 379.3,293.5 380.3,293.7 381.3,293.6 382.3,293.7 383.3,292.9 384.3,292.3 385.3,292.5 386.3,291.9 387.3,291.4 388.3,290.7 389.3,290.2 390.3,290.0 391.3,288.8 392.3,288.2 393.3,287.5 394.3,287.3 395.3,286.4 396.3,285.4 397.3,285.0 398.3,284.5 399.3,283.2 400.3,282.4 401.3,281.8 402.3,280.8 403.3,279.6 404.3,278.7 405.3,278.0 406.3,277.4 407.3,276.4 408.3,276.4 409.3,276.3 410.3,276.6 411.3,276.0 412.3,276.6 413.3,277.2 414.3,277.9 415.3,277.9 416.3,278.4 417.3,279.2 418.3,279.9 419.3,280.5 420.3,280.9 421.3,282.2 422.3,282.6 423.3,283.7 424.3,284.8 425.3,285.6 426.3,286.8 427.3,287.5 428.3,288.8 429.3,289.9 430.3,290.8 431.3,292.0 432.3,293.3 433.3,294.9 434.3,295.9 435.3,297.2 436.3,299.2 437.3,301.2 438.3,303.7 439.3,305.5 440.3,306.9 441.3,308.5 442.3,310.8 443.3,312.0 444.3,313.2 445.3,315.2 446.3,316.6 447.3,318.8 448.3,320.5 449.3,322.1 450.3,324.2 451.3,326.0 452.3,328.6 453.3,330.0 454.3,331.3 455.3,332.5 456.3,333.2 457.3,334.0 458.3,334.8 459.3,335.6 460.3,335.7 461.3,336.0 462.3,336.3 463.3,336.4 464.3,336.3 465.3,336.3 466.3,336.5 467.3,336.8 468.3,337.0" fill="none" stroke="#5a2a98" stroke-width="1.25" stroke-linejoin="round"/>
<path d="M369.3,304.5 370.3,305.1 371.3,305.4 372.3,305.7 373.3,306.1 374.3,306.3 375.3,306.4 376.3,306.4 377.3,306.3 378.3,306.6 379.3,306.6 380.3,306.8 381.3,306.8 382.3,306.1 383.3,306.3 384.3,305.6 385.3,305.1 386.3,304.9 387.3,304.6 388.3,304.3 389.3,304.0 390.3,302.7 391.3,302.2 392.3,301.8 393.3,301.1 394.3,300.2 395.3,299.6 396.3,298.8 397.3,297.8 398.3,296.7 399.3,295.8 400.3,294.5 401.3,293.4 402.3,292.0 403.3,290.7 404.3,290.5 405.3,289.7 406.3,289.2 407.3,288.6 408.3,288.3 409.3,288.4 410.3,288.8 411.3,288.7 412.3,289.1 413.3,289.6 414.3,290.2 415.3,291.0 416.3,291.0 417.3,292.0 418.3,292.2 419.3,292.8 420.3,293.5 421.3,294.5 422.3,295.3 423.3,295.4 424.3,296.1 425.3,296.8 426.3,297.4 427.3,298.2 428.3,299.4 429.3,300.6 430.3,301.7 431.3,303.0 432.3,304.7 433.3,306.4 434.3,308.0 435.3,309.7 436.3,311.2 437.3,313.3 438.3,315.2 439.3,316.9 440.3,318.9 441.3,320.9 442.3,323.1 443.3,325.3 444.3,327.6 445.3,329.8 446.3,331.9 447.3,334.2 448.3,335.9 449.3,338.1 450.3,339.9 451.3,342.1 452.3,344.3 453.3,345.7 454.3,346.8 455.3,347.5 456.3,348.3 457.3,349.2 458.3,350.1 459.3,350.6 460.3,351.4 461.3,351.6 462.3,351.4 463.3,351.1 464.3,351.3 465.3,351.2 466.3,351.2 467.3,351.3 468.3,351.4" fill="none" stroke="#7d5a1e" stroke-width="1.25" stroke-linejoin="round"/>
<path d="M369.3,315.0 370.3,315.4 371.3,316.2 372.3,316.4 373.3,316.7 374.3,317.4 375.3,317.9 376.3,318.2 377.3,318.3 378.3,318.2 379.3,318.1 380.3,318.3 381.3,318.3 382.3,318.0 383.3,317.6 384.3,317.3 385.3,317.0 386.3,316.3 387.3,316.0 388.3,315.4 389.3,315.4 390.3,314.7 391.3,314.0 392.3,313.6 393.3,312.9 394.3,312.0 395.3,311.4 396.3,310.6 397.3,310.3 398.3,308.5 399.3,307.2 400.3,306.9 401.3,305.8 402.3,304.9 403.3,304.4 404.3,303.0 405.3,302.0 406.3,301.5 407.3,300.7 408.3,300.8 409.3,300.6 410.3,301.1 411.3,302.0 412.3,302.7 413.3,302.6 414.3,303.5 415.3,304.3 416.3,305.2 417.3,305.7 418.3,306.4 419.3,307.7 420.3,308.6 421.3,309.2 422.3,309.8 423.3,311.3 424.3,312.5 425.3,314.5 426.3,315.6 427.3,317.0 428.3,318.4 429.3,319.7 430.3,320.7 431.3,322.3 432.3,323.6 433.3,324.6 434.3,326.8 435.3,328.3 436.3,330.0 437.3,331.9 438.3,333.6 439.3,335.8 440.3,337.3 441.3,338.9 442.3,341.2 443.3,342.7 444.3,344.2 445.3,345.8 446.3,347.4 447.3,349.1 448.3,350.3 449.3,351.8 450.3,352.8 451.3,354.0 452.3,355.4 453.3,356.5 454.3,357.1 455.3,357.6 456.3,358.4 457.3,359.3 458.3,359.7 459.3,359.7 460.3,360.3 461.3,360.2 462.3,360.2 463.3,360.3 464.3,360.2 465.3,360.4 466.3,359.8 467.3,359.6 468.3,359.7" fill="none" stroke="#2f8fc4" stroke-width="1.25" stroke-linejoin="round"/>
<path d="M369.3,333.0 370.3,333.6 371.3,334.4 372.3,334.8 373.3,334.6 374.3,335.1 375.3,334.9 376.3,335.1 377.3,335.3 378.3,335.1 379.3,335.3 380.3,334.3 381.3,334.3 382.3,334.0 383.3,333.7 384.3,333.3 385.3,332.7 386.3,332.7 387.3,331.9 388.3,331.7 389.3,331.2 390.3,330.2 391.3,329.8 392.3,328.9 393.3,328.0 394.3,327.4 395.3,326.7 396.3,325.8 397.3,324.7 398.3,323.7 399.3,322.8 400.3,322.3 401.3,321.2 402.3,320.0 403.3,318.9 404.3,317.8 405.3,317.0 406.3,316.4 407.3,315.7 408.3,315.3 409.3,315.4 410.3,315.4 411.3,315.7 412.3,316.3 413.3,316.8 414.3,316.7 415.3,317.0 416.3,317.3 417.3,317.8 418.3,318.1 419.3,319.0 420.3,319.8 421.3,320.1 422.3,320.9 423.3,321.7 424.3,322.6 425.3,323.9 426.3,324.9 427.3,326.3 428.3,327.3 429.3,328.5 430.3,329.9 431.3,331.5 432.3,333.5 433.3,335.2 434.3,337.3 435.3,338.9 436.3,340.9 437.3,342.9 438.3,344.7 439.3,347.1 440.3,349.1 441.3,350.8 442.3,352.8 443.3,354.9 444.3,356.7 445.3,358.6 446.3,360.3 447.3,361.9 448.3,363.1 449.3,364.3 450.3,365.6 451.3,366.9 452.3,367.8 453.3,368.7 454.3,369.9 455.3,371.5 456.3,372.5 457.3,373.8 458.3,374.6 459.3,375.3 460.3,376.0 461.3,376.2 462.3,376.4 463.3,375.8 464.3,375.9 465.3,376.1 466.3,375.8 467.3,376.2 468.3,376.1" fill="none" stroke="#3aa63e" stroke-width="1.25" stroke-linejoin="round"/>
<path d="M369.3,346.3 370.3,346.1 371.3,347.1 372.3,347.8 373.3,347.7 374.3,348.2 375.3,348.7 376.3,348.4 377.3,348.9 378.3,349.2 379.3,349.0 380.3,349.2 381.3,348.7 382.3,348.4 383.3,348.3 384.3,347.6 385.3,347.7 386.3,347.0 387.3,346.2 388.3,346.1 389.3,345.4 390.3,344.6 391.3,343.9 392.3,343.4 393.3,342.3 394.3,341.7 395.3,341.3 396.3,340.1 397.3,339.2 398.3,337.9 399.3,336.9 400.3,335.3 401.3,334.6 402.3,333.7 403.3,332.9 404.3,332.2 405.3,331.0 406.3,330.3 407.3,330.0 408.3,329.4 409.3,328.9 410.3,328.4 411.3,329.0 412.3,328.9 413.3,328.9 414.3,328.5 415.3,328.9 416.3,328.8 417.3,329.9 418.3,330.4 419.3,331.1 420.3,331.7 421.3,332.7 422.3,333.4 423.3,334.0 424.3,335.3 425.3,336.2 426.3,337.1 427.3,338.6 428.3,339.4 429.3,340.7 430.3,341.9 431.3,343.5 432.3,345.6 433.3,347.6 434.3,348.7 435.3,350.5 436.3,352.4 437.3,354.8 438.3,357.1 439.3,358.8 440.3,360.7 441.3,363.0 442.3,364.9 443.3,366.7 444.3,368.6 445.3,370.4 446.3,372.5 447.3,374.2 448.3,376.7 449.3,378.7 450.3,380.0 451.3,381.9 452.3,384.0 453.3,385.8 454.3,387.3 455.3,388.2 456.3,389.4 457.3,390.0 458.3,391.0 459.3,391.6 460.3,391.7 461.3,391.8 462.3,392.1 463.3,392.1 464.3,392.1 465.3,391.5 466.3,392.1 467.3,392.2 468.3,392.0" fill="none" stroke="#dba54e" stroke-width="1.25" stroke-linejoin="round"/>
<path d="M369.3,362.3 370.3,362.9 371.3,363.4 372.3,363.4 373.3,363.4 374.3,363.6 375.3,363.6 376.3,363.7 377.3,363.1 378.3,363.1 379.3,363.0 380.3,362.5 381.3,362.2 382.3,361.6 383.3,361.1 384.3,361.0 385.3,359.8 386.3,359.3 387.3,358.9 388.3,358.2 389.3,357.9 390.3,357.2 391.3,356.4 392.3,355.7 393.3,354.5 394.3,353.2 395.3,351.8 396.3,350.5 397.3,349.5 398.3,348.3 399.3,347.1 400.3,346.1 401.3,345.2 402.3,344.4 403.3,343.4 404.3,342.1 405.3,341.4 406.3,340.8 407.3,340.1 408.3,339.6 409.3,339.4 410.3,339.0 411.3,339.2 412.3,339.2 413.3,340.1 414.3,340.2 415.3,340.7 416.3,341.8 417.3,342.1 418.3,342.4 419.3,342.8 420.3,343.4 421.3,344.0 422.3,344.9 423.3,345.5 424.3,347.2 425.3,348.3 426.3,349.3 427.3,350.7 428.3,351.7 429.3,353.4 430.3,355.1 431.3,356.8 432.3,358.3 433.3,359.7 434.3,361.7 435.3,363.9 436.3,365.4 437.3,368.1 438.3,369.8 439.3,372.3 440.3,374.9 441.3,376.9 442.3,378.8 443.3,381.2 444.3,383.2 445.3,384.9 446.3,387.0 447.3,389.2 448.3,390.6 449.3,392.5 450.3,394.4 451.3,396.2 452.3,397.7 453.3,399.0 454.3,400.1 455.3,400.9 456.3,401.9 457.3,402.7 458.3,403.5 459.3,404.2 460.3,404.2 461.3,404.3 462.3,404.4 463.3,404.1 464.3,404.2 465.3,403.8 466.3,403.9 467.3,403.4 468.3,402.8" fill="none" stroke="#b43cb4" stroke-width="1.25" stroke-linejoin="round"/>
<path d="M369.3,373.5 370.3,373.9 371.3,374.5 372.3,374.7 373.3,374.7 374.3,374.8 375.3,374.6 376.3,374.8 377.3,375.1 378.3,375.1 379.3,374.8 380.3,374.6 381.3,374.7 382.3,374.5 383.3,373.9 384.3,373.8 385.3,373.7 386.3,373.1 387.3,372.9 388.3,372.5 389.3,371.7 390.3,371.1 391.3,370.4 392.3,369.8 393.3,369.3 394.3,368.8 395.3,368.0 396.3,367.0 397.3,366.0 398.3,365.6 399.3,364.9 400.3,363.9 401.3,362.9 402.3,362.1 403.3,360.9 404.3,359.6 405.3,358.5 406.3,358.7 407.3,358.1 408.3,357.9 409.3,357.3 410.3,357.3 411.3,356.9 412.3,357.0 413.3,356.8 414.3,356.8 415.3,356.7 416.3,357.1 417.3,357.3 418.3,357.6 419.3,357.7 420.3,358.1 421.3,358.5 422.3,359.5 423.3,360.5 424.3,361.4 425.3,362.4 426.3,362.6 427.3,362.9 428.3,363.2 429.3,363.9 430.3,364.4 431.3,365.3 432.3,365.7 433.3,367.1 434.3,368.4 435.3,370.0 436.3,371.9 437.3,373.9 438.3,376.4 439.3,379.1 440.3,381.6 441.3,383.1 442.3,385.3 443.3,387.1 444.3,388.9 445.3,390.8 446.3,392.2 447.3,393.9 448.3,395.5 449.3,397.3 450.3,398.7 451.3,400.0 452.3,401.5 453.3,402.6 454.3,403.9 455.3,405.7 456.3,406.9 457.3,408.1 458.3,409.6 459.3,410.4 460.3,411.1 461.3,411.7 462.3,412.5 463.3,413.4 464.3,414.2 465.3,414.5 466.3,414.8 467.3,415.0 468.3,415.3" fill="none" stroke="#a3261e" stroke-width="1.25" stroke-linejoin="round"/>
<rect x="369.3" y="253.3" width="99.8" height="165.7" fill="none" stroke="#222" stroke-width="1.4"/>
<path d="M413.2,255 V419" stroke="#333" stroke-width="1.1" stroke-dasharray="3 2.2"/>
<path d="M408.0,253.6 L411.2,256.8 L408.0,260.0 L404.8,256.8 Z" fill="#000"/>
<path d="M409.3,267.7 L412.5,270.9 L409.3,274.1 L406.1,270.9 Z" fill="#000"/>
<path d="M409.3,280.3 L412.5,283.5 L409.3,286.7 L406.1,283.5 Z" fill="#000"/>
<path d="M409.3,292.4 L412.5,295.6 L409.3,298.8 L406.1,295.6 Z" fill="#000"/>
<path d="M410.6,306.3 L413.8,309.5 L410.6,312.7 L407.4,309.5 Z" fill="#000"/>
<path d="M410.6,321.1 L413.8,324.3 L410.6,327.5 L407.4,324.3 Z" fill="#000"/>
<path d="M410.8,331.9 L414.0,335.1 L410.8,338.3 L407.6,335.1 Z" fill="#000"/>
<path d="M412.4,348.4 L415.6,351.6 L412.4,354.8 L409.2,351.6 Z" fill="#000"/>
<rect x="373.6" y="414.8" width="1.4" height="4.2" fill="#222"/>
<rect x="383.6" y="414.8" width="1.4" height="4.2" fill="#222"/>
<rect x="393.6" y="412.0" width="1.4" height="7.0" fill="#222"/>
<rect x="403.6" y="414.8" width="1.4" height="4.2" fill="#222"/>
<rect x="413.6" y="414.8" width="1.4" height="4.2" fill="#222"/>
<rect x="423.6" y="414.8" width="1.4" height="4.2" fill="#222"/>
<rect x="433.6" y="414.8" width="1.4" height="4.2" fill="#222"/>
<rect x="443.6" y="412.0" width="1.4" height="7.0" fill="#222"/>
<rect x="453.6" y="414.8" width="1.4" height="4.2" fill="#222"/>
<rect x="463.6" y="414.8" width="1.4" height="4.2" fill="#222"/>
<text x="398.0" y="247.2" font-size="10.5" text-anchor="start" >EDC at &#915;</text>
<text x="429.6" y="266.0" font-size="10.0" text-anchor="start" >Ir+O</text>
<text x="354.8" y="254.0" font-size="21.0" text-anchor="start" >e</text>
<text x="394.3" y="432.0" font-size="10.0" text-anchor="middle" >4</text>
<text x="444.3" y="432.0" font-size="10.0" text-anchor="middle" >3</text>
<text x="353.0" y="442.3" font-size="13.2" text-anchor="middle" >Binding Energy (eV)</text>
<text x="471.5" y="310.5" font-size="10.0" text-anchor="start" >x=</text>
<text x="471.7" y="321.8" font-size="10.0" text-anchor="start" >0.035</text>
<text x="471.7" y="339.6" font-size="10.0" text-anchor="start" >0.040</text>
<text x="471.7" y="353.7" font-size="10.0" text-anchor="start" >0.056</text>
<text x="471.7" y="364.6" font-size="10.0" text-anchor="start" >0.057</text>
<text x="471.7" y="379.1" font-size="10.0" text-anchor="start" >0.063</text>
<text x="471.7" y="393.2" font-size="10.0" text-anchor="start" >0.068</text>
<text x="471.7" y="405.8" font-size="10.0" text-anchor="start" >0.083</text>
<text x="471.7" y="417.9" font-size="10.0" text-anchor="start" >0.086</text>
<rect x="45.5" y="253.3" width="177.9" height="166.4" fill="none" stroke="#222" stroke-width="1.3"/>
<path d="M46,259.8 L223,383" stroke="#999" stroke-width="1.9" stroke-dasharray="6 4"/>
<rect x="59.8" y="415.7" width="1.2" height="4.0" fill="#222"/>
<rect x="74.7" y="413.7" width="1.2" height="6.0" fill="#222"/>
<rect x="89.6" y="415.7" width="1.2" height="4.0" fill="#222"/>
<rect x="104.5" y="413.7" width="1.2" height="6.0" fill="#222"/>
<rect x="119.4" y="415.7" width="1.2" height="4.0" fill="#222"/>
<rect x="134.3" y="413.7" width="1.2" height="6.0" fill="#222"/>
<rect x="149.2" y="415.7" width="1.2" height="4.0" fill="#222"/>
<rect x="164.1" y="413.7" width="1.2" height="6.0" fill="#222"/>
<rect x="179.0" y="415.7" width="1.2" height="4.0" fill="#222"/>
<rect x="193.9" y="413.7" width="1.2" height="6.0" fill="#222"/>
<rect x="208.8" y="415.7" width="1.2" height="4.0" fill="#222"/>
<rect x="45.5" y="265.9" width="6.0" height="1.2" fill="#222"/>
<rect x="45.5" y="291.1" width="4.0" height="1.2" fill="#222"/>
<rect x="45.5" y="316.4" width="6.0" height="1.2" fill="#222"/>
<rect x="45.5" y="341.6" width="4.0" height="1.2" fill="#222"/>
<rect x="45.5" y="366.9" width="6.0" height="1.2" fill="#222"/>
<rect x="45.5" y="392.1" width="4.0" height="1.2" fill="#222"/>
<rect x="45.5" y="417.4" width="6.0" height="1.2" fill="#222"/>
<rect x="49.7" y="253.3" width="1.2" height="7.0" fill="#222"/>
<rect x="65.3" y="253.3" width="1.2" height="4.5" fill="#222"/>
<rect x="80.9" y="253.3" width="1.2" height="7.0" fill="#222"/>
<rect x="96.5" y="253.3" width="1.2" height="4.5" fill="#222"/>
<rect x="112.1" y="253.3" width="1.2" height="7.0" fill="#222"/>
<rect x="127.7" y="253.3" width="1.2" height="4.5" fill="#222"/>
<rect x="143.3" y="253.3" width="1.2" height="7.0" fill="#222"/>
<rect x="158.9" y="253.3" width="1.2" height="4.5" fill="#222"/>
<rect x="174.5" y="253.3" width="1.2" height="7.0" fill="#222"/>
<rect x="190.1" y="253.3" width="1.2" height="4.5" fill="#222"/>
<rect x="205.7" y="253.3" width="1.2" height="7.0" fill="#222"/>
<text x="50.3" y="249.8" font-size="10.0" text-anchor="middle" >3</text>
<text x="81.5" y="249.8" font-size="10.0" text-anchor="middle" >4</text>
<text x="112.7" y="249.8" font-size="10.0" text-anchor="middle" >5</text>
<text x="143.9" y="249.8" font-size="10.0" text-anchor="middle" >6</text>
<text x="175.1" y="249.8" font-size="10.0" text-anchor="middle" >7</text>
<text x="206.3" y="249.8" font-size="10.0" text-anchor="middle" >8</text>
<text x="63.2" y="238.6" font-size="12.5" text-anchor="start" >Elec. Density (x10</text>
<text x="164.5" y="229.5" font-size="7.5" text-anchor="start" >20</text>
<text x="172.2" y="238.6" font-size="12.5" text-anchor="start" >cm</text>
<text x="188.3" y="230.0" font-size="7.5" text-anchor="start" >-3</text>
<text x="192.5" y="238.6" font-size="12.5" text-anchor="start" >)</text>
<text x="7.8" y="254.0" font-size="21.0" text-anchor="start" >c</text>
<text x="43.2" y="270.4" font-size="11.0" text-anchor="end" >0</text>
<text x="43.2" y="320.9" font-size="11.0" text-anchor="end" >-40</text>
<text x="43.2" y="371.4" font-size="11.0" text-anchor="end" >-80</text>
<text x="43.2" y="421.9" font-size="11.0" text-anchor="end" >-120</text>
<text x="46.0" y="430.5" font-size="10.0" text-anchor="middle" >0.03</text>
<text x="105.6" y="430.5" font-size="10.0" text-anchor="middle" >0.05</text>
<text x="166.5" y="430.5" font-size="10.0" text-anchor="middle" >0.07</text>
<text x="220.2" y="430.5" font-size="10.0" text-anchor="middle" >0.09</text>
<text x="138.0" y="443.0" font-size="13.0" text-anchor="middle" >Doping Level x</text>
<text transform="translate(16.5,339) rotate(-90)" font-size="11" text-anchor="middle">&#916; &#956; (meV)</text>
<clipPath id="cclip"><rect x="46" y="254" width="177" height="165"/></clipPath><g clip-path="url(#cclip)">
<path d="M60.4,253.9 V279.1 M56.4,253.9 h8 M56.4,279.1 h8" stroke="#9a4040" stroke-width="1.2"/>
<path d="M73.8,281.6 V301.9 M69.8,281.6 h8 M69.8,301.9 h8" stroke="#9a4040" stroke-width="1.2"/>
<path d="M123.0,285.4 V310.7 M119.0,285.4 h8 M119.0,310.7 h8" stroke="#9a4040" stroke-width="1.2"/>
<path d="M126.0,298.1 V323.3 M122.0,298.1 h8 M122.0,323.3 h8" stroke="#9a4040" stroke-width="1.2"/>
<path d="M142.4,304.4 V329.6 M138.4,304.4 h8 M138.4,329.6 h8" stroke="#9a4040" stroke-width="1.2"/>
<path d="M157.2,304.4 V329.6 M153.2,304.4 h8 M153.2,329.6 h8" stroke="#9a4040" stroke-width="1.2"/>
<path d="M203.4,329.6 V354.9 M199.4,329.6 h8 M199.4,354.9 h8" stroke="#9a4040" stroke-width="1.2"/>
<path d="M212.4,354.9 V380.1 M208.4,354.9 h8 M208.4,380.1 h8" stroke="#9a4040" stroke-width="1.2"/>
<path d="M73.8,285.4 V323.3 M69.8,285.4 h8 M69.8,323.3 h8" stroke="#484848" stroke-width="1.2"/>
<path d="M126.0,285.4 V323.3 M122.0,285.4 h8 M122.0,323.3 h8" stroke="#484848" stroke-width="1.2"/>
<path d="M142.4,310.7 V348.6 M138.4,310.7 h8 M138.4,348.6 h8" stroke="#484848" stroke-width="1.2"/>
<path d="M157.2,320.8 V351.1 M153.2,320.8 h8 M153.2,351.1 h8" stroke="#484848" stroke-width="1.2"/>
<path d="M203.4,335.9 V373.8 M199.4,335.9 h8 M199.4,373.8 h8" stroke="#484848" stroke-width="1.2"/>
<path d="M212.4,352.4 V382.6 M208.4,352.4 h8 M208.4,382.6 h8" stroke="#484848" stroke-width="1.2"/>
<path d="M60.4,247.6 V285.4 M56.4,247.6 h8 M56.4,285.4 h8" stroke="#34449a" stroke-width="1.2"/>
<path d="M73.8,279.1 V304.4 M69.8,279.1 h8 M69.8,304.4 h8" stroke="#34449a" stroke-width="1.2"/>
<path d="M121.5,279.1 V329.6 M117.5,279.1 h8 M117.5,329.6 h8" stroke="#34449a" stroke-width="1.2"/>
<path d="M126.0,317.0 V342.2 M122.0,317.0 h8 M122.0,342.2 h8" stroke="#34449a" stroke-width="1.2"/>
<path d="M142.4,329.6 V354.9 M138.4,329.6 h8 M138.4,354.9 h8" stroke="#34449a" stroke-width="1.2"/>
<path d="M157.2,342.2 V367.5 M153.2,342.2 h8 M153.2,367.5 h8" stroke="#34449a" stroke-width="1.2"/>
<path d="M203.4,361.2 V399.1 M199.4,361.2 h8 M199.4,399.1 h8" stroke="#34449a" stroke-width="1.2"/>
<path d="M213.9,377.6 V407.9 M209.9,377.6 h8 M209.9,407.9 h8" stroke="#34449a" stroke-width="1.2"/>
<path d="M73.8,299.7 L78.5,304.4 L73.8,309.1 L69.1,304.4 Z" fill="#0a0a20"/>
<path d="M126.0,299.7 L130.7,304.4 L126.0,309.1 L121.3,304.4 Z" fill="#0a0a20"/>
<path d="M142.4,324.9 L147.1,329.6 L142.4,334.3 L137.7,329.6 Z" fill="#0a0a20"/>
<path d="M157.2,331.2 L161.9,335.9 L157.2,340.6 L152.6,335.9 Z" fill="#0a0a20"/>
<path d="M203.4,350.2 L208.1,354.9 L203.4,359.6 L198.7,354.9 Z" fill="#0a0a20"/>
<path d="M212.4,362.8 L217.1,367.5 L212.4,372.2 L207.7,367.5 Z" fill="#0a0a20"/>
<path d="M60.4,260.5 Q62.8,264.3 67.0,266.5 Q62.8,268.7 60.4,272.5 Q58.0,268.7 53.8,266.5 Q58.0,264.3 60.4,260.5 Z" fill="#e82818"/>
<path d="M73.8,285.8 Q76.2,289.6 80.4,291.8 Q76.2,293.9 73.8,297.8 Q71.4,293.9 67.2,291.8 Q71.4,289.6 73.8,285.8 Z" fill="#e82818"/>
<path d="M123.0,292.1 Q125.4,295.9 129.6,298.1 Q125.4,300.2 123.0,304.1 Q120.6,300.2 116.4,298.1 Q120.6,295.9 123.0,292.1 Z" fill="#e82818"/>
<path d="M126.0,304.7 Q128.3,308.5 132.6,310.7 Q128.3,312.8 126.0,316.7 Q123.6,312.8 119.4,310.7 Q123.6,308.5 126.0,304.7 Z" fill="#e82818"/>
<path d="M142.4,311.0 Q144.7,314.8 149.0,317.0 Q144.7,319.2 142.4,323.0 Q140.0,319.2 135.8,317.0 Q140.0,314.8 142.4,311.0 Z" fill="#e82818"/>
<path d="M157.2,311.0 Q159.6,314.8 163.8,317.0 Q159.6,319.2 157.2,323.0 Q154.9,319.2 150.7,317.0 Q154.9,314.8 157.2,311.0 Z" fill="#e82818"/>
<path d="M203.4,336.2 Q205.8,340.1 210.0,342.2 Q205.8,344.4 203.4,348.2 Q201.1,344.4 196.8,342.2 Q201.1,340.1 203.4,336.2 Z" fill="#e82818"/>
<path d="M212.4,361.5 Q214.8,365.3 219.0,367.5 Q214.8,369.7 212.4,373.5 Q210.0,369.7 205.8,367.5 Q210.0,365.3 212.4,361.5 Z" fill="#e82818"/>
<path d="M55.2,261.9 L65.6,261.9 L60.4,271.1 Z" fill="#1010d0"/>
<path d="M68.6,287.1 L79.0,287.1 L73.8,296.4 Z" fill="#1010d0"/>
<path d="M116.3,299.8 L126.7,299.8 L121.5,309.0 Z" fill="#1010d0"/>
<path d="M120.8,325.0 L131.2,325.0 L126.0,334.2 Z" fill="#1010d0"/>
<path d="M137.2,337.6 L147.6,337.6 L142.4,346.9 Z" fill="#1010d0"/>
<path d="M152.1,350.3 L162.4,350.3 L157.2,359.5 Z" fill="#1010d0"/>
<path d="M198.2,375.5 L208.6,375.5 L203.4,384.7 Z" fill="#1010d0"/>
<path d="M208.7,388.1 L219.1,388.1 L213.9,397.4 Z" fill="#1010d0"/>
</g>
<text x="61.0" y="363.8" font-size="9.8" text-anchor="start" >From Panel</text>
<path d="M75.0,368.6 Q76.6,372.4 80.2,374.0 Q76.6,375.6 75.0,379.4 Q73.4,375.6 69.8,374.0 Q73.4,372.4 75.0,368.6 Z" fill="#e82818"/>
<path d="M70.5,383.5 L79.5,383.5 L75.0,391.5 Z" fill="#1010d0"/>
<path d="M75.0,395.9 L79.6,400.5 L75.0,405.1 L70.4,400.5 Z" fill="#000"/>
<text x="87.0" y="378.0" font-size="11.0" text-anchor="start" font-weight="bold">b</text>
<text x="87.0" y="391.0" font-size="11.0" text-anchor="start" font-weight="bold">d</text>
<text x="87.0" y="404.5" font-size="11.0" text-anchor="start" font-weight="bold">e</text>
</svg></body></html>
